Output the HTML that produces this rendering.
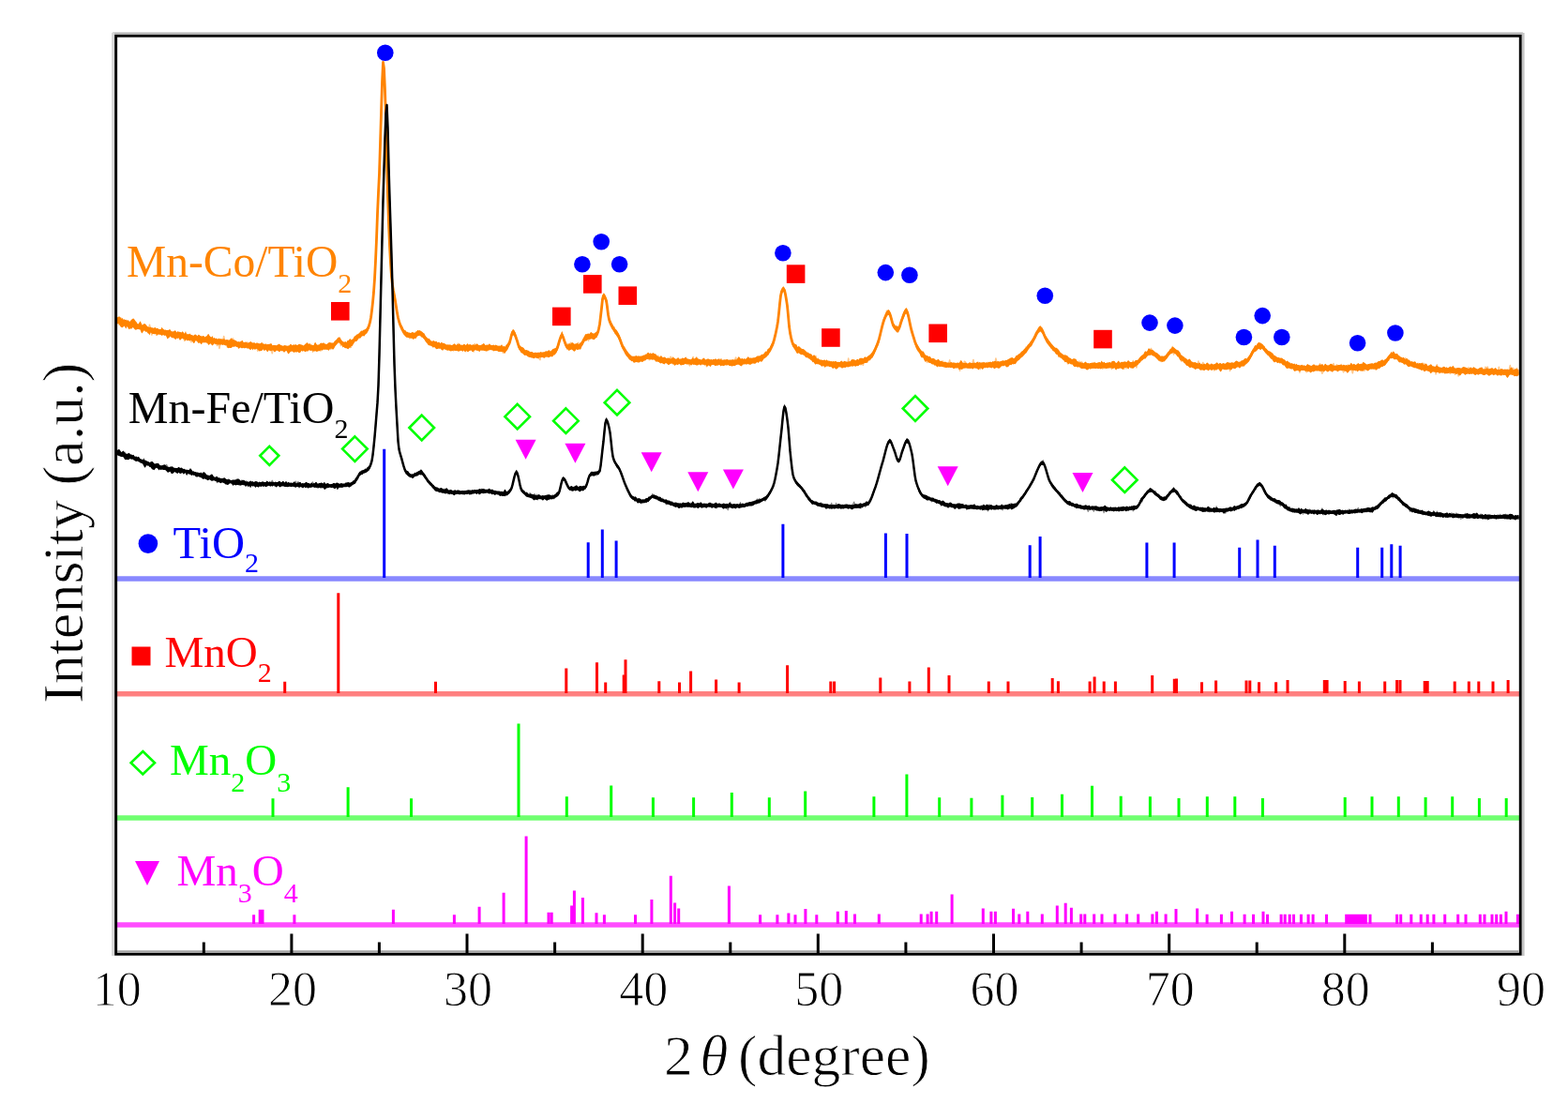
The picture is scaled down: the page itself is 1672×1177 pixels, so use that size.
<!DOCTYPE html><html><head><meta charset="utf-8"><style>html,body{margin:0;padding:0;background:#fff;}svg{display:block;}</style></head><body><svg width="1672" height="1177" viewBox="0 0 1672 1177"><rect x="0" y="0" width="1672" height="1177" fill="#fff"/><path d="M123.5 616.9H1621.5" stroke="#8888ff" stroke-width="5.5"/><path d="M409.7 616.0V478.8M627.2 616.0V578.2M642.3 616.0V564.4M657.1 616.0V576.6M834.9 616.0V558.7M944.4 616.0V568.5M967.0 616.0V568.9M1098.2 616.0V581.3M1109.1 616.0V572.1M1222.9 616.0V578.6M1252.1 616.0V578.6M1321.7 616.0V583.7M1341.0 616.0V575.6M1359.3 616.0V581.7M1447.7 616.0V583.7M1473.7 616.0V583.7M1483.8 616.0V580.3M1493.1 616.0V581.7" stroke="#0000ff" stroke-width="3" fill="none"/><path d="M123.5 739.7H1621.5" stroke="#ff8080" stroke-width="5.5"/><path d="M303.7 739.0V726.8M360.8 739.0V632.2M464.5 739.0V726.8M603.8 739.0V712.5M636.5 739.0V706.3M645.7 739.0V727.6M665.2 739.0V719.5M667.0 739.0V703.2M702.8 739.0V726.2M724.5 739.0V727.6M736.6 739.0V715.4M763.6 739.0V724.6M788.1 739.0V727.6M839.6 739.0V709.3M885.8 739.0V726.6M889.6 739.0V726.6M938.8 739.0V722.5M969.9 739.0V726.6M990.3 739.0V711.4M1012.0 739.0V720.1M1054.3 739.0V726.6M1075.0 739.0V726.6M1122.2 739.0V722.9M1128.4 739.0V726.2M1162.1 739.0V726.6M1167.1 739.0V721.5M1177.2 739.0V726.6M1189.4 739.0V726.6M1228.7 739.0V720.1M1252.3 739.0V723.8M1254.5 739.0V723.5M1281.5 739.0V727.3M1296.6 739.0V725.5M1329.0 739.0V725.5M1332.8 739.0V725.5M1342.5 739.0V727.3M1360.6 739.0V727.3M1373.0 739.0V725.0M1412.3 739.0V725.0M1415.1 739.0V725.0M1434.2 739.0V726.0M1449.4 739.0V726.5M1476.7 739.0V726.5M1489.6 739.0V725.0M1493.0 739.0V725.0M1519.2 739.0V726.0M1522.2 739.0V726.0M1551.2 739.0V726.5M1566.3 739.0V726.5M1576.8 739.0V726.5M1592.0 739.0V726.5M1608.1 739.0V725.0" stroke="#ff0000" stroke-width="3" fill="none"/><path d="M123.5 872H1621.5" stroke="#70ff70" stroke-width="5.5"/><path d="M291.0 871.0V851.2M371.1 871.0V839.2M438.5 871.0V851.2M553.0 871.0V771.4M604.3 871.0V849.3M651.7 871.0V837.4M696.4 871.0V850.2M739.6 871.0V850.2M780.3 871.0V844.9M820.3 871.0V850.2M858.7 871.0V843.4M931.9 871.0V849.3M966.9 871.0V825.4M1001.7 871.0V850.2M1035.9 871.0V850.8M1068.9 871.0V847.8M1100.7 871.0V850.0M1132.5 871.0V846.7M1164.5 871.0V837.8M1195.2 871.0V848.7M1226.4 871.0V849.3M1257.0 871.0V851.0M1287.3 871.0V849.3M1316.8 871.0V849.3M1346.4 871.0V851.0M1434.2 871.0V850.0M1463.0 871.0V849.3M1491.3 871.0V849.3M1520.1 871.0V850.0M1548.7 871.0V849.3M1577.4 871.0V851.0M1606.2 871.0V851.0" stroke="#00ff00" stroke-width="3" fill="none"/><path d="M123.5 986H1621.5" stroke="#ff4cff" stroke-width="5.5"/><path d="M270.6 985.0V975.2M277.2 985.0V969.7M280.0 985.0V969.7M313.9 985.0V975.2M419.4 985.0V969.7M484.4 985.0V975.2M511.1 985.0V966.8M537.1 985.0V951.8M561.1 985.0V891.5M585.0 985.0V972.8M588.2 985.0V972.8M609.6 985.0V965.6M612.4 985.0V949.4M621.4 985.0V957.0M636.0 985.0V973.3M644.4 985.0V975.2M677.5 985.0V975.2M694.9 985.0V959.0M715.3 985.0V933.8M719.6 985.0V962.5M723.7 985.0V968.5M777.4 985.0V944.6M810.6 985.0V975.2M828.9 985.0V975.2M840.9 985.0V973.5M848.0 985.0V975.2M858.9 985.0V969.0M870.8 985.0V975.2M893.3 985.0V971.8M902.3 985.0V971.1M911.5 985.0V974.5M937.3 985.0V974.5M982.2 985.0V974.5M989.1 985.0V974.5M993.1 985.0V971.8M998.7 985.0V971.8M1015.1 985.0V953.6M1048.3 985.0V968.4M1056.9 985.0V971.8M1061.4 985.0V971.8M1080.5 985.0V968.8M1086.8 985.0V974.5M1095.8 985.0V971.8M1111.3 985.0V974.5M1127.3 985.0V965.5M1136.2 985.0V962.7M1142.4 985.0V967.7M1152.7 985.0V974.5M1156.8 985.0V974.5M1166.7 985.0V974.5M1175.0 985.0V974.5M1189.0 985.0V974.5M1201.6 985.0V974.5M1213.7 985.0V974.5M1228.9 985.0V974.5M1233.4 985.0V971.8M1243.1 985.0V974.5M1254.0 985.0V969.0M1276.6 985.0V968.5M1287.1 985.0V974.8M1302.4 985.0V974.8M1313.5 985.0V971.8M1327.1 985.0V974.8M1336.5 985.0V974.8M1347.0 985.0V971.8M1351.5 985.0V974.8M1366.1 985.0V974.8M1370.2 985.0V974.8M1375.2 985.0V974.8M1379.5 985.0V974.8M1387.4 985.0V974.8M1395.1 985.0V974.8M1400.1 985.0V974.8M1414.5 985.0V974.8M1435.7 985.0V974.8M1438.5 985.0V974.8M1441.3 985.0V974.8M1444.1 985.0V974.8M1446.9 985.0V974.8M1449.7 985.0V974.8M1452.5 985.0V974.8M1454.4 985.0V974.8M1456.3 985.0V974.8M1461.0 985.0V974.8M1489.6 985.0V974.8M1493.7 985.0V974.8M1504.8 985.0V974.8M1515.2 985.0V974.8M1522.2 985.0V974.8M1528.9 985.0V974.8M1540.7 985.0V974.8M1554.7 985.0V974.8M1563.0 985.0V974.8M1578.3 985.0V974.8M1583.0 985.0V974.8M1591.0 985.0V974.8M1595.7 985.0V974.8M1600.4 985.0V974.8M1606.0 985.0V971.8M1618.4 985.0V974.8" stroke="#ff00ff" stroke-width="3" fill="none"/><path d="M123.5 338.3 L124.5 338.6 L125.5 338.3 L126.5 337.5 L127.5 337.6 L128.5 338.2 L129.5 339.9 L130.5 338.9 L131.5 340.7 L132.5 340.3 L133.5 341.0 L134.5 340.8 L135.5 341.8 L136.5 341.1 L137.5 342.5 L138.5 342.9 L139.5 341.5 L140.5 340.5 L141.5 339.8 L142.5 339.6 L143.5 340.7 L144.5 342.2 L145.5 343.3 L146.5 345.0 L147.5 345.4 L148.5 344.1 L149.5 342.2 L150.5 344.0 L151.5 346.5 L152.5 346.2 L153.5 345.1 L154.5 345.3 L155.5 345.8 L156.5 347.2 L157.5 348.2 L158.5 348.4 L159.5 349.1 L160.5 348.5 L161.5 349.3 L162.5 349.2 L163.5 349.8 L164.5 349.5 L165.5 348.7 L166.5 350.3 L167.5 349.8 L168.5 350.3 L169.5 350.9 L170.5 351.0 L171.5 350.9 L172.5 348.7 L173.5 350.2 L174.5 350.9 L175.5 351.8 L176.5 351.6 L177.5 351.9 L178.5 351.9 L179.5 352.0 L180.5 351.2 L181.5 351.3 L182.5 353.3 L183.5 353.2 L184.5 353.5 L185.5 353.1 L186.5 352.3 L187.5 352.7 L188.5 354.6 L189.5 353.0 L190.5 353.8 L191.5 353.7 L192.5 353.9 L193.5 354.6 L194.5 353.2 L195.5 353.9 L196.5 355.8 L197.5 354.2 L198.5 355.0 L199.5 356.5 L200.5 356.0 L201.5 356.6 L202.5 355.6 L203.5 357.1 L204.5 357.0 L205.5 357.5 L206.5 357.7 L207.5 356.8 L208.5 356.4 L209.5 357.2 L210.5 358.2 L211.5 356.8 L212.5 357.0 L213.5 357.9 L214.5 358.3 L215.5 358.4 L216.5 358.0 L217.5 358.3 L218.5 359.4 L219.5 358.5 L220.5 358.3 L221.5 356.6 L222.5 356.0 L223.5 357.9 L224.5 359.1 L225.5 359.4 L226.5 358.1 L227.5 360.8 L228.5 359.7 L229.5 360.9 L230.5 360.6 L231.5 361.3 L232.5 361.4 L233.5 360.6 L234.5 361.4 L235.5 360.9 L236.5 361.4 L237.5 361.6 L238.5 361.2 L239.5 361.6 L240.5 362.4 L241.5 362.0 L242.5 362.0 L243.5 363.0 L244.5 362.5 L245.5 361.6 L246.5 360.3 L247.5 361.3 L248.5 362.3 L249.5 362.1 L250.5 362.8 L251.5 363.1 L252.5 363.8 L253.5 364.5 L254.5 364.2 L255.5 364.5 L256.5 363.9 L257.5 363.6 L258.5 362.7 L259.5 364.7 L260.5 365.0 L261.5 364.6 L262.5 365.0 L263.5 365.3 L264.5 365.8 L265.5 365.0 L266.5 364.6 L267.5 364.0 L268.5 365.0 L269.5 365.6 L270.5 365.2 L271.5 365.3 L272.5 366.3 L273.5 365.5 L274.5 365.5 L275.5 365.9 L276.5 366.3 L277.5 366.3 L278.5 365.6 L279.5 364.9 L280.5 366.5 L281.5 366.4 L282.5 367.1 L283.5 366.3 L284.5 367.3 L285.5 367.0 L286.5 367.1 L287.5 366.7 L288.5 366.3 L289.5 366.3 L290.5 368.2 L291.5 368.0 L292.5 368.1 L293.5 367.9 L294.5 368.3 L295.5 368.1 L296.5 367.4 L297.5 366.5 L298.5 367.3 L299.5 368.1 L300.5 368.3 L301.5 368.7 L302.5 368.6 L303.5 367.9 L304.5 368.3 L305.5 368.5 L306.5 368.7 L307.5 368.5 L308.5 368.2 L309.5 367.0 L310.5 367.1 L311.5 368.3 L312.5 367.5 L313.5 367.4 L314.5 367.9 L315.5 367.1 L316.5 368.0 L317.5 367.7 L318.5 366.9 L319.5 366.7 L320.5 367.3 L321.5 367.6 L322.5 367.7 L323.5 368.4 L324.5 367.8 L325.5 366.8 L326.5 366.0 L327.5 364.9 L328.5 366.2 L329.5 366.8 L330.5 366.1 L331.5 367.6 L332.5 367.4 L333.5 368.0 L334.5 368.0 L335.5 365.5 L336.5 364.9 L337.5 367.1 L338.5 367.8 L339.5 367.6 L340.5 367.2 L341.5 366.0 L342.5 365.5 L343.5 366.1 L344.5 365.5 L345.5 365.5 L346.5 367.0 L347.5 366.9 L348.5 367.0 L349.5 365.9 L350.5 365.2 L351.5 365.0 L352.5 365.2 L353.5 365.6 L354.5 365.5 L355.5 365.5 L356.5 364.0 L357.5 363.0 L358.5 362.5 L359.5 361.0 L360.5 359.8 L361.5 359.4 L362.5 359.6 L363.5 361.5 L364.5 363.0 L365.5 364.0 L366.5 364.6 L367.5 364.7 L368.5 364.3 L369.5 364.9 L370.5 362.9 L371.5 362.9 L372.5 361.8 L373.5 361.0 L374.5 362.4 L375.5 361.7 L376.5 361.2 L377.5 359.0 L378.5 358.3 L379.5 357.4 L380.5 356.5 L381.5 356.2 L382.5 355.5 L383.5 354.4 L384.5 353.2 L385.5 352.5 L386.5 352.7 L387.5 351.7 L388.5 351.4 L389.5 351.0 L390.5 350.2 L391.5 348.8 L392.5 347.0 L393.5 344.4 L394.5 340.9 L395.5 335.8 L396.5 328.3 L397.5 319.8 L398.5 308.9 L399.5 294.6 L400.5 275.2 L401.5 252.4 L402.5 225.1 L403.5 202.8 L404.5 182.4 L405.5 150.1 L406.5 117.5 L407.5 85.6 L408.5 63.6 L409.5 70.5 L410.5 94.0 L411.5 124.2 L412.5 167.9 L413.5 204.1 L414.5 235.0 L415.5 259.3 L416.5 277.7 L417.5 292.2 L418.5 301.3 L419.5 307.6 L420.5 312.6 L421.5 318.2 L422.5 324.5 L423.5 330.6 L424.5 336.1 L425.5 340.2 L426.5 342.8 L427.5 345.6 L428.5 347.0 L429.5 348.9 L430.5 351.2 L431.5 352.1 L432.5 352.3 L433.5 353.7 L434.5 353.8 L435.5 354.6 L436.5 354.6 L437.5 355.0 L438.5 354.7 L439.5 354.0 L440.5 354.3 L441.5 354.8 L442.5 354.7 L443.5 354.1 L444.5 352.9 L445.5 351.8 L446.5 352.5 L447.5 351.9 L448.5 352.7 L449.5 353.3 L450.5 354.0 L451.5 354.9 L452.5 355.5 L453.5 357.8 L454.5 359.0 L455.5 360.0 L456.5 360.9 L457.5 361.0 L458.5 362.1 L459.5 363.3 L460.5 363.8 L461.5 363.4 L462.5 363.1 L463.5 364.0 L464.5 363.9 L465.5 363.8 L466.5 365.3 L467.5 364.8 L468.5 364.8 L469.5 366.2 L470.5 364.8 L471.5 365.6 L472.5 366.1 L473.5 365.7 L474.5 366.5 L475.5 367.2 L476.5 367.4 L477.5 367.3 L478.5 367.4 L479.5 367.6 L480.5 367.8 L481.5 367.9 L482.5 367.8 L483.5 367.0 L484.5 366.2 L485.5 367.0 L486.5 367.9 L487.5 367.1 L488.5 367.2 L489.5 366.3 L490.5 366.8 L491.5 368.1 L492.5 367.6 L493.5 367.9 L494.5 366.8 L495.5 367.1 L496.5 368.0 L497.5 367.2 L498.5 366.1 L499.5 367.6 L500.5 367.3 L501.5 367.0 L502.5 367.7 L503.5 367.7 L504.5 367.3 L505.5 367.4 L506.5 367.8 L507.5 367.3 L508.5 366.3 L509.5 367.0 L510.5 367.9 L511.5 367.9 L512.5 368.0 L513.5 367.5 L514.5 367.0 L515.5 366.1 L516.5 366.5 L517.5 368.0 L518.5 367.7 L519.5 367.5 L520.5 367.8 L521.5 366.6 L522.5 366.7 L523.5 368.1 L524.5 367.9 L525.5 368.0 L526.5 367.6 L527.5 368.4 L528.5 367.4 L529.5 367.9 L530.5 368.5 L531.5 369.0 L532.5 368.4 L533.5 368.8 L534.5 367.8 L535.5 368.3 L536.5 369.5 L537.5 368.8 L538.5 369.7 L539.5 367.9 L540.5 366.9 L541.5 365.7 L542.5 364.3 L543.5 361.9 L544.5 358.0 L545.5 354.2 L546.5 351.5 L547.5 351.0 L548.5 352.4 L549.5 355.1 L550.5 357.7 L551.5 360.4 L552.5 364.1 L553.5 367.3 L554.5 368.6 L555.5 369.2 L556.5 370.0 L557.5 370.3 L558.5 370.9 L559.5 372.6 L560.5 373.3 L561.5 373.0 L562.5 373.5 L563.5 373.8 L564.5 374.4 L565.5 375.3 L566.5 375.1 L567.5 375.1 L568.5 375.9 L569.5 376.0 L570.5 375.8 L571.5 375.7 L572.5 376.1 L573.5 375.8 L574.5 375.7 L575.5 375.8 L576.5 375.0 L577.5 375.4 L578.5 375.5 L579.5 375.3 L580.5 375.3 L581.5 374.4 L582.5 374.2 L583.5 374.6 L584.5 373.7 L585.5 373.0 L586.5 374.4 L587.5 374.2 L588.5 372.9 L589.5 372.0 L590.5 371.7 L591.5 371.3 L592.5 370.9 L593.5 369.7 L594.5 367.5 L595.5 364.4 L596.5 360.9 L597.5 357.8 L598.5 354.4 L599.5 353.1 L600.5 356.4 L601.5 359.8 L602.5 362.5 L603.5 365.5 L604.5 367.3 L605.5 367.4 L606.5 366.5 L607.5 366.2 L608.5 366.7 L609.5 365.2 L610.5 365.3 L611.5 366.1 L612.5 366.9 L613.5 366.7 L614.5 366.2 L615.5 365.4 L616.5 366.8 L617.5 366.9 L618.5 365.4 L619.5 364.7 L620.5 363.7 L621.5 361.8 L622.5 359.6 L623.5 357.5 L624.5 356.0 L625.5 356.3 L626.5 355.8 L627.5 355.5 L628.5 356.1 L629.5 354.6 L630.5 354.1 L631.5 354.9 L632.5 355.6 L633.5 355.5 L634.5 354.8 L635.5 354.0 L636.5 353.8 L637.5 351.6 L638.5 347.4 L639.5 342.4 L640.5 334.5 L641.5 325.9 L642.5 316.2 L643.5 312.2 L644.5 313.0 L645.5 315.0 L646.5 317.8 L647.5 324.8 L648.5 332.9 L649.5 338.1 L650.5 340.8 L651.5 342.6 L652.5 344.4 L653.5 346.3 L654.5 348.2 L655.5 350.0 L656.5 351.0 L657.5 351.8 L658.5 353.3 L659.5 354.9 L660.5 357.3 L661.5 359.9 L662.5 362.4 L663.5 365.4 L664.5 367.8 L665.5 369.6 L666.5 371.2 L667.5 372.6 L668.5 373.8 L669.5 375.2 L670.5 376.6 L671.5 377.7 L672.5 378.4 L673.5 379.5 L674.5 379.8 L675.5 379.7 L676.5 379.8 L677.5 379.5 L678.5 379.0 L679.5 379.7 L680.5 379.4 L681.5 379.4 L682.5 379.7 L683.5 379.4 L684.5 379.5 L685.5 378.9 L686.5 378.4 L687.5 378.4 L688.5 377.4 L689.5 377.5 L690.5 375.9 L691.5 375.8 L692.5 377.0 L693.5 376.2 L694.5 377.1 L695.5 376.7 L696.5 376.0 L697.5 377.0 L698.5 377.3 L699.5 377.6 L700.5 379.3 L701.5 379.7 L702.5 380.5 L703.5 380.4 L704.5 379.2 L705.5 379.6 L706.5 381.2 L707.5 381.0 L708.5 380.5 L709.5 381.1 L710.5 381.9 L711.5 381.7 L712.5 381.6 L713.5 381.8 L714.5 382.2 L715.5 382.5 L716.5 381.7 L717.5 381.3 L718.5 381.3 L719.5 382.0 L720.5 382.7 L721.5 382.6 L722.5 381.4 L723.5 381.3 L724.5 382.7 L725.5 382.6 L726.5 382.5 L727.5 381.5 L728.5 381.7 L729.5 382.0 L730.5 381.1 L731.5 380.6 L732.5 382.3 L733.5 382.4 L734.5 382.7 L735.5 382.9 L736.5 383.2 L737.5 382.7 L738.5 381.2 L739.5 382.2 L740.5 382.6 L741.5 381.8 L742.5 381.1 L743.5 381.5 L744.5 382.5 L745.5 382.7 L746.5 382.9 L747.5 383.4 L748.5 383.4 L749.5 381.9 L750.5 381.5 L751.5 382.9 L752.5 383.6 L753.5 382.9 L754.5 382.4 L755.5 382.5 L756.5 382.9 L757.5 383.5 L758.5 383.1 L759.5 383.7 L760.5 382.8 L761.5 383.3 L762.5 382.6 L763.5 382.6 L764.5 383.5 L765.5 382.8 L766.5 382.8 L767.5 383.5 L768.5 382.9 L769.5 383.5 L770.5 383.7 L771.5 383.4 L772.5 383.3 L773.5 383.5 L774.5 383.3 L775.5 382.9 L776.5 383.5 L777.5 383.7 L778.5 383.5 L779.5 383.8 L780.5 383.2 L781.5 383.3 L782.5 383.6 L783.5 383.4 L784.5 383.3 L785.5 383.5 L786.5 381.7 L787.5 380.2 L788.5 380.7 L789.5 382.3 L790.5 382.4 L791.5 381.8 L792.5 382.9 L793.5 382.1 L794.5 382.7 L795.5 382.7 L796.5 381.4 L797.5 380.2 L798.5 380.8 L799.5 381.9 L800.5 381.7 L801.5 381.7 L802.5 381.5 L803.5 381.2 L804.5 381.3 L805.5 381.1 L806.5 380.3 L807.5 379.6 L808.5 379.7 L809.5 379.4 L810.5 379.2 L811.5 378.2 L812.5 377.8 L813.5 377.8 L814.5 377.1 L815.5 375.4 L816.5 374.6 L817.5 374.8 L818.5 372.3 L819.5 371.5 L820.5 370.9 L821.5 368.7 L822.5 366.6 L823.5 365.4 L824.5 363.0 L825.5 359.2 L826.5 355.2 L827.5 351.0 L828.5 346.0 L829.5 339.9 L830.5 331.0 L831.5 321.1 L832.5 312.7 L833.5 307.7 L834.5 306.1 L835.5 305.2 L836.5 306.7 L837.5 311.0 L838.5 316.8 L839.5 323.3 L840.5 334.1 L841.5 345.4 L842.5 352.1 L843.5 357.0 L844.5 360.7 L845.5 363.6 L846.5 366.1 L847.5 366.5 L848.5 367.0 L849.5 367.6 L850.5 370.0 L851.5 369.1 L852.5 369.6 L853.5 370.4 L854.5 371.5 L855.5 371.9 L856.5 371.9 L857.5 372.7 L858.5 373.4 L859.5 374.5 L860.5 375.4 L861.5 375.9 L862.5 376.6 L863.5 377.0 L864.5 377.2 L865.5 377.7 L866.5 379.8 L867.5 378.5 L868.5 378.6 L869.5 379.8 L870.5 381.5 L871.5 382.4 L872.5 382.3 L873.5 382.9 L874.5 383.4 L875.5 383.6 L876.5 383.8 L877.5 383.9 L878.5 383.8 L879.5 383.6 L880.5 384.6 L881.5 383.3 L882.5 384.4 L883.5 385.3 L884.5 384.8 L885.5 385.3 L886.5 385.0 L887.5 385.6 L888.5 385.1 L889.5 385.4 L890.5 385.2 L891.5 385.1 L892.5 386.1 L893.5 385.8 L894.5 386.1 L895.5 386.1 L896.5 384.9 L897.5 384.6 L898.5 385.8 L899.5 385.6 L900.5 384.7 L901.5 385.3 L902.5 385.5 L903.5 385.7 L904.5 385.5 L905.5 385.2 L906.5 385.3 L907.5 383.9 L908.5 382.9 L909.5 383.2 L910.5 383.2 L911.5 383.7 L912.5 384.3 L913.5 383.2 L914.5 382.7 L915.5 383.7 L916.5 382.0 L917.5 381.8 L918.5 381.7 L919.5 381.7 L920.5 382.2 L921.5 381.1 L922.5 380.3 L923.5 381.0 L924.5 380.4 L925.5 379.8 L926.5 379.0 L927.5 378.2 L928.5 377.2 L929.5 376.0 L930.5 374.8 L931.5 373.3 L932.5 371.6 L933.5 368.8 L934.5 366.6 L935.5 364.4 L936.5 361.6 L937.5 358.3 L938.5 354.2 L939.5 350.2 L940.5 345.5 L941.5 341.4 L942.5 338.5 L943.5 336.3 L944.5 333.9 L945.5 331.8 L946.5 330.4 L947.5 329.9 L948.5 330.9 L949.5 333.9 L950.5 336.8 L951.5 340.4 L952.5 344.4 L953.5 345.3 L954.5 346.7 L955.5 347.8 L956.5 347.8 L957.5 348.0 L958.5 347.5 L959.5 344.8 L960.5 341.4 L961.5 338.0 L962.5 335.0 L963.5 332.4 L964.5 330.5 L965.5 329.0 L966.5 327.9 L967.5 329.4 L968.5 333.5 L969.5 338.2 L970.5 343.1 L971.5 347.9 L972.5 351.3 L973.5 354.9 L974.5 357.9 L975.5 360.6 L976.5 363.9 L977.5 365.9 L978.5 367.4 L979.5 369.2 L980.5 370.9 L981.5 372.4 L982.5 373.8 L983.5 374.6 L984.5 374.4 L985.5 376.0 L986.5 378.0 L987.5 378.7 L988.5 378.9 L989.5 379.4 L990.5 380.2 L991.5 379.7 L992.5 380.9 L993.5 382.2 L994.5 382.1 L995.5 382.0 L996.5 382.5 L997.5 383.6 L998.5 384.1 L999.5 383.6 L1000.5 382.7 L1001.5 383.7 L1002.5 384.9 L1003.5 384.8 L1004.5 384.8 L1005.5 386.0 L1006.5 386.0 L1007.5 385.7 L1008.5 385.8 L1009.5 386.5 L1010.5 386.6 L1011.5 386.6 L1012.5 386.7 L1013.5 386.3 L1014.5 385.9 L1015.5 386.8 L1016.5 386.7 L1017.5 386.5 L1018.5 386.8 L1019.5 387.2 L1020.5 386.7 L1021.5 386.5 L1022.5 387.0 L1023.5 385.8 L1024.5 384.0 L1025.5 384.7 L1026.5 386.4 L1027.5 386.9 L1028.5 387.0 L1029.5 386.7 L1030.5 386.7 L1031.5 387.5 L1032.5 387.2 L1033.5 386.5 L1034.5 386.2 L1035.5 387.0 L1036.5 387.1 L1037.5 387.1 L1038.5 386.6 L1039.5 386.8 L1040.5 387.1 L1041.5 386.1 L1042.5 385.5 L1043.5 387.0 L1044.5 386.1 L1045.5 386.6 L1046.5 386.4 L1047.5 386.2 L1048.5 386.6 L1049.5 385.9 L1050.5 386.7 L1051.5 386.3 L1052.5 386.5 L1053.5 386.4 L1054.5 386.0 L1055.5 385.7 L1056.5 385.8 L1057.5 386.2 L1058.5 384.9 L1059.5 385.6 L1060.5 384.9 L1061.5 384.7 L1062.5 385.5 L1063.5 385.3 L1064.5 385.1 L1065.5 385.4 L1066.5 385.3 L1067.5 385.1 L1068.5 384.4 L1069.5 384.3 L1070.5 384.6 L1071.5 384.4 L1072.5 383.8 L1073.5 384.1 L1074.5 383.2 L1075.5 382.8 L1076.5 382.3 L1077.5 381.8 L1078.5 381.2 L1079.5 381.1 L1080.5 382.0 L1081.5 381.9 L1082.5 380.7 L1083.5 379.0 L1084.5 378.9 L1085.5 378.1 L1086.5 377.2 L1087.5 376.9 L1088.5 375.4 L1089.5 374.6 L1090.5 374.0 L1091.5 372.8 L1092.5 371.8 L1093.5 370.7 L1094.5 369.9 L1095.5 367.9 L1096.5 366.9 L1097.5 366.0 L1098.5 364.6 L1099.5 363.3 L1100.5 361.6 L1101.5 360.3 L1102.5 358.3 L1103.5 355.8 L1104.5 353.8 L1105.5 352.5 L1106.5 350.4 L1107.5 348.8 L1108.5 347.8 L1109.5 347.3 L1110.5 348.4 L1111.5 350.1 L1112.5 351.8 L1113.5 354.2 L1114.5 356.9 L1115.5 358.5 L1116.5 360.1 L1117.5 361.4 L1118.5 362.9 L1119.5 364.2 L1120.5 365.5 L1121.5 366.8 L1122.5 367.8 L1123.5 369.1 L1124.5 370.0 L1125.5 370.7 L1126.5 370.8 L1127.5 371.6 L1128.5 372.4 L1129.5 373.8 L1130.5 375.4 L1131.5 376.2 L1132.5 377.1 L1133.5 377.8 L1134.5 378.7 L1135.5 378.6 L1136.5 378.6 L1137.5 379.0 L1138.5 379.6 L1139.5 380.8 L1140.5 381.4 L1141.5 381.7 L1142.5 382.7 L1143.5 383.1 L1144.5 382.3 L1145.5 382.2 L1146.5 382.6 L1147.5 382.9 L1148.5 384.7 L1149.5 385.5 L1150.5 386.3 L1151.5 386.2 L1152.5 386.2 L1153.5 386.7 L1154.5 387.1 L1155.5 387.3 L1156.5 386.3 L1157.5 385.6 L1158.5 386.5 L1159.5 387.3 L1160.5 386.9 L1161.5 387.5 L1162.5 387.1 L1163.5 386.9 L1164.5 386.4 L1165.5 386.8 L1166.5 386.3 L1167.5 386.7 L1168.5 386.9 L1169.5 387.1 L1170.5 386.4 L1171.5 386.2 L1172.5 386.1 L1173.5 386.8 L1174.5 384.6 L1175.5 385.7 L1176.5 386.4 L1177.5 385.8 L1178.5 386.9 L1179.5 386.9 L1180.5 386.6 L1181.5 386.6 L1182.5 386.3 L1183.5 386.1 L1184.5 386.7 L1185.5 385.3 L1186.5 384.9 L1187.5 384.8 L1188.5 385.1 L1189.5 386.4 L1190.5 386.9 L1191.5 386.0 L1192.5 384.5 L1193.5 385.5 L1194.5 386.7 L1195.5 386.0 L1196.5 385.7 L1197.5 386.1 L1198.5 385.4 L1199.5 385.4 L1200.5 385.7 L1201.5 386.0 L1202.5 384.5 L1203.5 384.2 L1204.5 385.4 L1205.5 385.9 L1206.5 385.9 L1207.5 385.7 L1208.5 385.4 L1209.5 385.7 L1210.5 384.3 L1211.5 384.0 L1212.5 383.9 L1213.5 383.4 L1214.5 382.3 L1215.5 380.7 L1216.5 379.8 L1217.5 378.9 L1218.5 378.2 L1219.5 377.3 L1220.5 375.0 L1221.5 374.3 L1222.5 375.1 L1223.5 373.9 L1224.5 371.6 L1225.5 371.6 L1226.5 372.6 L1227.5 372.7 L1228.5 372.7 L1229.5 373.2 L1230.5 374.2 L1231.5 375.0 L1232.5 375.8 L1233.5 376.1 L1234.5 376.8 L1235.5 377.8 L1236.5 378.6 L1237.5 379.8 L1238.5 379.4 L1239.5 379.5 L1240.5 379.7 L1241.5 379.4 L1242.5 378.9 L1243.5 377.8 L1244.5 376.7 L1245.5 375.4 L1246.5 374.1 L1247.5 372.4 L1248.5 371.7 L1249.5 370.5 L1250.5 369.8 L1251.5 370.2 L1252.5 370.9 L1253.5 371.9 L1254.5 372.7 L1255.5 373.2 L1256.5 373.4 L1257.5 374.7 L1258.5 376.2 L1259.5 378.4 L1260.5 378.7 L1261.5 380.1 L1262.5 380.3 L1263.5 381.6 L1264.5 381.7 L1265.5 382.7 L1266.5 383.7 L1267.5 383.1 L1268.5 382.6 L1269.5 383.7 L1270.5 385.2 L1271.5 385.7 L1272.5 386.2 L1273.5 386.2 L1274.5 386.1 L1275.5 386.7 L1276.5 386.9 L1277.5 387.5 L1278.5 387.1 L1279.5 386.6 L1280.5 388.2 L1281.5 388.0 L1282.5 388.6 L1283.5 387.9 L1284.5 387.8 L1285.5 388.4 L1286.5 387.0 L1287.5 386.5 L1288.5 387.4 L1289.5 388.6 L1290.5 388.5 L1291.5 387.6 L1292.5 387.8 L1293.5 388.5 L1294.5 388.3 L1295.5 388.1 L1296.5 387.2 L1297.5 386.2 L1298.5 387.3 L1299.5 388.3 L1300.5 386.9 L1301.5 387.1 L1302.5 388.0 L1303.5 387.5 L1304.5 387.1 L1305.5 387.5 L1306.5 387.8 L1307.5 386.9 L1308.5 386.0 L1309.5 386.3 L1310.5 386.5 L1311.5 386.7 L1312.5 387.1 L1313.5 386.3 L1314.5 386.4 L1315.5 386.7 L1316.5 385.9 L1317.5 385.0 L1318.5 384.6 L1319.5 384.9 L1320.5 385.8 L1321.5 385.8 L1322.5 385.6 L1323.5 384.6 L1324.5 384.3 L1325.5 384.1 L1326.5 383.0 L1327.5 381.9 L1328.5 381.9 L1329.5 382.6 L1330.5 380.9 L1331.5 379.7 L1332.5 378.7 L1333.5 376.7 L1334.5 374.7 L1335.5 373.1 L1336.5 371.4 L1337.5 369.3 L1338.5 367.9 L1339.5 368.4 L1340.5 366.5 L1341.5 365.5 L1342.5 364.8 L1343.5 365.4 L1344.5 365.6 L1345.5 366.6 L1346.5 366.9 L1347.5 368.4 L1348.5 369.3 L1349.5 371.3 L1350.5 371.7 L1351.5 373.0 L1352.5 374.0 L1353.5 374.3 L1354.5 374.7 L1355.5 375.4 L1356.5 376.2 L1357.5 377.0 L1358.5 378.8 L1359.5 378.9 L1360.5 379.7 L1361.5 380.6 L1362.5 380.9 L1363.5 381.0 L1364.5 381.5 L1365.5 381.8 L1366.5 381.6 L1367.5 382.0 L1368.5 383.0 L1369.5 383.3 L1370.5 384.0 L1371.5 385.6 L1372.5 384.6 L1373.5 385.3 L1374.5 386.2 L1375.5 386.6 L1376.5 387.5 L1377.5 387.1 L1378.5 387.8 L1379.5 388.1 L1380.5 387.5 L1381.5 388.7 L1382.5 387.8 L1383.5 388.9 L1384.5 389.1 L1385.5 389.3 L1386.5 389.4 L1387.5 389.2 L1388.5 388.8 L1389.5 389.8 L1390.5 389.5 L1391.5 389.9 L1392.5 390.1 L1393.5 388.8 L1394.5 388.1 L1395.5 389.0 L1396.5 389.3 L1397.5 389.7 L1398.5 390.0 L1399.5 389.2 L1400.5 388.5 L1401.5 388.5 L1402.5 389.6 L1403.5 389.6 L1404.5 389.6 L1405.5 389.7 L1406.5 388.8 L1407.5 388.5 L1408.5 388.7 L1409.5 388.3 L1410.5 388.2 L1411.5 389.9 L1412.5 388.3 L1413.5 387.7 L1414.5 388.9 L1415.5 389.6 L1416.5 389.5 L1417.5 389.0 L1418.5 388.1 L1419.5 387.7 L1420.5 388.3 L1421.5 389.6 L1422.5 389.6 L1423.5 389.7 L1424.5 389.7 L1425.5 389.4 L1426.5 389.3 L1427.5 389.1 L1428.5 389.0 L1429.5 388.7 L1430.5 389.0 L1431.5 389.5 L1432.5 388.8 L1433.5 388.9 L1434.5 389.5 L1435.5 388.9 L1436.5 389.4 L1437.5 389.2 L1438.5 389.0 L1439.5 388.7 L1440.5 386.8 L1441.5 387.6 L1442.5 388.7 L1443.5 387.7 L1444.5 388.2 L1445.5 388.9 L1446.5 388.7 L1447.5 387.7 L1448.5 386.9 L1449.5 388.3 L1450.5 388.1 L1451.5 387.8 L1452.5 387.7 L1453.5 385.8 L1454.5 386.5 L1455.5 387.1 L1456.5 388.1 L1457.5 388.6 L1458.5 388.3 L1459.5 387.9 L1460.5 387.8 L1461.5 387.8 L1462.5 387.2 L1463.5 387.2 L1464.5 387.8 L1465.5 386.9 L1466.5 386.4 L1467.5 386.8 L1468.5 386.3 L1469.5 385.3 L1470.5 385.1 L1471.5 384.9 L1472.5 384.0 L1473.5 383.4 L1474.5 383.6 L1475.5 384.5 L1476.5 383.2 L1477.5 382.7 L1478.5 382.0 L1479.5 380.5 L1480.5 379.3 L1481.5 378.1 L1482.5 376.7 L1483.5 375.1 L1484.5 376.0 L1485.5 374.6 L1486.5 375.1 L1487.5 376.8 L1488.5 377.3 L1489.5 376.8 L1490.5 377.7 L1491.5 379.1 L1492.5 379.6 L1493.5 380.6 L1494.5 380.7 L1495.5 381.6 L1496.5 380.8 L1497.5 381.7 L1498.5 382.9 L1499.5 382.3 L1500.5 381.9 L1501.5 383.5 L1502.5 383.6 L1503.5 384.4 L1504.5 385.4 L1505.5 385.1 L1506.5 385.7 L1507.5 385.8 L1508.5 385.2 L1509.5 385.8 L1510.5 387.4 L1511.5 387.1 L1512.5 387.7 L1513.5 386.9 L1514.5 387.3 L1515.5 387.2 L1516.5 386.6 L1517.5 387.9 L1518.5 388.9 L1519.5 388.3 L1520.5 387.4 L1521.5 388.3 L1522.5 390.2 L1523.5 389.5 L1524.5 389.2 L1525.5 388.3 L1526.5 388.8 L1527.5 390.2 L1528.5 390.5 L1529.5 390.9 L1530.5 390.9 L1531.5 389.5 L1532.5 389.8 L1533.5 390.8 L1534.5 391.2 L1535.5 391.6 L1536.5 391.8 L1537.5 391.9 L1538.5 391.3 L1539.5 390.8 L1540.5 391.0 L1541.5 392.0 L1542.5 391.2 L1543.5 392.2 L1544.5 391.9 L1545.5 391.3 L1546.5 390.5 L1547.5 391.6 L1548.5 390.8 L1549.5 389.7 L1550.5 391.5 L1551.5 392.5 L1552.5 392.5 L1553.5 392.3 L1554.5 392.1 L1555.5 392.1 L1556.5 392.2 L1557.5 392.4 L1558.5 392.4 L1559.5 391.5 L1560.5 391.1 L1561.5 391.2 L1562.5 391.5 L1563.5 391.9 L1564.5 392.2 L1565.5 392.9 L1566.5 392.9 L1567.5 391.7 L1568.5 391.4 L1569.5 392.4 L1570.5 392.3 L1571.5 391.1 L1572.5 392.0 L1573.5 392.6 L1574.5 392.9 L1575.5 393.4 L1576.5 393.1 L1577.5 392.3 L1578.5 392.0 L1579.5 391.8 L1580.5 391.5 L1581.5 393.5 L1582.5 393.2 L1583.5 393.6 L1584.5 393.1 L1585.5 392.2 L1586.5 392.7 L1587.5 393.6 L1588.5 392.9 L1589.5 392.7 L1590.5 392.3 L1591.5 392.2 L1592.5 393.4 L1593.5 393.1 L1594.5 391.9 L1595.5 392.7 L1596.5 393.9 L1597.5 394.1 L1598.5 394.1 L1599.5 393.9 L1600.5 393.1 L1601.5 393.2 L1602.5 393.4 L1603.5 393.9 L1604.5 393.6 L1605.5 393.7 L1606.5 393.7 L1607.5 393.5 L1608.5 394.2 L1609.5 393.9 L1610.5 392.4 L1611.5 391.4 L1612.5 392.6 L1613.5 394.3 L1614.5 394.0 L1615.5 393.4 L1616.5 393.0 L1617.5 393.2 L1618.5 393.7 L1619.5 394.1 L1619.5 400.0 L1618.5 400.7 L1617.5 401.3 L1616.5 401.0 L1615.5 401.1 L1614.5 401.3 L1613.5 399.8 L1612.5 399.9 L1611.5 399.6 L1610.5 399.5 L1609.5 399.9 L1608.5 401.7 L1607.5 402.9 L1606.5 402.1 L1605.5 400.3 L1604.5 399.8 L1603.5 400.2 L1602.5 399.6 L1601.5 400.4 L1600.5 400.0 L1599.5 400.5 L1598.5 399.4 L1597.5 400.4 L1596.5 400.4 L1595.5 399.6 L1594.5 399.2 L1593.5 399.8 L1592.5 400.2 L1591.5 399.2 L1590.5 399.2 L1589.5 399.7 L1588.5 400.4 L1587.5 400.8 L1586.5 399.8 L1585.5 399.2 L1584.5 398.9 L1583.5 399.9 L1582.5 400.1 L1581.5 400.1 L1580.5 399.3 L1579.5 398.8 L1578.5 398.8 L1577.5 399.1 L1576.5 399.8 L1575.5 399.3 L1574.5 399.0 L1573.5 399.9 L1572.5 399.7 L1571.5 398.9 L1570.5 398.3 L1569.5 399.0 L1568.5 398.6 L1567.5 398.9 L1566.5 399.1 L1565.5 398.4 L1564.5 398.7 L1563.5 399.1 L1562.5 399.7 L1561.5 398.7 L1560.5 398.2 L1559.5 398.0 L1558.5 398.6 L1557.5 400.0 L1556.5 400.6 L1555.5 399.8 L1554.5 398.2 L1553.5 398.7 L1552.5 398.9 L1551.5 398.0 L1550.5 398.1 L1549.5 398.3 L1548.5 398.1 L1547.5 397.7 L1546.5 397.7 L1545.5 397.6 L1544.5 397.9 L1543.5 398.2 L1542.5 398.3 L1541.5 398.3 L1540.5 398.4 L1539.5 397.3 L1538.5 397.7 L1537.5 397.6 L1536.5 397.6 L1535.5 397.7 L1534.5 397.6 L1533.5 397.1 L1532.5 397.0 L1531.5 397.4 L1530.5 396.7 L1529.5 396.7 L1528.5 396.5 L1527.5 396.6 L1526.5 397.4 L1525.5 398.2 L1524.5 396.5 L1523.5 396.0 L1522.5 395.8 L1521.5 395.2 L1520.5 395.3 L1519.5 396.1 L1518.5 396.3 L1517.5 394.4 L1516.5 394.6 L1515.5 395.1 L1514.5 393.9 L1513.5 393.7 L1512.5 393.5 L1511.5 392.9 L1510.5 392.7 L1509.5 392.2 L1508.5 392.2 L1507.5 391.9 L1506.5 391.4 L1505.5 391.2 L1504.5 390.6 L1503.5 390.7 L1502.5 390.9 L1501.5 390.9 L1500.5 390.0 L1499.5 388.7 L1498.5 388.3 L1497.5 388.6 L1496.5 387.7 L1495.5 387.1 L1494.5 386.8 L1493.5 386.2 L1492.5 386.4 L1491.5 386.0 L1490.5 384.5 L1489.5 383.1 L1488.5 382.9 L1487.5 383.2 L1486.5 383.0 L1485.5 381.9 L1484.5 382.0 L1483.5 382.2 L1482.5 382.0 L1481.5 383.2 L1480.5 384.8 L1479.5 386.2 L1478.5 387.6 L1477.5 389.1 L1476.5 389.9 L1475.5 390.1 L1474.5 390.9 L1473.5 390.9 L1472.5 391.6 L1471.5 392.5 L1470.5 393.3 L1469.5 392.7 L1468.5 393.9 L1467.5 394.7 L1466.5 393.5 L1465.5 393.6 L1464.5 393.8 L1463.5 393.5 L1462.5 393.8 L1461.5 393.6 L1460.5 394.0 L1459.5 395.1 L1458.5 395.5 L1457.5 395.0 L1456.5 394.0 L1455.5 394.0 L1454.5 394.3 L1453.5 395.5 L1452.5 395.8 L1451.5 395.5 L1450.5 395.4 L1449.5 394.8 L1448.5 395.6 L1447.5 396.5 L1446.5 394.7 L1445.5 394.9 L1444.5 395.0 L1443.5 394.8 L1442.5 394.9 L1441.5 394.5 L1440.5 394.8 L1439.5 394.7 L1438.5 396.0 L1437.5 397.3 L1436.5 397.8 L1435.5 395.9 L1434.5 395.7 L1433.5 395.6 L1432.5 395.1 L1431.5 395.0 L1430.5 395.2 L1429.5 394.7 L1428.5 395.0 L1427.5 395.6 L1426.5 396.4 L1425.5 395.6 L1424.5 395.2 L1423.5 395.0 L1422.5 395.3 L1421.5 395.7 L1420.5 396.7 L1419.5 395.7 L1418.5 395.4 L1417.5 395.2 L1416.5 396.2 L1415.5 396.6 L1414.5 395.7 L1413.5 395.0 L1412.5 395.8 L1411.5 396.5 L1410.5 395.6 L1409.5 396.0 L1408.5 395.6 L1407.5 395.9 L1406.5 395.6 L1405.5 395.4 L1404.5 395.6 L1403.5 395.2 L1402.5 395.4 L1401.5 396.1 L1400.5 396.6 L1399.5 396.0 L1398.5 396.8 L1397.5 397.6 L1396.5 396.5 L1395.5 395.9 L1394.5 396.5 L1393.5 395.5 L1392.5 396.0 L1391.5 395.4 L1390.5 395.0 L1389.5 395.1 L1388.5 395.0 L1387.5 395.1 L1386.5 396.0 L1385.5 396.0 L1384.5 395.3 L1383.5 395.1 L1382.5 395.2 L1381.5 395.4 L1380.5 395.9 L1379.5 395.0 L1378.5 393.3 L1377.5 393.4 L1376.5 393.4 L1375.5 392.9 L1374.5 392.5 L1373.5 392.8 L1372.5 393.0 L1371.5 392.5 L1370.5 391.1 L1369.5 389.4 L1368.5 389.5 L1367.5 389.0 L1366.5 387.6 L1365.5 387.3 L1364.5 387.6 L1363.5 386.6 L1362.5 387.3 L1361.5 386.2 L1360.5 385.5 L1359.5 386.2 L1358.5 386.3 L1357.5 385.0 L1356.5 383.3 L1355.5 382.7 L1354.5 381.8 L1353.5 380.6 L1352.5 379.3 L1351.5 378.8 L1350.5 377.4 L1349.5 376.4 L1348.5 375.2 L1347.5 373.9 L1346.5 372.6 L1345.5 371.8 L1344.5 372.9 L1343.5 372.7 L1342.5 372.1 L1341.5 372.3 L1340.5 373.6 L1339.5 374.4 L1338.5 375.0 L1337.5 375.3 L1336.5 376.8 L1335.5 378.7 L1334.5 380.5 L1333.5 382.2 L1332.5 384.0 L1331.5 385.6 L1330.5 386.8 L1329.5 387.8 L1328.5 388.5 L1327.5 389.6 L1326.5 390.7 L1325.5 390.4 L1324.5 390.7 L1323.5 390.4 L1322.5 392.3 L1321.5 392.6 L1320.5 391.2 L1319.5 391.6 L1318.5 392.0 L1317.5 392.9 L1316.5 393.3 L1315.5 392.8 L1314.5 392.4 L1313.5 393.9 L1312.5 394.6 L1311.5 394.0 L1310.5 393.4 L1309.5 393.8 L1308.5 394.2 L1307.5 394.2 L1306.5 394.3 L1305.5 394.3 L1304.5 393.7 L1303.5 393.6 L1302.5 395.5 L1301.5 396.6 L1300.5 395.2 L1299.5 393.6 L1298.5 393.4 L1297.5 394.4 L1296.5 394.6 L1295.5 394.3 L1294.5 394.4 L1293.5 393.8 L1292.5 395.1 L1291.5 394.7 L1290.5 393.7 L1289.5 394.1 L1288.5 395.6 L1287.5 394.6 L1286.5 394.2 L1285.5 394.1 L1284.5 394.9 L1283.5 395.0 L1282.5 394.6 L1281.5 394.4 L1280.5 394.8 L1279.5 394.5 L1278.5 393.2 L1277.5 392.9 L1276.5 393.1 L1275.5 393.5 L1274.5 394.1 L1273.5 393.1 L1272.5 392.5 L1271.5 392.2 L1270.5 391.6 L1269.5 392.1 L1268.5 391.9 L1267.5 391.1 L1266.5 390.0 L1265.5 389.9 L1264.5 389.1 L1263.5 387.4 L1262.5 387.0 L1261.5 385.4 L1260.5 384.7 L1259.5 384.5 L1258.5 384.2 L1257.5 382.4 L1256.5 380.4 L1255.5 380.2 L1254.5 378.8 L1253.5 377.4 L1252.5 377.0 L1251.5 376.3 L1250.5 376.3 L1249.5 377.1 L1248.5 377.3 L1247.5 378.1 L1246.5 379.2 L1245.5 380.6 L1244.5 382.3 L1243.5 383.3 L1242.5 384.4 L1241.5 385.4 L1240.5 385.6 L1239.5 386.1 L1238.5 385.4 L1237.5 385.1 L1236.5 384.7 L1235.5 384.8 L1234.5 383.4 L1233.5 382.5 L1232.5 381.5 L1231.5 380.5 L1230.5 379.7 L1229.5 379.4 L1228.5 379.1 L1227.5 378.3 L1226.5 378.9 L1225.5 378.5 L1224.5 379.1 L1223.5 379.7 L1222.5 380.9 L1221.5 382.5 L1220.5 382.5 L1219.5 382.8 L1218.5 383.9 L1217.5 384.6 L1216.5 385.5 L1215.5 386.9 L1214.5 387.6 L1213.5 389.1 L1212.5 389.5 L1211.5 390.4 L1210.5 391.0 L1209.5 391.8 L1208.5 392.7 L1207.5 392.8 L1206.5 392.5 L1205.5 392.6 L1204.5 391.3 L1203.5 393.5 L1202.5 393.1 L1201.5 391.5 L1200.5 391.9 L1199.5 391.9 L1198.5 392.4 L1197.5 394.0 L1196.5 393.4 L1195.5 392.8 L1194.5 392.5 L1193.5 392.7 L1192.5 393.2 L1191.5 393.0 L1190.5 393.8 L1189.5 393.9 L1188.5 392.3 L1187.5 392.8 L1186.5 392.9 L1185.5 392.4 L1184.5 392.5 L1183.5 392.2 L1182.5 392.8 L1181.5 392.5 L1180.5 393.0 L1179.5 393.0 L1178.5 392.6 L1177.5 392.4 L1176.5 392.5 L1175.5 392.6 L1174.5 393.1 L1173.5 393.4 L1172.5 392.7 L1171.5 393.2 L1170.5 393.1 L1169.5 392.7 L1168.5 393.1 L1167.5 393.0 L1166.5 392.7 L1165.5 392.9 L1164.5 392.8 L1163.5 393.3 L1162.5 392.8 L1161.5 393.1 L1160.5 393.8 L1159.5 394.6 L1158.5 394.3 L1157.5 393.2 L1156.5 393.0 L1155.5 392.7 L1154.5 393.1 L1153.5 392.9 L1152.5 392.7 L1151.5 391.7 L1150.5 391.3 L1149.5 391.6 L1148.5 391.6 L1147.5 390.7 L1146.5 391.0 L1145.5 391.1 L1144.5 389.9 L1143.5 388.6 L1142.5 388.4 L1141.5 388.3 L1140.5 387.3 L1139.5 388.2 L1138.5 387.4 L1137.5 386.0 L1136.5 385.9 L1135.5 386.3 L1134.5 384.6 L1133.5 383.8 L1132.5 382.8 L1131.5 381.8 L1130.5 381.4 L1129.5 380.3 L1128.5 380.2 L1127.5 378.1 L1126.5 377.9 L1125.5 377.0 L1124.5 375.3 L1123.5 374.4 L1122.5 373.9 L1121.5 372.2 L1120.5 371.5 L1119.5 370.1 L1118.5 368.7 L1117.5 367.4 L1116.5 366.2 L1115.5 364.7 L1114.5 362.5 L1113.5 359.9 L1112.5 357.5 L1111.5 355.8 L1110.5 354.4 L1109.5 353.5 L1108.5 353.8 L1107.5 354.7 L1106.5 356.0 L1105.5 358.0 L1104.5 360.1 L1103.5 361.9 L1102.5 364.1 L1101.5 366.1 L1100.5 368.2 L1099.5 369.6 L1098.5 370.2 L1097.5 371.4 L1096.5 372.5 L1095.5 374.6 L1094.5 376.2 L1093.5 376.9 L1092.5 378.0 L1091.5 379.2 L1090.5 380.2 L1089.5 380.7 L1088.5 381.8 L1087.5 383.0 L1086.5 384.0 L1085.5 384.6 L1084.5 385.2 L1083.5 387.2 L1082.5 388.3 L1081.5 388.0 L1080.5 388.5 L1079.5 388.1 L1078.5 389.2 L1077.5 389.0 L1076.5 389.3 L1075.5 390.7 L1074.5 391.2 L1073.5 391.5 L1072.5 390.8 L1071.5 389.6 L1070.5 390.2 L1069.5 390.3 L1068.5 390.3 L1067.5 390.7 L1066.5 391.9 L1065.5 392.8 L1064.5 392.7 L1063.5 392.3 L1062.5 391.9 L1061.5 392.5 L1060.5 393.3 L1059.5 392.5 L1058.5 391.6 L1057.5 392.5 L1056.5 392.2 L1055.5 391.8 L1054.5 391.7 L1053.5 392.0 L1052.5 392.5 L1051.5 391.7 L1050.5 392.5 L1049.5 391.9 L1048.5 393.2 L1047.5 393.9 L1046.5 392.6 L1045.5 392.4 L1044.5 393.1 L1043.5 394.4 L1042.5 393.4 L1041.5 392.8 L1040.5 392.7 L1039.5 392.6 L1038.5 392.6 L1037.5 393.5 L1036.5 393.3 L1035.5 392.6 L1034.5 393.0 L1033.5 392.6 L1032.5 393.0 L1031.5 392.8 L1030.5 392.6 L1029.5 392.5 L1028.5 392.8 L1027.5 392.5 L1026.5 393.5 L1025.5 393.9 L1024.5 393.6 L1023.5 394.1 L1022.5 394.0 L1021.5 392.3 L1020.5 392.5 L1019.5 392.4 L1018.5 392.5 L1017.5 393.1 L1016.5 392.9 L1015.5 392.0 L1014.5 392.1 L1013.5 392.2 L1012.5 391.8 L1011.5 392.1 L1010.5 391.8 L1009.5 392.0 L1008.5 392.1 L1007.5 391.6 L1006.5 391.5 L1005.5 391.2 L1004.5 391.1 L1003.5 390.8 L1002.5 390.9 L1001.5 390.8 L1000.5 390.6 L999.5 391.6 L998.5 390.5 L997.5 389.5 L996.5 389.8 L995.5 388.5 L994.5 388.6 L993.5 388.3 L992.5 387.3 L991.5 387.0 L990.5 386.7 L989.5 386.0 L988.5 384.6 L987.5 385.5 L986.5 385.8 L985.5 384.0 L984.5 381.5 L983.5 381.3 L982.5 381.2 L981.5 379.4 L980.5 376.7 L979.5 375.4 L978.5 374.1 L977.5 372.5 L976.5 370.1 L975.5 366.6 L974.5 363.4 L973.5 359.9 L972.5 357.2 L971.5 353.7 L970.5 348.6 L969.5 343.7 L968.5 339.5 L967.5 336.4 L966.5 334.4 L965.5 334.7 L964.5 336.9 L963.5 339.3 L962.5 341.4 L961.5 344.0 L960.5 347.5 L959.5 350.5 L958.5 353.4 L957.5 354.0 L956.5 354.4 L955.5 353.5 L954.5 352.2 L953.5 351.2 L952.5 349.6 L951.5 346.7 L950.5 342.9 L949.5 339.2 L948.5 336.4 L947.5 336.1 L946.5 336.2 L945.5 337.4 L944.5 339.4 L943.5 341.7 L942.5 344.3 L941.5 347.8 L940.5 351.2 L939.5 355.9 L938.5 360.4 L937.5 364.8 L936.5 367.7 L935.5 369.5 L934.5 372.1 L933.5 374.5 L932.5 377.1 L931.5 379.3 L930.5 381.1 L929.5 381.9 L928.5 383.3 L927.5 383.8 L926.5 384.5 L925.5 385.3 L924.5 386.7 L923.5 387.1 L922.5 387.0 L921.5 387.2 L920.5 388.0 L919.5 388.2 L918.5 388.7 L917.5 388.6 L916.5 389.1 L915.5 390.0 L914.5 390.1 L913.5 389.9 L912.5 390.8 L911.5 390.4 L910.5 390.1 L909.5 390.8 L908.5 390.5 L907.5 390.4 L906.5 390.7 L905.5 390.9 L904.5 391.5 L903.5 391.2 L902.5 391.2 L901.5 391.9 L900.5 391.8 L899.5 391.7 L898.5 392.5 L897.5 392.5 L896.5 391.6 L895.5 391.5 L894.5 391.3 L893.5 392.4 L892.5 393.2 L891.5 393.8 L890.5 392.8 L889.5 391.9 L888.5 393.1 L887.5 392.4 L886.5 391.3 L885.5 390.9 L884.5 391.2 L883.5 390.5 L882.5 390.6 L881.5 390.3 L880.5 391.0 L879.5 391.2 L878.5 390.3 L877.5 390.2 L876.5 390.8 L875.5 390.2 L874.5 388.9 L873.5 388.7 L872.5 388.3 L871.5 388.3 L870.5 388.0 L869.5 388.8 L868.5 387.4 L867.5 386.0 L866.5 386.2 L865.5 384.6 L864.5 384.0 L863.5 382.7 L862.5 382.6 L861.5 381.4 L860.5 381.3 L859.5 381.3 L858.5 380.3 L857.5 379.0 L856.5 378.4 L855.5 378.1 L854.5 378.2 L853.5 377.7 L852.5 377.0 L851.5 376.3 L850.5 376.9 L849.5 376.6 L848.5 374.4 L847.5 373.0 L846.5 371.3 L845.5 369.8 L844.5 366.7 L843.5 362.6 L842.5 357.4 L841.5 350.6 L840.5 339.3 L839.5 328.7 L838.5 322.2 L837.5 316.4 L836.5 312.0 L835.5 311.1 L834.5 311.9 L833.5 313.6 L832.5 317.7 L831.5 326.5 L830.5 336.7 L829.5 346.0 L828.5 351.5 L827.5 356.7 L826.5 361.6 L825.5 365.5 L824.5 368.5 L823.5 370.7 L822.5 373.0 L821.5 375.2 L820.5 376.3 L819.5 378.4 L818.5 379.3 L817.5 380.4 L816.5 381.3 L815.5 381.9 L814.5 382.6 L813.5 384.3 L812.5 385.6 L811.5 385.7 L810.5 385.0 L809.5 385.9 L808.5 386.9 L807.5 386.1 L806.5 386.7 L805.5 387.4 L804.5 387.8 L803.5 387.4 L802.5 387.2 L801.5 387.9 L800.5 388.7 L799.5 388.7 L798.5 388.4 L797.5 387.9 L796.5 388.4 L795.5 388.4 L794.5 388.3 L793.5 388.4 L792.5 388.6 L791.5 389.5 L790.5 390.4 L789.5 390.0 L788.5 389.2 L787.5 388.7 L786.5 388.7 L785.5 388.9 L784.5 389.6 L783.5 390.3 L782.5 390.0 L781.5 390.3 L780.5 390.6 L779.5 390.2 L778.5 389.9 L777.5 389.9 L776.5 389.1 L775.5 389.4 L774.5 389.4 L773.5 389.3 L772.5 389.7 L771.5 390.2 L770.5 389.8 L769.5 389.7 L768.5 390.4 L767.5 389.3 L766.5 388.9 L765.5 389.5 L764.5 389.3 L763.5 389.9 L762.5 390.1 L761.5 389.3 L760.5 388.9 L759.5 389.1 L758.5 389.4 L757.5 391.2 L756.5 390.1 L755.5 389.5 L754.5 390.5 L753.5 390.8 L752.5 388.7 L751.5 389.7 L750.5 388.8 L749.5 388.8 L748.5 388.6 L747.5 389.4 L746.5 389.2 L745.5 388.5 L744.5 389.2 L743.5 389.4 L742.5 389.4 L741.5 389.0 L740.5 388.7 L739.5 389.1 L738.5 388.3 L737.5 389.6 L736.5 389.1 L735.5 388.4 L734.5 388.3 L733.5 388.4 L732.5 388.5 L731.5 388.2 L730.5 388.1 L729.5 388.8 L728.5 389.1 L727.5 389.1 L726.5 389.6 L725.5 389.2 L724.5 388.0 L723.5 388.4 L722.5 389.3 L721.5 388.5 L720.5 388.9 L719.5 390.0 L718.5 388.4 L717.5 388.6 L716.5 387.6 L715.5 387.8 L714.5 388.1 L713.5 389.0 L712.5 388.9 L711.5 388.1 L710.5 387.3 L709.5 387.2 L708.5 388.4 L707.5 387.9 L706.5 387.4 L705.5 387.1 L704.5 387.4 L703.5 387.1 L702.5 386.0 L701.5 385.7 L700.5 385.5 L699.5 385.8 L698.5 384.6 L697.5 383.4 L696.5 383.4 L695.5 383.7 L694.5 383.3 L693.5 383.3 L692.5 383.3 L691.5 382.8 L690.5 382.9 L689.5 382.9 L688.5 384.3 L687.5 384.5 L686.5 384.7 L685.5 385.7 L684.5 385.9 L683.5 385.0 L682.5 386.1 L681.5 386.4 L680.5 386.4 L679.5 386.3 L678.5 386.0 L677.5 386.3 L676.5 386.8 L675.5 386.6 L674.5 385.1 L673.5 385.2 L672.5 384.3 L671.5 383.8 L670.5 382.8 L669.5 381.2 L668.5 379.9 L667.5 378.6 L666.5 377.6 L665.5 375.1 L664.5 373.0 L663.5 370.9 L662.5 369.3 L661.5 366.3 L660.5 363.2 L659.5 361.6 L658.5 359.6 L657.5 358.3 L656.5 356.8 L655.5 355.5 L654.5 353.7 L653.5 351.9 L652.5 350.4 L651.5 348.3 L650.5 346.5 L649.5 343.8 L648.5 338.6 L647.5 330.1 L646.5 323.5 L645.5 321.4 L644.5 318.7 L643.5 318.8 L642.5 321.7 L641.5 331.1 L640.5 339.7 L639.5 348.0 L638.5 353.2 L637.5 357.0 L636.5 359.9 L635.5 360.3 L634.5 361.2 L633.5 362.2 L632.5 362.1 L631.5 361.4 L630.5 361.2 L629.5 361.8 L628.5 361.8 L627.5 361.7 L626.5 362.3 L625.5 363.4 L624.5 363.6 L623.5 363.9 L622.5 365.8 L621.5 368.0 L620.5 369.0 L619.5 372.1 L618.5 372.8 L617.5 372.3 L616.5 373.1 L615.5 373.0 L614.5 372.3 L613.5 374.0 L612.5 374.7 L611.5 373.9 L610.5 373.2 L609.5 372.6 L608.5 373.1 L607.5 373.3 L606.5 373.9 L605.5 372.6 L604.5 372.7 L603.5 370.6 L602.5 368.2 L601.5 365.6 L600.5 362.1 L599.5 359.9 L598.5 360.2 L597.5 363.6 L596.5 366.7 L595.5 370.0 L594.5 373.6 L593.5 376.1 L592.5 377.2 L591.5 378.4 L590.5 378.4 L589.5 379.9 L588.5 380.5 L587.5 379.9 L586.5 380.4 L585.5 380.9 L584.5 381.3 L583.5 380.6 L582.5 380.8 L581.5 380.6 L580.5 381.8 L579.5 381.5 L578.5 381.0 L577.5 381.0 L576.5 381.3 L575.5 381.3 L574.5 381.8 L573.5 382.2 L572.5 381.9 L571.5 381.4 L570.5 381.4 L569.5 382.2 L568.5 382.0 L567.5 381.5 L566.5 381.4 L565.5 380.9 L564.5 380.9 L563.5 380.5 L562.5 379.9 L561.5 379.0 L560.5 378.8 L559.5 378.9 L558.5 378.3 L557.5 377.0 L556.5 376.6 L555.5 376.0 L554.5 374.3 L553.5 372.8 L552.5 369.8 L551.5 366.0 L550.5 363.3 L549.5 360.5 L548.5 358.5 L547.5 357.4 L546.5 357.4 L545.5 359.9 L544.5 363.7 L543.5 367.4 L542.5 370.1 L541.5 372.5 L540.5 373.7 L539.5 374.9 L538.5 376.7 L537.5 376.7 L536.5 374.9 L535.5 375.2 L534.5 375.0 L533.5 374.9 L532.5 375.1 L531.5 374.9 L530.5 374.2 L529.5 374.0 L528.5 373.9 L527.5 374.0 L526.5 374.4 L525.5 373.7 L524.5 373.3 L523.5 373.3 L522.5 373.1 L521.5 373.4 L520.5 373.5 L519.5 374.5 L518.5 374.6 L517.5 374.3 L516.5 373.9 L515.5 373.8 L514.5 373.8 L513.5 373.6 L512.5 373.4 L511.5 375.0 L510.5 374.4 L509.5 373.8 L508.5 374.0 L507.5 373.3 L506.5 373.6 L505.5 373.7 L504.5 374.9 L503.5 374.9 L502.5 373.5 L501.5 373.7 L500.5 373.9 L499.5 374.9 L498.5 375.3 L497.5 373.8 L496.5 374.8 L495.5 375.0 L494.5 373.6 L493.5 375.0 L492.5 374.1 L491.5 373.7 L490.5 374.3 L489.5 374.6 L488.5 374.7 L487.5 374.1 L486.5 374.1 L485.5 374.0 L484.5 373.7 L483.5 373.8 L482.5 374.0 L481.5 374.2 L480.5 374.4 L479.5 374.1 L478.5 373.6 L477.5 373.6 L476.5 373.6 L475.5 372.8 L474.5 372.7 L473.5 372.0 L472.5 373.4 L471.5 373.6 L470.5 372.8 L469.5 371.4 L468.5 371.7 L467.5 371.5 L466.5 372.1 L465.5 372.3 L464.5 371.4 L463.5 370.2 L462.5 369.9 L461.5 370.0 L460.5 369.3 L459.5 368.7 L458.5 368.4 L457.5 368.3 L456.5 367.8 L455.5 366.3 L454.5 364.9 L453.5 363.4 L452.5 361.8 L451.5 361.0 L450.5 359.7 L449.5 359.6 L448.5 358.6 L447.5 357.7 L446.5 357.9 L445.5 358.2 L444.5 359.3 L443.5 360.9 L442.5 360.7 L441.5 361.2 L440.5 362.0 L439.5 360.7 L438.5 360.7 L437.5 360.5 L436.5 360.2 L435.5 360.0 L434.5 359.8 L433.5 359.7 L432.5 359.0 L431.5 357.7 L430.5 356.4 L429.5 354.9 L428.5 353.1 L427.5 350.9 L426.5 348.2 L425.5 345.7 L424.5 341.9 L423.5 336.3 L422.5 330.2 L421.5 323.6 L420.5 317.9 L419.5 313.1 L418.5 307.0 L417.5 297.7 L416.5 283.1 L415.5 264.5 L414.5 240.1 L413.5 209.3 L412.5 173.1 L411.5 129.2 L410.5 99.1 L409.5 75.7 L408.5 69.0 L407.5 90.8 L406.5 122.6 L405.5 155.2 L404.5 187.5 L403.5 207.9 L402.5 230.2 L401.5 257.6 L400.5 280.4 L399.5 299.7 L398.5 314.2 L397.5 325.1 L396.5 333.8 L395.5 341.5 L394.5 346.3 L393.5 349.7 L392.5 353.1 L391.5 354.5 L390.5 355.9 L389.5 356.7 L388.5 358.6 L387.5 358.3 L386.5 357.9 L385.5 359.0 L384.5 360.5 L383.5 360.5 L382.5 360.6 L381.5 362.5 L380.5 363.7 L379.5 363.9 L378.5 364.2 L377.5 365.8 L376.5 367.6 L375.5 368.9 L374.5 369.1 L373.5 370.5 L372.5 370.7 L371.5 372.3 L370.5 372.0 L369.5 370.9 L368.5 371.3 L367.5 371.1 L366.5 369.7 L365.5 370.5 L364.5 368.3 L363.5 367.6 L362.5 366.0 L361.5 365.6 L360.5 365.4 L359.5 366.8 L358.5 367.8 L357.5 369.1 L356.5 370.9 L355.5 372.5 L354.5 372.4 L353.5 371.6 L352.5 371.7 L351.5 372.6 L350.5 374.0 L349.5 372.7 L348.5 373.0 L347.5 372.4 L346.5 373.0 L345.5 372.5 L344.5 372.9 L343.5 373.7 L342.5 373.0 L341.5 373.7 L340.5 374.3 L339.5 374.2 L338.5 374.8 L337.5 375.0 L336.5 374.3 L335.5 374.4 L334.5 374.6 L333.5 374.6 L332.5 373.6 L331.5 374.1 L330.5 373.5 L329.5 373.2 L328.5 374.6 L327.5 374.4 L326.5 374.5 L325.5 375.3 L324.5 374.6 L323.5 373.8 L322.5 374.4 L321.5 373.7 L320.5 375.4 L319.5 376.3 L318.5 375.9 L317.5 375.1 L316.5 375.5 L315.5 375.4 L314.5 375.2 L313.5 375.9 L312.5 375.2 L311.5 374.5 L310.5 374.7 L309.5 375.2 L308.5 376.6 L307.5 377.5 L306.5 376.1 L305.5 374.0 L304.5 374.2 L303.5 375.4 L302.5 375.4 L301.5 374.1 L300.5 374.4 L299.5 373.8 L298.5 375.0 L297.5 375.0 L296.5 374.3 L295.5 373.7 L294.5 373.7 L293.5 375.2 L292.5 375.3 L291.5 373.8 L290.5 373.5 L289.5 374.0 L288.5 374.2 L287.5 373.4 L286.5 373.6 L285.5 375.2 L284.5 374.5 L283.5 373.0 L282.5 373.6 L281.5 373.9 L280.5 372.3 L279.5 373.7 L278.5 374.1 L277.5 374.3 L276.5 374.6 L275.5 373.6 L274.5 372.5 L273.5 371.7 L272.5 372.6 L271.5 372.7 L270.5 371.8 L269.5 373.4 L268.5 371.4 L267.5 373.1 L266.5 372.7 L265.5 371.7 L264.5 371.0 L263.5 371.7 L262.5 370.7 L261.5 371.2 L260.5 371.2 L259.5 370.7 L258.5 371.3 L257.5 371.2 L256.5 370.6 L255.5 370.9 L254.5 372.1 L253.5 370.3 L252.5 370.0 L251.5 369.4 L250.5 369.3 L249.5 369.9 L248.5 369.6 L247.5 370.2 L246.5 370.9 L245.5 371.0 L244.5 370.8 L243.5 371.3 L242.5 370.7 L241.5 367.9 L240.5 368.5 L239.5 368.0 L238.5 367.4 L237.5 368.1 L236.5 367.5 L235.5 367.3 L234.5 367.9 L233.5 366.9 L232.5 367.9 L231.5 367.1 L230.5 367.3 L229.5 366.7 L228.5 366.2 L227.5 367.4 L226.5 368.4 L225.5 367.4 L224.5 366.2 L223.5 367.0 L222.5 368.0 L221.5 366.4 L220.5 365.4 L219.5 365.5 L218.5 365.0 L217.5 365.4 L216.5 364.7 L215.5 366.2 L214.5 367.3 L213.5 365.7 L212.5 365.4 L211.5 365.9 L210.5 364.4 L209.5 363.4 L208.5 363.2 L207.5 365.4 L206.5 366.0 L205.5 364.3 L204.5 363.5 L203.5 362.6 L202.5 363.5 L201.5 363.2 L200.5 362.8 L199.5 363.6 L198.5 362.1 L197.5 363.7 L196.5 361.7 L195.5 361.5 L194.5 360.8 L193.5 361.3 L192.5 362.6 L191.5 362.6 L190.5 360.2 L189.5 360.9 L188.5 360.6 L187.5 362.0 L186.5 361.6 L185.5 360.5 L184.5 360.2 L183.5 359.9 L182.5 359.6 L181.5 358.6 L180.5 360.0 L179.5 360.6 L178.5 361.6 L177.5 359.1 L176.5 357.4 L175.5 357.9 L174.5 357.3 L173.5 357.3 L172.5 357.9 L171.5 357.0 L170.5 356.8 L169.5 356.8 L168.5 356.4 L167.5 357.9 L166.5 356.0 L165.5 356.0 L164.5 356.2 L163.5 356.1 L162.5 355.9 L161.5 354.9 L160.5 354.5 L159.5 357.6 L158.5 355.8 L157.5 355.2 L156.5 353.6 L155.5 354.1 L154.5 352.8 L153.5 352.6 L152.5 353.8 L151.5 355.6 L150.5 354.3 L149.5 351.6 L148.5 351.3 L147.5 351.1 L146.5 350.9 L145.5 351.6 L144.5 351.8 L143.5 350.9 L142.5 349.7 L141.5 349.1 L140.5 350.5 L139.5 350.6 L138.5 350.4 L137.5 351.3 L136.5 349.4 L135.5 348.1 L134.5 350.4 L133.5 349.3 L132.5 347.4 L131.5 348.5 L130.5 349.2 L129.5 348.9 L128.5 348.3 L127.5 346.6 L126.5 345.1 L125.5 345.6 L124.5 344.0 L123.5 344.3Z" fill="#ff8400"/><path d="M123.5 341.0 L124.5 341.3 L125.5 341.6 L126.5 341.9 L127.5 342.2 L128.5 342.5 L129.5 342.8 L130.5 343.1 L131.5 343.4 L132.5 343.7 L133.5 344.0 L134.5 344.3 L135.5 344.6 L136.5 344.9 L137.5 345.2 L138.5 345.5 L139.5 345.8 L140.5 346.0 L141.5 346.3 L142.5 346.6 L143.5 347.0 L144.5 347.3 L145.5 347.6 L146.5 347.9 L147.5 348.2 L148.5 348.5 L149.5 348.8 L150.5 349.1 L151.5 349.4 L152.5 349.7 L153.5 350.0 L154.5 350.3 L155.5 350.6 L156.5 350.8 L157.5 351.1 L158.5 351.3 L159.5 351.6 L160.5 351.8 L161.5 352.0 L162.5 352.3 L163.5 352.5 L164.5 352.7 L165.5 352.9 L166.5 353.1 L167.5 353.2 L168.5 353.4 L169.5 353.6 L170.5 353.8 L171.5 354.0 L172.5 354.1 L173.5 354.3 L174.5 354.5 L175.5 354.7 L176.5 354.9 L177.5 355.0 L178.5 355.2 L179.5 355.4 L180.5 355.6 L181.5 355.8 L182.5 356.0 L183.5 356.2 L184.5 356.4 L185.5 356.6 L186.5 356.8 L187.5 357.0 L188.5 357.2 L189.5 357.4 L190.5 357.6 L191.5 357.8 L192.5 357.9 L193.5 358.1 L194.5 358.3 L195.5 358.5 L196.5 358.7 L197.5 358.9 L198.5 359.0 L199.5 359.2 L200.5 359.4 L201.5 359.5 L202.5 359.7 L203.5 359.9 L204.5 360.0 L205.5 360.2 L206.5 360.3 L207.5 360.4 L208.5 360.6 L209.5 360.7 L210.5 360.9 L211.5 361.0 L212.5 361.1 L213.5 361.3 L214.5 361.4 L215.5 361.6 L216.5 361.7 L217.5 361.8 L218.5 362.0 L219.5 362.1 L220.5 362.3 L221.5 362.4 L222.5 362.6 L223.5 362.7 L224.5 362.9 L225.5 363.0 L226.5 363.1 L227.5 363.3 L228.5 363.4 L229.5 363.6 L230.5 363.7 L231.5 363.9 L232.5 364.0 L233.5 364.2 L234.5 364.3 L235.5 364.5 L236.5 364.6 L237.5 364.7 L238.5 364.9 L239.5 365.0 L240.5 365.2 L241.5 365.3 L242.5 365.5 L243.5 365.6 L244.5 365.8 L245.5 365.9 L246.5 366.1 L247.5 366.2 L248.5 366.4 L249.5 366.5 L250.5 366.7 L251.5 366.8 L252.5 366.9 L253.5 367.1 L254.5 367.2 L255.5 367.4 L256.5 367.5 L257.5 367.6 L258.5 367.7 L259.5 367.8 L260.5 368.0 L261.5 368.1 L262.5 368.2 L263.5 368.2 L264.5 368.3 L265.5 368.4 L266.5 368.5 L267.5 368.6 L268.5 368.7 L269.5 368.8 L270.5 368.8 L271.5 368.9 L272.5 369.0 L273.5 369.1 L274.5 369.2 L275.5 369.3 L276.5 369.4 L277.5 369.4 L278.5 369.6 L279.5 369.7 L280.5 369.8 L281.5 369.9 L282.5 370.1 L283.5 370.2 L284.5 370.4 L285.5 370.5 L286.5 370.6 L287.5 370.7 L288.5 370.8 L289.5 370.8 L290.5 370.9 L291.5 370.9 L292.5 371.0 L293.5 371.0 L294.5 371.0 L295.5 371.1 L296.5 371.1 L297.5 371.1 L298.5 371.2 L299.5 371.2 L300.5 371.2 L301.5 371.2 L302.5 371.3 L303.5 371.3 L304.5 371.3 L305.5 371.3 L306.5 371.3 L307.5 371.3 L308.5 371.3 L309.5 371.3 L310.5 371.3 L311.5 371.3 L312.5 371.3 L313.5 371.2 L314.5 371.2 L315.5 371.2 L316.5 371.2 L317.5 371.1 L318.5 371.1 L319.5 371.1 L320.5 371.0 L321.5 371.0 L322.5 371.0 L323.5 370.9 L324.5 370.9 L325.5 370.9 L326.5 370.8 L327.5 370.8 L328.5 370.7 L329.5 370.7 L330.5 370.7 L331.5 370.6 L332.5 370.6 L333.5 370.6 L334.5 370.5 L335.5 370.5 L336.5 370.5 L337.5 370.4 L338.5 370.4 L339.5 370.3 L340.5 370.3 L341.5 370.2 L342.5 370.2 L343.5 370.1 L344.5 370.0 L345.5 369.9 L346.5 369.9 L347.5 369.8 L348.5 369.7 L349.5 369.5 L350.5 369.4 L351.5 369.2 L352.5 369.0 L353.5 368.8 L354.5 368.5 L355.5 368.2 L356.5 367.7 L357.5 366.6 L358.5 365.0 L359.5 363.6 L360.5 362.6 L361.5 362.6 L362.5 363.4 L363.5 364.5 L364.5 365.8 L365.5 366.7 L366.5 367.2 L367.5 367.5 L368.5 367.7 L369.5 367.9 L370.5 368.0 L371.5 368.0 L372.5 367.6 L373.5 366.9 L374.5 366.0 L375.5 364.9 L376.5 363.8 L377.5 362.6 L378.5 361.4 L379.5 360.4 L380.5 359.6 L381.5 358.8 L382.5 358.0 L383.5 357.2 L384.5 356.5 L385.5 355.8 L386.5 355.2 L387.5 354.7 L388.5 354.2 L389.5 353.6 L390.5 352.8 L391.5 351.8 L392.5 349.9 L393.5 347.2 L394.5 343.6 L395.5 338.8 L396.5 331.3 L397.5 322.4 L398.5 311.5 L399.5 297.1 L400.5 277.9 L401.5 255.0 L402.5 227.6 L403.5 205.3 L404.5 184.9 L405.5 152.7 L406.5 120.0 L407.5 88.2 L408.5 66.3 L409.5 73.1 L410.5 96.6 L411.5 126.7 L412.5 170.5 L413.5 206.7 L414.5 237.6 L415.5 262.0 L416.5 280.5 L417.5 294.9 L418.5 304.0 L419.5 310.1 L420.5 315.2 L421.5 320.8 L422.5 327.2 L423.5 333.6 L424.5 339.0 L425.5 342.7 L426.5 345.7 L427.5 348.2 L428.5 350.2 L429.5 352.1 L430.5 353.8 L431.5 355.1 L432.5 355.8 L433.5 356.3 L434.5 356.8 L435.5 357.1 L436.5 357.5 L437.5 357.7 L438.5 357.9 L439.5 358.0 L440.5 358.0 L441.5 357.7 L442.5 357.2 L443.5 356.6 L444.5 356.1 L445.5 355.5 L446.5 355.1 L447.5 355.0 L448.5 355.3 L449.5 356.1 L450.5 357.0 L451.5 358.0 L452.5 359.2 L453.5 360.6 L454.5 362.0 L455.5 363.2 L456.5 364.0 L457.5 364.7 L458.5 365.3 L459.5 365.9 L460.5 366.5 L461.5 366.9 L462.5 367.3 L463.5 367.5 L464.5 367.8 L465.5 368.0 L466.5 368.2 L467.5 368.4 L468.5 368.6 L469.5 368.8 L470.5 369.0 L471.5 369.1 L472.5 369.3 L473.5 369.5 L474.5 369.6 L475.5 369.8 L476.5 369.9 L477.5 370.0 L478.5 370.2 L479.5 370.3 L480.5 370.4 L481.5 370.5 L482.5 370.6 L483.5 370.7 L484.5 370.7 L485.5 370.8 L486.5 370.8 L487.5 370.9 L488.5 370.9 L489.5 371.0 L490.5 371.0 L491.5 371.0 L492.5 371.0 L493.5 371.0 L494.5 371.0 L495.5 371.0 L496.5 371.0 L497.5 371.0 L498.5 370.9 L499.5 370.9 L500.5 370.9 L501.5 370.9 L502.5 370.9 L503.5 370.8 L504.5 370.8 L505.5 370.8 L506.5 370.8 L507.5 370.7 L508.5 370.7 L509.5 370.7 L510.5 370.7 L511.5 370.6 L512.5 370.6 L513.5 370.6 L514.5 370.6 L515.5 370.5 L516.5 370.5 L517.5 370.5 L518.5 370.5 L519.5 370.5 L520.5 370.5 L521.5 370.5 L522.5 370.5 L523.5 370.6 L524.5 370.7 L525.5 370.8 L526.5 370.9 L527.5 371.0 L528.5 371.2 L529.5 371.3 L530.5 371.5 L531.5 371.6 L532.5 371.7 L533.5 371.9 L534.5 372.0 L535.5 372.1 L536.5 372.1 L537.5 372.2 L538.5 372.2 L539.5 371.7 L540.5 370.5 L541.5 368.8 L542.5 367.0 L543.5 364.8 L544.5 361.1 L545.5 357.0 L546.5 354.1 L547.5 353.7 L548.5 355.2 L549.5 357.8 L550.5 360.7 L551.5 363.4 L552.5 366.9 L553.5 370.1 L554.5 371.7 L555.5 372.5 L556.5 373.3 L557.5 374.0 L558.5 374.7 L559.5 375.3 L560.5 375.8 L561.5 376.4 L562.5 376.8 L563.5 377.2 L564.5 377.6 L565.5 377.9 L566.5 378.1 L567.5 378.3 L568.5 378.5 L569.5 378.6 L570.5 378.7 L571.5 378.7 L572.5 378.7 L573.5 378.7 L574.5 378.6 L575.5 378.6 L576.5 378.5 L577.5 378.5 L578.5 378.4 L579.5 378.3 L580.5 378.1 L581.5 378.0 L582.5 377.9 L583.5 377.7 L584.5 377.6 L585.5 377.4 L586.5 377.2 L587.5 376.9 L588.5 376.6 L589.5 376.1 L590.5 375.4 L591.5 374.7 L592.5 373.8 L593.5 372.7 L594.5 370.4 L595.5 367.0 L596.5 363.5 L597.5 360.5 L598.5 357.7 L599.5 357.3 L600.5 359.5 L601.5 362.7 L602.5 365.3 L603.5 368.1 L604.5 369.9 L605.5 370.0 L606.5 370.0 L607.5 370.0 L608.5 370.0 L609.5 369.9 L610.5 369.9 L611.5 369.9 L612.5 369.8 L613.5 369.8 L614.5 369.7 L615.5 369.7 L616.5 369.6 L617.5 369.5 L618.5 369.2 L619.5 368.0 L620.5 366.3 L621.5 364.4 L622.5 362.4 L623.5 360.9 L624.5 360.0 L625.5 359.6 L626.5 359.3 L627.5 359.1 L628.5 358.9 L629.5 358.8 L630.5 358.7 L631.5 358.5 L632.5 358.4 L633.5 358.1 L634.5 357.8 L635.5 357.4 L636.5 356.7 L637.5 354.3 L638.5 350.6 L639.5 345.5 L640.5 337.1 L641.5 328.5 L642.5 318.9 L643.5 315.2 L644.5 316.1 L645.5 317.9 L646.5 320.5 L647.5 327.3 L648.5 335.5 L649.5 340.7 L650.5 343.5 L651.5 345.8 L652.5 347.6 L653.5 349.3 L654.5 351.0 L655.5 352.5 L656.5 353.8 L657.5 355.1 L658.5 356.5 L659.5 358.2 L660.5 360.4 L661.5 363.1 L662.5 365.8 L663.5 368.3 L664.5 370.3 L665.5 372.3 L666.5 374.1 L667.5 375.7 L668.5 377.1 L669.5 378.3 L670.5 379.5 L671.5 380.7 L672.5 381.6 L673.5 382.3 L674.5 382.5 L675.5 382.5 L676.5 382.5 L677.5 382.5 L678.5 382.5 L679.5 382.5 L680.5 382.4 L681.5 382.4 L682.5 382.4 L683.5 382.4 L684.5 382.2 L685.5 381.9 L686.5 381.6 L687.5 381.2 L688.5 380.7 L689.5 380.3 L690.5 380.0 L691.5 379.7 L692.5 379.5 L693.5 379.5 L694.5 379.7 L695.5 379.9 L696.5 380.3 L697.5 380.7 L698.5 381.2 L699.5 381.8 L700.5 382.3 L701.5 382.8 L702.5 383.3 L703.5 383.6 L704.5 383.9 L705.5 384.1 L706.5 384.2 L707.5 384.3 L708.5 384.4 L709.5 384.5 L710.5 384.6 L711.5 384.7 L712.5 384.8 L713.5 384.9 L714.5 385.0 L715.5 385.0 L716.5 385.1 L717.5 385.1 L718.5 385.2 L719.5 385.2 L720.5 385.3 L721.5 385.3 L722.5 385.3 L723.5 385.4 L724.5 385.4 L725.5 385.5 L726.5 385.5 L727.5 385.5 L728.5 385.5 L729.5 385.6 L730.5 385.6 L731.5 385.6 L732.5 385.7 L733.5 385.7 L734.5 385.7 L735.5 385.7 L736.5 385.8 L737.5 385.8 L738.5 385.8 L739.5 385.8 L740.5 385.8 L741.5 385.9 L742.5 385.9 L743.5 385.9 L744.5 385.9 L745.5 386.0 L746.5 386.0 L747.5 386.0 L748.5 386.0 L749.5 386.0 L750.5 386.1 L751.5 386.1 L752.5 386.1 L753.5 386.1 L754.5 386.2 L755.5 386.2 L756.5 386.2 L757.5 386.2 L758.5 386.3 L759.5 386.3 L760.5 386.3 L761.5 386.3 L762.5 386.4 L763.5 386.4 L764.5 386.4 L765.5 386.4 L766.5 386.4 L767.5 386.5 L768.5 386.5 L769.5 386.5 L770.5 386.5 L771.5 386.5 L772.5 386.5 L773.5 386.5 L774.5 386.5 L775.5 386.5 L776.5 386.5 L777.5 386.5 L778.5 386.4 L779.5 386.4 L780.5 386.4 L781.5 386.3 L782.5 386.3 L783.5 386.2 L784.5 386.2 L785.5 386.1 L786.5 386.0 L787.5 386.0 L788.5 385.9 L789.5 385.8 L790.5 385.7 L791.5 385.6 L792.5 385.5 L793.5 385.4 L794.5 385.3 L795.5 385.2 L796.5 385.1 L797.5 385.0 L798.5 384.9 L799.5 384.8 L800.5 384.7 L801.5 384.5 L802.5 384.4 L803.5 384.2 L804.5 384.0 L805.5 383.7 L806.5 383.4 L807.5 383.1 L808.5 382.7 L809.5 382.3 L810.5 381.9 L811.5 381.4 L812.5 380.9 L813.5 380.3 L814.5 379.7 L815.5 379.1 L816.5 378.4 L817.5 377.6 L818.5 376.5 L819.5 375.2 L820.5 373.8 L821.5 372.1 L822.5 370.2 L823.5 368.2 L824.5 365.5 L825.5 362.2 L826.5 358.2 L827.5 353.7 L828.5 348.7 L829.5 342.9 L830.5 334.1 L831.5 323.9 L832.5 315.2 L833.5 310.7 L834.5 308.9 L835.5 308.0 L836.5 309.4 L837.5 313.7 L838.5 319.5 L839.5 326.1 L840.5 336.7 L841.5 348.0 L842.5 354.9 L843.5 359.8 L844.5 363.9 L845.5 366.9 L846.5 368.7 L847.5 369.9 L848.5 370.9 L849.5 371.8 L850.5 372.6 L851.5 373.2 L852.5 373.8 L853.5 374.3 L854.5 374.8 L855.5 375.3 L856.5 375.7 L857.5 376.2 L858.5 376.8 L859.5 377.4 L860.5 378.0 L861.5 378.7 L862.5 379.4 L863.5 380.1 L864.5 380.9 L865.5 381.6 L866.5 382.3 L867.5 383.0 L868.5 383.6 L869.5 384.2 L870.5 384.7 L871.5 385.2 L872.5 385.6 L873.5 385.9 L874.5 386.1 L875.5 386.3 L876.5 386.6 L877.5 386.8 L878.5 387.0 L879.5 387.2 L880.5 387.3 L881.5 387.5 L882.5 387.7 L883.5 387.8 L884.5 388.0 L885.5 388.1 L886.5 388.2 L887.5 388.3 L888.5 388.4 L889.5 388.5 L890.5 388.6 L891.5 388.7 L892.5 388.7 L893.5 388.8 L894.5 388.8 L895.5 388.8 L896.5 388.8 L897.5 388.8 L898.5 388.7 L899.5 388.7 L900.5 388.6 L901.5 388.5 L902.5 388.4 L903.5 388.3 L904.5 388.2 L905.5 388.1 L906.5 388.0 L907.5 387.8 L908.5 387.7 L909.5 387.5 L910.5 387.3 L911.5 387.2 L912.5 387.0 L913.5 386.8 L914.5 386.6 L915.5 386.4 L916.5 386.2 L917.5 385.9 L918.5 385.7 L919.5 385.4 L920.5 385.0 L921.5 384.7 L922.5 384.2 L923.5 383.7 L924.5 383.2 L925.5 382.6 L926.5 381.9 L927.5 381.2 L928.5 380.4 L929.5 379.4 L930.5 378.0 L931.5 376.2 L932.5 374.2 L933.5 371.9 L934.5 369.5 L935.5 367.0 L936.5 364.3 L937.5 360.9 L938.5 357.0 L939.5 352.8 L940.5 348.6 L941.5 344.8 L942.5 341.5 L943.5 339.0 L944.5 336.7 L945.5 334.6 L946.5 333.1 L947.5 332.5 L948.5 333.6 L949.5 336.4 L950.5 340.1 L951.5 343.9 L952.5 347.0 L953.5 348.6 L954.5 349.6 L955.5 350.5 L956.5 351.0 L957.5 351.3 L958.5 350.4 L959.5 347.9 L960.5 344.5 L961.5 341.3 L962.5 338.8 L963.5 336.0 L964.5 333.5 L965.5 331.6 L966.5 331.2 L967.5 332.8 L968.5 336.4 L969.5 341.0 L970.5 345.9 L971.5 350.5 L972.5 354.0 L973.5 357.4 L974.5 360.7 L975.5 363.9 L976.5 366.7 L977.5 369.0 L978.5 370.7 L979.5 372.3 L980.5 373.7 L981.5 375.1 L982.5 376.4 L983.5 377.6 L984.5 378.7 L985.5 379.7 L986.5 380.6 L987.5 381.4 L988.5 382.1 L989.5 382.7 L990.5 383.2 L991.5 383.7 L992.5 384.2 L993.5 384.7 L994.5 385.2 L995.5 385.6 L996.5 386.0 L997.5 386.4 L998.5 386.8 L999.5 387.1 L1000.5 387.4 L1001.5 387.7 L1002.5 388.0 L1003.5 388.2 L1004.5 388.4 L1005.5 388.6 L1006.5 388.8 L1007.5 388.9 L1008.5 389.0 L1009.5 389.0 L1010.5 389.1 L1011.5 389.2 L1012.5 389.3 L1013.5 389.3 L1014.5 389.4 L1015.5 389.5 L1016.5 389.5 L1017.5 389.6 L1018.5 389.6 L1019.5 389.7 L1020.5 389.7 L1021.5 389.8 L1022.5 389.8 L1023.5 389.9 L1024.5 389.9 L1025.5 389.9 L1026.5 389.9 L1027.5 390.0 L1028.5 390.0 L1029.5 390.0 L1030.5 390.0 L1031.5 390.0 L1032.5 390.0 L1033.5 390.0 L1034.5 390.0 L1035.5 390.0 L1036.5 389.9 L1037.5 389.9 L1038.5 389.9 L1039.5 389.8 L1040.5 389.8 L1041.5 389.8 L1042.5 389.7 L1043.5 389.7 L1044.5 389.6 L1045.5 389.6 L1046.5 389.5 L1047.5 389.4 L1048.5 389.4 L1049.5 389.3 L1050.5 389.3 L1051.5 389.2 L1052.5 389.1 L1053.5 389.1 L1054.5 389.0 L1055.5 388.9 L1056.5 388.8 L1057.5 388.8 L1058.5 388.7 L1059.5 388.6 L1060.5 388.5 L1061.5 388.4 L1062.5 388.3 L1063.5 388.2 L1064.5 388.1 L1065.5 388.0 L1066.5 387.9 L1067.5 387.7 L1068.5 387.6 L1069.5 387.4 L1070.5 387.3 L1071.5 387.1 L1072.5 386.9 L1073.5 386.7 L1074.5 386.5 L1075.5 386.3 L1076.5 386.1 L1077.5 385.8 L1078.5 385.6 L1079.5 385.3 L1080.5 385.0 L1081.5 384.5 L1082.5 384.0 L1083.5 383.3 L1084.5 382.5 L1085.5 381.7 L1086.5 380.8 L1087.5 379.8 L1088.5 378.8 L1089.5 377.8 L1090.5 376.8 L1091.5 375.8 L1092.5 374.8 L1093.5 373.7 L1094.5 372.5 L1095.5 371.3 L1096.5 370.0 L1097.5 368.7 L1098.5 367.3 L1099.5 365.9 L1100.5 364.5 L1101.5 363.1 L1102.5 361.4 L1103.5 359.4 L1104.5 357.3 L1105.5 355.3 L1106.5 353.5 L1107.5 352.0 L1108.5 351.0 L1109.5 350.6 L1110.5 351.2 L1111.5 352.7 L1112.5 354.8 L1113.5 357.2 L1114.5 359.5 L1115.5 361.3 L1116.5 362.8 L1117.5 364.2 L1118.5 365.6 L1119.5 366.9 L1120.5 368.2 L1121.5 369.4 L1122.5 370.6 L1123.5 371.7 L1124.5 372.7 L1125.5 373.7 L1126.5 374.6 L1127.5 375.5 L1128.5 376.4 L1129.5 377.3 L1130.5 378.2 L1131.5 379.0 L1132.5 379.8 L1133.5 380.5 L1134.5 381.2 L1135.5 381.9 L1136.5 382.5 L1137.5 383.1 L1138.5 383.7 L1139.5 384.1 L1140.5 384.6 L1141.5 385.1 L1142.5 385.6 L1143.5 386.0 L1144.5 386.5 L1145.5 386.9 L1146.5 387.3 L1147.5 387.7 L1148.5 388.1 L1149.5 388.5 L1150.5 388.8 L1151.5 389.1 L1152.5 389.4 L1153.5 389.6 L1154.5 389.8 L1155.5 389.9 L1156.5 390.0 L1157.5 390.0 L1158.5 390.0 L1159.5 390.0 L1160.5 390.0 L1161.5 390.0 L1162.5 390.0 L1163.5 390.0 L1164.5 390.0 L1165.5 389.9 L1166.5 389.9 L1167.5 389.9 L1168.5 389.9 L1169.5 389.9 L1170.5 389.9 L1171.5 389.9 L1172.5 389.8 L1173.5 389.8 L1174.5 389.8 L1175.5 389.8 L1176.5 389.8 L1177.5 389.7 L1178.5 389.7 L1179.5 389.7 L1180.5 389.7 L1181.5 389.7 L1182.5 389.6 L1183.5 389.6 L1184.5 389.6 L1185.5 389.6 L1186.5 389.6 L1187.5 389.5 L1188.5 389.5 L1189.5 389.5 L1190.5 389.5 L1191.5 389.4 L1192.5 389.4 L1193.5 389.3 L1194.5 389.3 L1195.5 389.3 L1196.5 389.2 L1197.5 389.2 L1198.5 389.1 L1199.5 389.1 L1200.5 389.0 L1201.5 388.9 L1202.5 388.9 L1203.5 388.8 L1204.5 388.7 L1205.5 388.6 L1206.5 388.5 L1207.5 388.4 L1208.5 388.3 L1209.5 388.2 L1210.5 388.0 L1211.5 387.6 L1212.5 386.8 L1213.5 385.9 L1214.5 384.9 L1215.5 383.9 L1216.5 382.8 L1217.5 381.8 L1218.5 380.9 L1219.5 380.2 L1220.5 379.4 L1221.5 378.5 L1222.5 377.7 L1223.5 376.9 L1224.5 376.3 L1225.5 375.8 L1226.5 375.5 L1227.5 375.5 L1228.5 375.8 L1229.5 376.3 L1230.5 376.9 L1231.5 377.7 L1232.5 378.5 L1233.5 379.4 L1234.5 380.3 L1235.5 381.1 L1236.5 381.8 L1237.5 382.4 L1238.5 382.8 L1239.5 383.0 L1240.5 382.9 L1241.5 382.3 L1242.5 381.5 L1243.5 380.4 L1244.5 379.2 L1245.5 377.9 L1246.5 376.6 L1247.5 375.4 L1248.5 374.4 L1249.5 373.7 L1250.5 373.3 L1251.5 373.4 L1252.5 373.8 L1253.5 374.5 L1254.5 375.4 L1255.5 376.5 L1256.5 377.7 L1257.5 378.9 L1258.5 380.1 L1259.5 381.2 L1260.5 382.1 L1261.5 382.9 L1262.5 383.7 L1263.5 384.5 L1264.5 385.3 L1265.5 386.0 L1266.5 386.7 L1267.5 387.3 L1268.5 387.8 L1269.5 388.2 L1270.5 388.5 L1271.5 388.8 L1272.5 389.1 L1273.5 389.4 L1274.5 389.7 L1275.5 389.9 L1276.5 390.2 L1277.5 390.4 L1278.5 390.6 L1279.5 390.8 L1280.5 390.9 L1281.5 391.0 L1282.5 391.1 L1283.5 391.2 L1284.5 391.2 L1285.5 391.2 L1286.5 391.2 L1287.5 391.2 L1288.5 391.2 L1289.5 391.2 L1290.5 391.1 L1291.5 391.1 L1292.5 391.1 L1293.5 391.1 L1294.5 391.0 L1295.5 391.0 L1296.5 390.9 L1297.5 390.9 L1298.5 390.9 L1299.5 390.8 L1300.5 390.7 L1301.5 390.7 L1302.5 390.6 L1303.5 390.6 L1304.5 390.5 L1305.5 390.4 L1306.5 390.4 L1307.5 390.3 L1308.5 390.2 L1309.5 390.1 L1310.5 390.1 L1311.5 390.0 L1312.5 389.9 L1313.5 389.8 L1314.5 389.7 L1315.5 389.6 L1316.5 389.5 L1317.5 389.3 L1318.5 389.1 L1319.5 388.9 L1320.5 388.7 L1321.5 388.4 L1322.5 388.1 L1323.5 387.8 L1324.5 387.4 L1325.5 387.0 L1326.5 386.6 L1327.5 386.1 L1328.5 385.7 L1329.5 385.1 L1330.5 384.3 L1331.5 383.0 L1332.5 381.3 L1333.5 379.5 L1334.5 377.6 L1335.5 375.7 L1336.5 374.0 L1337.5 372.7 L1338.5 371.7 L1339.5 371.0 L1340.5 370.3 L1341.5 369.7 L1342.5 369.2 L1343.5 368.9 L1344.5 368.8 L1345.5 369.2 L1346.5 370.1 L1347.5 371.2 L1348.5 372.6 L1349.5 373.8 L1350.5 374.9 L1351.5 375.8 L1352.5 376.8 L1353.5 377.7 L1354.5 378.6 L1355.5 379.5 L1356.5 380.3 L1357.5 381.1 L1358.5 381.7 L1359.5 382.3 L1360.5 382.8 L1361.5 383.2 L1362.5 383.6 L1363.5 383.9 L1364.5 384.3 L1365.5 384.6 L1366.5 385.1 L1367.5 385.6 L1368.5 386.2 L1369.5 386.9 L1370.5 387.6 L1371.5 388.3 L1372.5 388.9 L1373.5 389.4 L1374.5 389.7 L1375.5 390.0 L1376.5 390.2 L1377.5 390.4 L1378.5 390.7 L1379.5 390.9 L1380.5 391.1 L1381.5 391.2 L1382.5 391.4 L1383.5 391.6 L1384.5 391.7 L1385.5 391.9 L1386.5 392.0 L1387.5 392.1 L1388.5 392.3 L1389.5 392.4 L1390.5 392.4 L1391.5 392.5 L1392.5 392.6 L1393.5 392.6 L1394.5 392.7 L1395.5 392.7 L1396.5 392.7 L1397.5 392.7 L1398.5 392.7 L1399.5 392.7 L1400.5 392.7 L1401.5 392.7 L1402.5 392.7 L1403.5 392.7 L1404.5 392.7 L1405.5 392.6 L1406.5 392.6 L1407.5 392.6 L1408.5 392.6 L1409.5 392.6 L1410.5 392.6 L1411.5 392.6 L1412.5 392.5 L1413.5 392.5 L1414.5 392.5 L1415.5 392.5 L1416.5 392.5 L1417.5 392.4 L1418.5 392.4 L1419.5 392.4 L1420.5 392.4 L1421.5 392.4 L1422.5 392.3 L1423.5 392.3 L1424.5 392.3 L1425.5 392.3 L1426.5 392.2 L1427.5 392.2 L1428.5 392.2 L1429.5 392.1 L1430.5 392.1 L1431.5 392.1 L1432.5 392.1 L1433.5 392.0 L1434.5 392.0 L1435.5 392.0 L1436.5 392.0 L1437.5 391.9 L1438.5 391.9 L1439.5 391.9 L1440.5 391.8 L1441.5 391.8 L1442.5 391.8 L1443.5 391.8 L1444.5 391.7 L1445.5 391.7 L1446.5 391.6 L1447.5 391.6 L1448.5 391.6 L1449.5 391.5 L1450.5 391.5 L1451.5 391.4 L1452.5 391.4 L1453.5 391.3 L1454.5 391.3 L1455.5 391.2 L1456.5 391.2 L1457.5 391.1 L1458.5 391.0 L1459.5 391.0 L1460.5 390.9 L1461.5 390.8 L1462.5 390.7 L1463.5 390.6 L1464.5 390.5 L1465.5 390.4 L1466.5 390.3 L1467.5 390.1 L1468.5 389.9 L1469.5 389.6 L1470.5 389.3 L1471.5 389.0 L1472.5 388.6 L1473.5 388.2 L1474.5 387.8 L1475.5 387.3 L1476.5 386.8 L1477.5 386.1 L1478.5 385.0 L1479.5 383.6 L1480.5 382.0 L1481.5 380.6 L1482.5 379.4 L1483.5 378.7 L1484.5 378.5 L1485.5 378.7 L1486.5 379.0 L1487.5 379.4 L1488.5 379.9 L1489.5 380.5 L1490.5 381.2 L1491.5 381.9 L1492.5 382.5 L1493.5 383.1 L1494.5 383.6 L1495.5 384.1 L1496.5 384.5 L1497.5 385.0 L1498.5 385.4 L1499.5 385.9 L1500.5 386.3 L1501.5 386.7 L1502.5 387.2 L1503.5 387.6 L1504.5 388.0 L1505.5 388.4 L1506.5 388.7 L1507.5 389.1 L1508.5 389.4 L1509.5 389.7 L1510.5 389.9 L1511.5 390.2 L1512.5 390.5 L1513.5 390.8 L1514.5 391.0 L1515.5 391.3 L1516.5 391.5 L1517.5 391.8 L1518.5 392.0 L1519.5 392.2 L1520.5 392.5 L1521.5 392.7 L1522.5 392.9 L1523.5 393.1 L1524.5 393.2 L1525.5 393.4 L1526.5 393.6 L1527.5 393.7 L1528.5 393.9 L1529.5 394.0 L1530.5 394.1 L1531.5 394.2 L1532.5 394.2 L1533.5 394.3 L1534.5 394.4 L1535.5 394.4 L1536.5 394.5 L1537.5 394.5 L1538.5 394.6 L1539.5 394.7 L1540.5 394.7 L1541.5 394.8 L1542.5 394.8 L1543.5 394.8 L1544.5 394.9 L1545.5 394.9 L1546.5 395.0 L1547.5 395.0 L1548.5 395.0 L1549.5 395.1 L1550.5 395.1 L1551.5 395.1 L1552.5 395.2 L1553.5 395.2 L1554.5 395.2 L1555.5 395.3 L1556.5 395.3 L1557.5 395.3 L1558.5 395.4 L1559.5 395.4 L1560.5 395.4 L1561.5 395.5 L1562.5 395.5 L1563.5 395.5 L1564.5 395.5 L1565.5 395.6 L1566.5 395.6 L1567.5 395.6 L1568.5 395.7 L1569.5 395.7 L1570.5 395.7 L1571.5 395.8 L1572.5 395.8 L1573.5 395.8 L1574.5 395.9 L1575.5 395.9 L1576.5 395.9 L1577.5 396.0 L1578.5 396.0 L1579.5 396.0 L1580.5 396.1 L1581.5 396.1 L1582.5 396.1 L1583.5 396.2 L1584.5 396.2 L1585.5 396.2 L1586.5 396.3 L1587.5 396.3 L1588.5 396.3 L1589.5 396.4 L1590.5 396.4 L1591.5 396.4 L1592.5 396.4 L1593.5 396.5 L1594.5 396.5 L1595.5 396.5 L1596.5 396.6 L1597.5 396.6 L1598.5 396.6 L1599.5 396.7 L1600.5 396.7 L1601.5 396.7 L1602.5 396.7 L1603.5 396.8 L1604.5 396.8 L1605.5 396.8 L1606.5 396.9 L1607.5 396.9 L1608.5 396.9 L1609.5 396.9 L1610.5 397.0 L1611.5 397.0 L1612.5 397.0 L1613.5 397.0 L1614.5 397.1 L1615.5 397.1 L1616.5 397.1 L1617.5 397.1 L1618.5 397.2 L1619.5 397.2" stroke="#ff8400" stroke-width="2.8" fill="none" stroke-linejoin="round"/><path d="M123.5 340.4 L124.7 338.3 L125.9 340.7 L127.1 346.3 L128.3 340.2 L129.5 339.3 L130.7 343.7 L131.9 344.8 L133.1 344.8 L134.3 341.9 L135.5 346.7 L136.7 343.3 L137.9 342.9 L139.1 344.4 L140.3 345.8 L141.5 347.8 L142.7 348.0 L143.9 347.0 L145.1 349.4 L146.3 348.0 L147.5 350.1 L148.7 345.6 L149.9 345.7 L151.1 350.9 L152.3 346.7 L153.5 349.4 L154.7 350.1 L155.9 349.6 L157.1 350.0 L158.3 354.3 L159.5 346.2 L160.7 353.8 L161.9 357.1 L163.1 352.4 L164.3 352.6 L165.5 354.4 L166.7 357.1 L167.9 350.7 L169.1 353.7 L170.3 353.3 L171.5 355.2 L172.7 354.5 L173.9 355.8 L175.1 353.7 L176.3 354.9 L177.5 353.6 L178.7 353.8 L179.9 355.2 L181.1 355.4 L182.3 353.4 L183.5 359.6 L184.7 356.1 L185.9 353.6 L187.1 359.3 L188.3 355.5 L189.5 358.5 L190.7 357.6 L191.9 358.4 L193.1 358.4 L194.3 357.0 L195.5 358.6 L196.7 363.2 L197.9 354.0 L199.1 359.3 L200.3 360.3 L201.5 357.2 L202.7 356.7 L203.9 364.7 L205.1 359.3 L206.3 364.9 L207.5 361.6 L208.7 360.8 L209.9 361.9 L211.1 362.4 L212.3 363.8 L213.5 362.3 L214.7 361.8 L215.9 362.0 L217.1 364.8 L218.3 363.8 L219.5 359.9 L220.7 360.9 L221.9 363.2 L223.1 361.3 L224.3 362.0 L225.5 360.9 L226.7 362.6 L227.9 364.3 L229.1 365.8 L230.3 363.7 L231.5 368.5 L232.7 363.9 L233.9 371.4 L235.1 366.6 L236.3 365.7 L237.5 363.6 L238.7 358.6 L239.9 364.7 L241.1 365.7 L242.3 369.7 L243.5 362.5 L244.7 370.0 L245.9 365.4 L247.1 367.8 L248.3 360.7 L249.5 366.8 L250.7 365.9 L251.9 368.4 L253.1 367.2 L254.3 364.6 L255.5 369.5 L256.7 369.1 L257.9 369.0 L259.1 370.1 L260.3 370.4 L261.5 368.0 L262.7 365.1 L263.9 365.1 L265.1 371.5 L266.3 370.1 L267.5 368.8 L268.7 367.7 L269.9 368.9 L271.1 368.9 L272.3 368.2 L273.5 367.5 L274.7 374.2 L275.9 369.8 L277.1 368.0 L278.3 366.6 L279.5 368.0 L280.7 371.4 L281.9 371.7 L283.1 369.7 L284.3 370.5 L285.5 369.8 L286.7 368.1 L287.9 373.7 L289.1 371.7 L290.3 376.7 L291.5 369.1 L292.7 370.6 L293.9 373.1 L295.1 370.5 L296.3 367.8 L297.5 368.9 L298.7 371.4 L299.9 372.0 L301.1 371.0 L302.3 373.6 L303.5 373.6 L304.7 372.1 L305.9 371.4 L307.1 370.7 L308.3 372.6 L309.5 373.5 L310.7 371.4 L311.9 372.3 L313.1 370.5 L314.3 367.9 L315.5 368.8 L316.7 373.0 L317.9 372.2 L319.1 374.8 L320.3 371.2 L321.5 373.0 L322.7 374.1 L323.9 373.3 L325.1 369.4 L326.3 370.4 L327.5 371.1 L328.7 368.4 L329.9 371.8 L331.1 373.1 L332.3 369.5 L333.5 375.2 L334.7 369.8 L335.9 370.0 L337.1 369.9 L338.3 368.7 L339.5 371.3 L340.7 370.3 L341.9 374.1 L343.1 371.5 L344.3 371.3 L345.5 369.4 L346.7 366.6 L347.9 369.5 L349.1 367.7 L350.3 371.5 L351.5 369.1 L352.7 372.5 L353.9 370.2 L355.1 370.0 L356.3 368.3 L357.5 366.9 L358.7 365.6 L359.9 364.6 L361.1 360.8 L362.3 364.0 L363.5 368.5 L364.7 365.9 L365.9 366.5 L367.1 365.9 L368.3 364.5 L369.5 370.6 L370.7 368.1 L371.9 368.5 L373.1 370.5 L374.3 370.3 L375.5 363.6 L376.7 365.1 L377.9 363.1 L379.1 361.5 L380.3 360.6 L381.5 358.8 L382.7 360.6 L383.9 358.0 L385.1 356.7 L386.3 357.6 L387.5 356.4 L388.7 354.9 L389.9 353.9 L391.1 354.8 L392.3 351.0 L393.5 347.1 L394.7 342.2 L395.9 335.9 L397.1 325.7 L398.3 313.9 L399.5 297.2 L400.7 273.2 L401.9 244.5 L403.1 213.0 L404.3 190.0 L405.5 152.6 L406.7 114.3 L407.9 76.6 L409.1 66.8 L410.3 91.0 L411.5 126.7 L412.7 179.0 L413.9 219.7 L415.1 253.3 L416.3 276.7 L417.5 294.6 L418.7 304.9 L419.9 312.1 L421.1 317.3 L422.3 326.0 L423.5 334.0 L424.7 339.7 L425.9 344.4 L427.1 346.2 L428.3 348.1 L429.5 351.3 L430.7 355.8 L431.9 357.2 L433.1 355.2 L434.3 359.0 L435.5 356.5 L436.7 360.7 L437.9 358.9 L439.1 356.9 L440.3 359.8 L441.5 356.1 L442.7 355.3 L443.9 353.7 L445.1 356.2 L446.3 355.1 L447.5 354.8 L448.7 354.7 L449.9 358.8 L451.1 356.9 L452.3 357.9 L453.5 362.4 L454.7 364.4 L455.9 364.1 L457.1 361.3 L458.3 364.1 L459.5 367.1 L460.7 366.6 L461.9 370.2 L463.1 364.6 L464.3 369.2 L465.5 366.6 L466.7 371.1 L467.9 368.3 L469.1 371.0 L470.3 367.5 L471.5 366.0 L472.7 366.9 L473.9 368.2 L475.1 367.4 L476.3 372.6 L477.5 373.1 L478.7 370.8 L479.9 368.0 L481.1 370.2 L482.3 369.0 L483.5 374.0 L484.7 371.5 L485.9 372.0 L487.1 369.9 L488.3 366.2 L489.5 369.1 L490.7 368.3 L491.9 371.9 L493.1 371.2 L494.3 369.1 L495.5 370.1 L496.7 374.7 L497.9 368.7 L499.1 368.7 L500.3 370.4 L501.5 369.2 L502.7 369.8 L503.9 372.1 L505.1 374.9 L506.3 366.5 L507.5 370.7 L508.7 370.8 L509.9 370.5 L511.1 370.2 L512.3 369.8 L513.5 373.0 L514.7 369.5 L515.9 370.2 L517.1 370.5 L518.3 370.8 L519.5 370.1 L520.7 372.9 L521.9 370.5 L523.1 371.0 L524.3 370.5 L525.5 368.5 L526.7 369.0 L527.9 368.7 L529.1 371.7 L530.3 369.8 L531.5 369.2 L532.7 372.3 L533.9 373.1 L535.1 368.0 L536.3 376.1 L537.5 372.3 L538.7 371.9 L539.9 372.9 L541.1 369.6 L542.3 366.6 L543.5 366.9 L544.7 359.4 L545.9 355.5 L547.1 355.2 L548.3 353.4 L549.5 357.7 L550.7 361.6 L551.9 367.0 L553.1 368.0 L554.3 371.4 L555.5 373.6 L556.7 373.6 L557.9 372.1 L559.1 375.8 L560.3 375.9 L561.5 377.2 L562.7 379.1 L563.9 379.4 L565.1 378.6 L566.3 378.7 L567.5 375.9 L568.7 378.2 L569.9 379.1 L571.1 377.7 L572.3 378.9 L573.5 376.7 L574.7 382.2 L575.9 383.6 L577.1 377.6 L578.3 379.3 L579.5 377.7 L580.7 381.0 L581.9 378.9 L583.1 378.0 L584.3 377.1 L585.5 377.7 L586.7 375.0 L587.9 378.2 L589.1 374.9 L590.3 376.5 L591.5 374.9 L592.7 375.3 L593.9 372.0 L595.1 369.3 L596.3 363.3 L597.5 361.1 L598.7 357.0 L599.9 358.2 L601.1 361.5 L602.3 365.7 L603.5 365.7 L604.7 370.5 L605.9 366.4 L607.1 372.9 L608.3 365.3 L609.5 367.6 L610.7 366.0 L611.9 373.7 L613.1 366.8 L614.3 370.0 L615.5 368.4 L616.7 365.4 L617.9 368.8 L619.1 369.6 L620.3 366.5 L621.5 365.5 L622.7 361.6 L623.9 360.4 L625.1 359.0 L626.3 360.1 L627.5 363.2 L628.7 359.7 L629.9 359.2 L631.1 357.2 L632.3 356.7 L633.5 361.2 L634.7 355.5 L635.9 355.7 L637.1 355.4 L638.3 351.1 L639.5 346.6 L640.7 334.2 L641.9 324.7 L643.1 316.1 L644.3 314.1 L645.5 317.2 L646.7 321.8 L647.9 331.5 L649.1 338.6 L650.3 341.4 L651.5 346.9 L652.7 349.9 L653.9 349.5 L655.1 348.9 L656.3 355.7 L657.5 354.8 L658.7 358.3 L659.9 359.0 L661.1 361.6 L662.3 364.8 L663.5 369.9 L664.7 372.4 L665.9 370.3 L667.1 373.8 L668.3 379.4 L669.5 377.7 L670.7 377.7 L671.9 381.1 L673.1 381.8 L674.3 382.3 L675.5 381.3 L676.7 381.8 L677.9 381.4 L679.1 383.3 L680.3 380.5 L681.5 381.7 L682.7 382.1 L683.9 385.2 L685.1 382.8 L686.3 381.4 L687.5 382.2 L688.7 381.5 L689.9 382.4 L691.1 380.9 L692.3 383.6 L693.5 382.6 L694.7 379.6 L695.9 379.2 L697.1 382.3 L698.3 382.1 L699.5 381.6 L700.7 379.6 L701.9 379.4 L703.1 384.2 L704.3 385.5 L705.5 385.9 L706.7 381.3 L707.9 386.7 L709.1 383.3 L710.3 385.5 L711.5 385.7 L712.7 383.0 L713.9 383.5 L715.1 380.2 L716.3 382.9 L717.5 380.9 L718.7 386.2 L719.9 385.4 L721.1 387.4 L722.3 386.2 L723.5 383.9 L724.7 386.2 L725.9 384.5 L727.1 386.9 L728.3 386.3 L729.5 383.2 L730.7 385.6 L731.9 385.8 L733.1 384.9 L734.3 387.8 L735.5 389.8 L736.7 384.9 L737.9 385.0 L739.1 380.5 L740.3 385.5 L741.5 384.8 L742.7 380.8 L743.9 386.6 L745.1 387.3 L746.3 384.2 L747.5 385.1 L748.7 383.7 L749.9 387.9 L751.1 382.5 L752.3 385.4 L753.5 390.8 L754.7 386.3 L755.9 387.3 L757.1 385.9 L758.3 383.5 L759.5 386.2 L760.7 387.3 L761.9 383.9 L763.1 387.2 L764.3 389.4 L765.5 389.0 L766.7 382.7 L767.9 384.1 L769.1 382.6 L770.3 389.0 L771.5 388.0 L772.7 388.2 L773.9 384.4 L775.1 383.7 L776.3 386.7 L777.5 386.7 L778.7 384.4 L779.9 386.7 L781.1 387.8 L782.3 386.8 L783.5 383.8 L784.7 381.2 L785.9 385.5 L787.1 386.4 L788.3 385.3 L789.5 384.8 L790.7 384.1 L791.9 387.2 L793.1 385.4 L794.3 385.6 L795.5 383.0 L796.7 383.7 L797.9 385.3 L799.1 382.6 L800.3 381.8 L801.5 383.8 L802.7 387.0 L803.9 384.5 L805.1 386.9 L806.3 383.2 L807.5 382.5 L808.7 379.9 L809.9 381.0 L811.1 384.4 L812.3 381.6 L813.5 381.7 L814.7 380.9 L815.9 378.8 L817.1 377.6 L818.3 376.9 L819.5 376.2 L820.7 374.0 L821.9 372.0 L823.1 369.2 L824.3 365.3 L825.5 361.9 L826.7 356.6 L827.9 352.4 L829.1 344.3 L830.3 336.0 L831.5 324.9 L832.7 313.7 L833.9 308.6 L835.1 308.2 L836.3 310.3 L837.5 313.6 L838.7 321.1 L839.9 330.0 L841.1 343.7 L842.3 355.5 L843.5 359.9 L844.7 364.1 L845.9 367.2 L847.1 370.0 L848.3 371.4 L849.5 373.1 L850.7 372.9 L851.9 370.8 L853.1 375.1 L854.3 374.1 L855.5 374.7 L856.7 373.0 L857.9 375.3 L859.1 375.8 L860.3 377.8 L861.5 376.1 L862.7 379.7 L863.9 380.7 L865.1 379.3 L866.3 381.0 L867.5 381.4 L868.7 385.4 L869.9 379.6 L871.1 384.4 L872.3 382.2 L873.5 385.0 L874.7 388.0 L875.9 385.1 L877.1 387.0 L878.3 385.1 L879.5 391.4 L880.7 389.4 L881.9 390.1 L883.1 384.8 L884.3 385.5 L885.5 390.5 L886.7 387.8 L887.9 387.8 L889.1 389.3 L890.3 385.7 L891.5 390.5 L892.7 388.8 L893.9 389.9 L895.1 387.2 L896.3 390.0 L897.5 387.1 L898.7 391.0 L899.9 391.3 L901.1 390.7 L902.3 389.7 L903.5 389.8 L904.7 382.1 L905.9 389.9 L907.1 387.3 L908.3 387.9 L909.5 386.9 L910.7 384.2 L911.9 385.9 L913.1 388.3 L914.3 389.7 L915.5 385.0 L916.7 384.2 L917.9 388.9 L919.1 383.7 L920.3 389.3 L921.5 384.8 L922.7 382.4 L923.9 385.4 L925.1 385.9 L926.3 379.5 L927.5 383.9 L928.7 379.7 L929.9 381.0 L931.1 376.5 L932.3 372.8 L933.5 372.5 L934.7 370.0 L935.9 368.1 L937.1 363.9 L938.3 358.4 L939.5 352.6 L940.7 347.4 L941.9 343.1 L943.1 339.1 L944.3 336.9 L945.5 331.4 L946.7 333.2 L947.9 332.6 L949.1 337.7 L950.3 340.0 L951.5 343.4 L952.7 348.1 L953.9 347.1 L955.1 349.1 L956.3 347.3 L957.5 354.2 L958.7 350.7 L959.9 345.5 L961.1 342.5 L962.3 340.3 L963.5 336.6 L964.7 333.5 L965.9 329.6 L967.1 331.1 L968.3 335.6 L969.5 341.6 L970.7 346.3 L971.9 351.1 L973.1 357.1 L974.3 359.2 L975.5 364.9 L976.7 367.5 L977.9 370.8 L979.1 374.0 L980.3 374.4 L981.5 376.2 L982.7 375.3 L983.9 377.0 L985.1 380.3 L986.3 383.0 L987.5 383.8 L988.7 386.4 L989.9 383.5 L991.1 383.9 L992.3 386.1 L993.5 384.7 L994.7 385.1 L995.9 383.7 L997.1 388.2 L998.3 384.5 L999.5 388.2 L1000.7 384.5 L1001.9 390.2 L1003.1 385.9 L1004.3 390.2 L1005.5 385.1 L1006.7 387.8 L1007.9 391.6 L1009.1 387.1 L1010.3 389.3 L1011.5 388.1 L1012.7 383.9 L1013.9 390.1 L1015.1 390.4 L1016.3 386.9 L1017.5 390.9 L1018.7 387.8 L1019.9 387.4 L1021.1 389.8 L1022.3 388.2 L1023.5 395.3 L1024.7 386.2 L1025.9 391.7 L1027.1 392.3 L1028.3 385.3 L1029.5 385.9 L1030.7 391.3 L1031.9 388.8 L1033.1 390.9 L1034.3 392.7 L1035.5 389.1 L1036.7 387.4 L1037.9 383.5 L1039.1 390.3 L1040.3 387.6 L1041.5 390.5 L1042.7 390.3 L1043.9 386.4 L1045.1 393.6 L1046.3 392.0 L1047.5 391.4 L1048.7 386.6 L1049.9 388.4 L1051.1 387.9 L1052.3 388.2 L1053.5 386.4 L1054.7 390.0 L1055.9 389.4 L1057.1 389.6 L1058.3 387.5 L1059.5 391.6 L1060.7 388.9 L1061.9 382.1 L1063.1 386.8 L1064.3 388.0 L1065.5 390.2 L1066.7 387.2 L1067.9 387.1 L1069.1 386.0 L1070.3 388.8 L1071.5 386.1 L1072.7 385.6 L1073.9 385.0 L1075.1 387.6 L1076.3 385.0 L1077.5 382.3 L1078.7 386.9 L1079.9 383.8 L1081.1 385.4 L1082.3 384.8 L1083.5 385.4 L1084.7 384.1 L1085.9 380.4 L1087.1 379.9 L1088.3 376.9 L1089.5 380.5 L1090.7 377.3 L1091.9 377.6 L1093.1 373.6 L1094.3 369.7 L1095.5 373.5 L1096.7 369.9 L1097.9 368.3 L1099.1 366.6 L1100.3 365.7 L1101.5 363.8 L1102.7 359.0 L1103.9 359.9 L1105.1 355.4 L1106.3 353.2 L1107.5 354.5 L1108.7 352.6 L1109.9 350.0 L1111.1 349.5 L1112.3 354.6 L1113.5 357.8 L1114.7 359.8 L1115.9 360.2 L1117.1 362.5 L1118.3 363.5 L1119.5 367.2 L1120.7 369.7 L1121.9 371.4 L1123.1 370.1 L1124.3 372.9 L1125.5 374.6 L1126.7 374.0 L1127.9 375.7 L1129.1 380.5 L1130.3 378.3 L1131.5 380.5 L1132.7 379.2 L1133.9 380.9 L1135.1 378.6 L1136.3 382.4 L1137.5 385.4 L1138.7 387.8 L1139.9 386.7 L1141.1 386.2 L1142.3 385.6 L1143.5 384.8 L1144.7 386.2 L1145.9 388.3 L1147.1 386.0 L1148.3 389.9 L1149.5 386.5 L1150.7 385.2 L1151.9 387.1 L1153.1 385.9 L1154.3 386.7 L1155.5 392.5 L1156.7 389.5 L1157.9 390.5 L1159.1 392.8 L1160.3 393.0 L1161.5 388.8 L1162.7 393.2 L1163.9 390.9 L1165.1 390.0 L1166.3 391.0 L1167.5 386.5 L1168.7 388.0 L1169.9 389.6 L1171.1 391.3 L1172.3 389.0 L1173.5 389.5 L1174.7 392.1 L1175.9 393.1 L1177.1 391.6 L1178.3 392.7 L1179.5 388.7 L1180.7 389.0 L1181.9 390.4 L1183.1 388.9 L1184.3 388.4 L1185.5 393.5 L1186.7 389.1 L1187.9 387.2 L1189.1 390.6 L1190.3 393.8 L1191.5 389.6 L1192.7 392.3 L1193.9 388.3 L1195.1 388.1 L1196.3 387.6 L1197.5 388.8 L1198.7 393.4 L1199.9 386.3 L1201.1 392.8 L1202.3 386.5 L1203.5 388.3 L1204.7 390.6 L1205.9 390.0 L1207.1 389.1 L1208.3 384.6 L1209.5 389.0 L1210.7 385.9 L1211.9 391.9 L1213.1 386.0 L1214.3 385.4 L1215.5 382.1 L1216.7 381.8 L1217.9 379.3 L1219.1 382.2 L1220.3 379.1 L1221.5 379.5 L1222.7 376.3 L1223.9 375.7 L1225.1 378.5 L1226.3 373.4 L1227.5 371.5 L1228.7 376.7 L1229.9 374.4 L1231.1 376.6 L1232.3 379.9 L1233.5 378.0 L1234.7 381.9 L1235.9 380.2 L1237.1 385.0 L1238.3 385.5 L1239.5 381.9 L1240.7 382.4 L1241.9 380.6 L1243.1 381.2 L1244.3 381.1 L1245.5 375.8 L1246.7 377.7 L1247.9 372.9 L1249.1 372.4 L1250.3 369.6 L1251.5 377.9 L1252.7 374.0 L1253.9 375.2 L1255.1 375.0 L1256.3 379.1 L1257.5 375.8 L1258.7 380.4 L1259.9 385.2 L1261.1 381.9 L1262.3 383.6 L1263.5 385.7 L1264.7 384.0 L1265.9 386.3 L1267.1 388.8 L1268.3 388.1 L1269.5 388.9 L1270.7 387.8 L1271.9 389.6 L1273.1 389.4 L1274.3 392.7 L1275.5 391.5 L1276.7 389.7 L1277.9 385.1 L1279.1 392.3 L1280.3 392.6 L1281.5 388.9 L1282.7 386.5 L1283.9 388.5 L1285.1 393.4 L1286.3 388.6 L1287.5 390.1 L1288.7 391.7 L1289.9 394.1 L1291.1 391.1 L1292.3 390.9 L1293.5 389.8 L1294.7 394.9 L1295.9 393.5 L1297.1 390.7 L1298.3 387.6 L1299.5 389.0 L1300.7 392.1 L1301.9 389.0 L1303.1 392.7 L1304.3 391.4 L1305.5 391.1 L1306.7 391.9 L1307.9 391.4 L1309.1 388.2 L1310.3 389.3 L1311.5 395.4 L1312.7 387.1 L1313.9 388.7 L1315.1 392.1 L1316.3 389.1 L1317.5 387.5 L1318.7 386.2 L1319.9 390.0 L1321.1 390.7 L1322.3 391.1 L1323.5 387.9 L1324.7 389.4 L1325.9 384.8 L1327.1 386.7 L1328.3 384.5 L1329.5 385.5 L1330.7 385.2 L1331.9 383.8 L1333.1 379.0 L1334.3 379.5 L1335.5 375.1 L1336.7 372.3 L1337.9 372.0 L1339.1 368.7 L1340.3 370.5 L1341.5 370.2 L1342.7 368.7 L1343.9 370.1 L1345.1 368.3 L1346.3 369.9 L1347.5 369.1 L1348.7 372.9 L1349.9 373.0 L1351.1 374.7 L1352.3 376.4 L1353.5 378.0 L1354.7 376.1 L1355.9 377.2 L1357.1 380.2 L1358.3 382.5 L1359.5 383.0 L1360.7 384.6 L1361.9 386.0 L1363.1 384.8 L1364.3 384.1 L1365.5 382.6 L1366.7 383.3 L1367.9 385.0 L1369.1 387.1 L1370.3 387.9 L1371.5 388.3 L1372.7 388.8 L1373.9 390.9 L1375.1 390.3 L1376.3 390.8 L1377.5 391.1 L1378.7 389.5 L1379.9 388.7 L1381.1 392.2 L1382.3 392.3 L1383.5 391.1 L1384.7 390.8 L1385.9 397.1 L1387.1 390.4 L1388.3 391.7 L1389.5 393.0 L1390.7 389.8 L1391.9 392.8 L1393.1 396.8 L1394.3 394.9 L1395.5 394.2 L1396.7 394.1 L1397.9 393.0 L1399.1 395.0 L1400.3 392.3 L1401.5 391.7 L1402.7 392.9 L1403.9 394.8 L1405.1 393.4 L1406.3 394.2 L1407.5 387.8 L1408.7 395.4 L1409.9 398.2 L1411.1 395.7 L1412.3 391.8 L1413.5 390.5 L1414.7 393.2 L1415.9 390.1 L1417.1 394.2 L1418.3 391.2 L1419.5 394.7 L1420.7 395.6 L1421.9 387.5 L1423.1 393.0 L1424.3 390.6 L1425.5 388.9 L1426.7 390.8 L1427.9 391.7 L1429.1 394.6 L1430.3 388.5 L1431.5 394.6 L1432.7 396.8 L1433.9 393.4 L1435.1 393.3 L1436.3 391.9 L1437.5 389.1 L1438.7 393.2 L1439.9 392.8 L1441.1 393.6 L1442.3 397.9 L1443.5 393.5 L1444.7 392.7 L1445.9 395.3 L1447.1 388.5 L1448.3 388.9 L1449.5 390.6 L1450.7 389.9 L1451.9 393.0 L1453.1 390.6 L1454.3 395.3 L1455.5 394.8 L1456.7 392.9 L1457.9 390.2 L1459.1 392.4 L1460.3 392.8 L1461.5 388.3 L1462.7 391.5 L1463.9 392.2 L1465.1 391.0 L1466.3 393.8 L1467.5 392.7 L1468.7 388.1 L1469.9 389.7 L1471.1 387.4 L1472.3 389.8 L1473.5 386.5 L1474.7 389.5 L1475.9 387.8 L1477.1 388.1 L1478.3 385.0 L1479.5 381.5 L1480.7 384.2 L1481.9 379.8 L1483.1 381.4 L1484.3 379.5 L1485.5 380.1 L1486.7 382.7 L1487.9 380.3 L1489.1 382.9 L1490.3 378.4 L1491.5 383.4 L1492.7 382.2 L1493.9 383.1 L1495.1 383.9 L1496.3 385.1 L1497.5 388.2 L1498.7 381.9 L1499.9 386.1 L1501.1 385.2 L1502.3 389.4 L1503.5 386.7 L1504.7 389.0 L1505.9 387.7 L1507.1 390.3 L1508.3 391.4 L1509.5 388.8 L1510.7 390.1 L1511.9 387.3 L1513.1 391.3 L1514.3 392.8 L1515.5 390.1 L1516.7 394.0 L1517.9 387.4 L1519.1 388.2 L1520.3 389.4 L1521.5 391.6 L1522.7 393.0 L1523.9 393.0 L1525.1 393.2 L1526.3 395.2 L1527.5 392.7 L1528.7 391.0 L1529.9 391.2 L1531.1 399.0 L1532.3 388.8 L1533.5 393.9 L1534.7 397.8 L1535.9 395.6 L1537.1 392.6 L1538.3 394.6 L1539.5 396.7 L1540.7 397.5 L1541.9 392.7 L1543.1 396.6 L1544.3 395.5 L1545.5 397.5 L1546.7 398.3 L1547.9 394.2 L1549.1 391.6 L1550.3 396.0 L1551.5 399.3 L1552.7 396.8 L1553.9 395.8 L1555.1 400.9 L1556.3 392.8 L1557.5 397.5 L1558.7 394.0 L1559.9 395.5 L1561.1 395.7 L1562.3 399.1 L1563.5 393.3 L1564.7 394.3 L1565.9 391.8 L1567.1 396.8 L1568.3 394.6 L1569.5 396.7 L1570.7 393.2 L1571.9 394.9 L1573.1 398.3 L1574.3 395.5 L1575.5 397.4 L1576.7 397.2 L1577.9 395.2 L1579.1 392.3 L1580.3 398.4 L1581.5 396.5 L1582.7 398.5 L1583.9 391.4 L1585.1 392.3 L1586.3 391.2 L1587.5 394.2 L1588.7 398.8 L1589.9 397.7 L1591.1 396.3 L1592.3 396.8 L1593.5 398.3 L1594.7 395.8 L1595.9 397.5 L1597.1 396.9 L1598.3 391.4 L1599.5 395.7 L1600.7 399.9 L1601.9 395.8 L1603.1 396.4 L1604.3 395.4 L1605.5 395.7 L1606.7 399.5 L1607.9 396.3 L1609.1 394.5 L1610.3 389.6 L1611.5 395.6 L1612.7 392.4 L1613.9 392.7 L1615.1 399.0 L1616.3 398.8 L1617.5 392.6 L1618.7 399.2 L1619.9 398.3" stroke="#ff8400" stroke-width="1.6" fill="none" stroke-linejoin="round" opacity="0.45"/><path d="M123.5 480.8 L124.5 481.0 L125.5 479.6 L126.5 478.9 L127.5 479.2 L128.5 480.8 L129.5 482.2 L130.5 481.2 L131.5 480.6 L132.5 481.8 L133.5 483.1 L134.5 483.7 L135.5 483.8 L136.5 483.4 L137.5 482.7 L138.5 483.8 L139.5 484.6 L140.5 484.8 L141.5 485.3 L142.5 484.7 L143.5 486.4 L144.5 486.8 L145.5 486.6 L146.5 487.6 L147.5 486.7 L148.5 487.6 L149.5 489.3 L150.5 489.2 L151.5 490.1 L152.5 490.1 L153.5 489.4 L154.5 490.7 L155.5 490.8 L156.5 491.5 L157.5 492.1 L158.5 492.2 L159.5 492.9 L160.5 492.4 L161.5 492.0 L162.5 491.9 L163.5 493.0 L164.5 494.2 L165.5 494.5 L166.5 494.0 L167.5 493.9 L168.5 493.8 L169.5 494.6 L170.5 496.0 L171.5 496.3 L172.5 496.2 L173.5 495.9 L174.5 495.6 L175.5 495.2 L176.5 495.7 L177.5 497.1 L178.5 497.4 L179.5 497.7 L180.5 497.9 L181.5 497.5 L182.5 497.6 L183.5 497.6 L184.5 497.8 L185.5 498.8 L186.5 498.7 L187.5 499.0 L188.5 499.1 L189.5 498.7 L190.5 497.8 L191.5 498.5 L192.5 499.1 L193.5 498.4 L194.5 499.3 L195.5 500.0 L196.5 499.7 L197.5 500.6 L198.5 500.8 L199.5 500.8 L200.5 501.1 L201.5 501.2 L202.5 499.6 L203.5 499.6 L204.5 501.0 L205.5 502.6 L206.5 502.2 L207.5 503.1 L208.5 503.1 L209.5 503.6 L210.5 503.5 L211.5 503.8 L212.5 504.3 L213.5 503.9 L214.5 503.4 L215.5 505.1 L216.5 503.6 L217.5 503.3 L218.5 503.7 L219.5 505.0 L220.5 506.3 L221.5 506.6 L222.5 506.8 L223.5 506.9 L224.5 506.3 L225.5 505.6 L226.5 505.8 L227.5 507.6 L228.5 508.5 L229.5 508.9 L230.5 508.1 L231.5 507.8 L232.5 509.3 L233.5 509.3 L234.5 509.4 L235.5 510.1 L236.5 509.9 L237.5 509.9 L238.5 509.4 L239.5 509.3 L240.5 510.2 L241.5 510.9 L242.5 511.3 L243.5 511.3 L244.5 511.0 L245.5 511.7 L246.5 511.9 L247.5 512.0 L248.5 511.2 L249.5 512.0 L250.5 511.3 L251.5 511.5 L252.5 510.6 L253.5 510.4 L254.5 510.6 L255.5 511.3 L256.5 512.6 L257.5 512.6 L258.5 511.9 L259.5 511.7 L260.5 511.9 L261.5 512.8 L262.5 513.4 L263.5 513.3 L264.5 513.5 L265.5 513.8 L266.5 512.7 L267.5 512.7 L268.5 513.4 L269.5 513.1 L270.5 513.9 L271.5 513.4 L272.5 513.0 L273.5 513.3 L274.5 513.6 L275.5 514.4 L276.5 513.4 L277.5 513.9 L278.5 513.9 L279.5 513.5 L280.5 513.3 L281.5 514.1 L282.5 513.9 L283.5 513.9 L284.5 512.5 L285.5 513.3 L286.5 513.9 L287.5 513.3 L288.5 513.7 L289.5 513.7 L290.5 513.7 L291.5 513.8 L292.5 514.2 L293.5 513.6 L294.5 513.9 L295.5 514.1 L296.5 513.7 L297.5 512.8 L298.5 512.9 L299.5 514.3 L300.5 514.0 L301.5 512.8 L302.5 513.3 L303.5 514.6 L304.5 513.2 L305.5 513.2 L306.5 514.7 L307.5 513.8 L308.5 514.4 L309.5 514.7 L310.5 514.6 L311.5 514.9 L312.5 514.6 L313.5 513.4 L314.5 513.5 L315.5 515.3 L316.5 515.3 L317.5 514.4 L318.5 514.6 L319.5 514.0 L320.5 513.9 L321.5 515.4 L322.5 515.1 L323.5 515.5 L324.5 515.2 L325.5 514.4 L326.5 513.7 L327.5 514.4 L328.5 515.0 L329.5 515.0 L330.5 515.7 L331.5 515.3 L332.5 514.5 L333.5 515.7 L334.5 515.0 L335.5 515.2 L336.5 514.1 L337.5 514.1 L338.5 515.5 L339.5 515.4 L340.5 515.0 L341.5 515.0 L342.5 514.6 L343.5 514.8 L344.5 515.6 L345.5 514.0 L346.5 514.4 L347.5 516.0 L348.5 515.2 L349.5 515.0 L350.5 515.5 L351.5 516.2 L352.5 516.2 L353.5 516.0 L354.5 515.8 L355.5 515.0 L356.5 514.9 L357.5 515.4 L358.5 514.7 L359.5 514.5 L360.5 515.0 L361.5 515.4 L362.5 515.7 L363.5 515.0 L364.5 515.3 L365.5 515.6 L366.5 515.4 L367.5 515.5 L368.5 514.6 L369.5 514.6 L370.5 514.3 L371.5 514.0 L372.5 514.5 L373.5 514.7 L374.5 513.9 L375.5 513.8 L376.5 512.2 L377.5 512.3 L378.5 510.6 L379.5 509.3 L380.5 508.0 L381.5 506.8 L382.5 504.2 L383.5 502.8 L384.5 502.4 L385.5 501.6 L386.5 501.3 L387.5 500.9 L388.5 500.4 L389.5 499.4 L390.5 499.8 L391.5 498.3 L392.5 497.4 L393.5 496.8 L394.5 495.1 L395.5 493.0 L396.5 489.2 L397.5 483.0 L398.5 474.3 L399.5 464.1 L400.5 452.2 L401.5 439.8 L402.5 427.7 L403.5 409.2 L404.5 376.2 L405.5 335.0 L406.5 294.4 L407.5 252.6 L408.5 211.4 L409.5 178.0 L410.5 145.3 L411.5 119.4 L412.5 110.2 L413.5 134.5 L414.5 176.1 L415.5 209.5 L416.5 240.2 L417.5 271.5 L418.5 305.5 L419.5 346.7 L420.5 386.1 L421.5 413.0 L422.5 433.3 L423.5 450.9 L424.5 468.5 L425.5 477.0 L426.5 481.2 L427.5 484.5 L428.5 488.1 L429.5 491.9 L430.5 495.1 L431.5 497.9 L432.5 500.5 L433.5 501.8 L434.5 501.9 L435.5 502.6 L436.5 504.3 L437.5 504.9 L438.5 505.4 L439.5 505.2 L440.5 505.5 L441.5 504.5 L442.5 503.7 L443.5 503.9 L444.5 502.9 L445.5 502.8 L446.5 501.9 L447.5 501.8 L448.5 501.1 L449.5 500.7 L450.5 502.0 L451.5 503.8 L452.5 504.8 L453.5 506.1 L454.5 507.9 L455.5 509.7 L456.5 511.1 L457.5 512.3 L458.5 513.2 L459.5 514.4 L460.5 515.3 L461.5 516.4 L462.5 517.3 L463.5 518.6 L464.5 519.1 L465.5 519.6 L466.5 519.6 L467.5 520.2 L468.5 520.8 L469.5 520.2 L470.5 519.9 L471.5 520.5 L472.5 521.2 L473.5 521.7 L474.5 521.6 L475.5 520.6 L476.5 520.3 L477.5 521.4 L478.5 522.6 L479.5 522.6 L480.5 522.0 L481.5 522.3 L482.5 523.0 L483.5 523.1 L484.5 522.5 L485.5 522.3 L486.5 523.1 L487.5 522.6 L488.5 522.6 L489.5 522.5 L490.5 523.2 L491.5 523.4 L492.5 522.9 L493.5 523.0 L494.5 523.3 L495.5 523.1 L496.5 523.1 L497.5 522.7 L498.5 522.4 L499.5 522.3 L500.5 522.4 L501.5 522.5 L502.5 522.8 L503.5 522.0 L504.5 522.5 L505.5 521.9 L506.5 522.1 L507.5 522.2 L508.5 522.1 L509.5 522.1 L510.5 521.4 L511.5 521.0 L512.5 521.5 L513.5 521.4 L514.5 521.1 L515.5 521.1 L516.5 521.2 L517.5 521.7 L518.5 521.8 L519.5 521.7 L520.5 521.5 L521.5 520.7 L522.5 520.9 L523.5 522.2 L524.5 521.5 L525.5 522.0 L526.5 522.8 L527.5 523.0 L528.5 523.1 L529.5 523.4 L530.5 523.4 L531.5 523.4 L532.5 523.6 L533.5 524.1 L534.5 524.1 L535.5 523.8 L536.5 524.5 L537.5 522.8 L538.5 521.6 L539.5 523.0 L540.5 524.3 L541.5 523.5 L542.5 522.8 L543.5 521.2 L544.5 520.2 L545.5 518.6 L546.5 515.1 L547.5 510.6 L548.5 506.3 L549.5 503.2 L550.5 500.8 L551.5 501.7 L552.5 505.4 L553.5 510.6 L554.5 515.2 L555.5 519.0 L556.5 521.0 L557.5 522.0 L558.5 522.8 L559.5 523.4 L560.5 524.9 L561.5 524.6 L562.5 525.3 L563.5 526.6 L564.5 527.0 L565.5 526.2 L566.5 526.5 L567.5 527.1 L568.5 527.0 L569.5 527.5 L570.5 527.5 L571.5 528.1 L572.5 528.2 L573.5 527.6 L574.5 526.9 L575.5 527.5 L576.5 528.4 L577.5 528.5 L578.5 527.9 L579.5 528.3 L580.5 528.2 L581.5 528.0 L582.5 527.7 L583.5 527.4 L584.5 527.2 L585.5 527.3 L586.5 527.6 L587.5 528.1 L588.5 528.4 L589.5 527.9 L590.5 527.7 L591.5 527.0 L592.5 526.5 L593.5 524.9 L594.5 524.2 L595.5 524.6 L596.5 521.8 L597.5 518.0 L598.5 513.7 L599.5 509.6 L600.5 507.9 L601.5 508.8 L602.5 510.0 L603.5 511.7 L604.5 513.8 L605.5 516.3 L606.5 518.3 L607.5 519.2 L608.5 518.3 L609.5 518.0 L610.5 518.7 L611.5 519.0 L612.5 518.5 L613.5 518.0 L614.5 517.3 L615.5 517.7 L616.5 518.9 L617.5 518.6 L618.5 518.0 L619.5 518.0 L620.5 518.4 L621.5 518.1 L622.5 517.8 L623.5 517.9 L624.5 517.1 L625.5 514.9 L626.5 511.8 L627.5 508.4 L628.5 505.4 L629.5 503.8 L630.5 502.7 L631.5 502.8 L632.5 503.0 L633.5 502.7 L634.5 502.8 L635.5 502.5 L636.5 502.5 L637.5 502.0 L638.5 501.3 L639.5 500.2 L640.5 494.9 L641.5 486.2 L642.5 477.1 L643.5 468.5 L644.5 458.2 L645.5 449.2 L646.5 445.3 L647.5 446.9 L648.5 450.2 L649.5 453.9 L650.5 459.2 L651.5 468.1 L652.5 477.6 L653.5 484.9 L654.5 488.2 L655.5 490.4 L656.5 492.2 L657.5 493.8 L658.5 495.2 L659.5 496.5 L660.5 498.4 L661.5 500.4 L662.5 502.8 L663.5 505.5 L664.5 508.4 L665.5 511.2 L666.5 513.9 L667.5 516.6 L668.5 518.6 L669.5 520.8 L670.5 522.4 L671.5 524.6 L672.5 526.3 L673.5 527.8 L674.5 528.8 L675.5 529.1 L676.5 530.1 L677.5 529.3 L678.5 530.1 L679.5 531.4 L680.5 531.2 L681.5 531.1 L682.5 531.7 L683.5 532.3 L684.5 532.8 L685.5 532.2 L686.5 532.4 L687.5 532.3 L688.5 531.5 L689.5 531.0 L690.5 531.1 L691.5 529.6 L692.5 529.5 L693.5 529.0 L694.5 527.9 L695.5 527.5 L696.5 527.5 L697.5 527.3 L698.5 527.8 L699.5 528.3 L700.5 528.6 L701.5 529.1 L702.5 529.8 L703.5 529.4 L704.5 530.0 L705.5 531.3 L706.5 531.7 L707.5 531.9 L708.5 532.5 L709.5 532.6 L710.5 532.3 L711.5 533.2 L712.5 533.5 L713.5 533.4 L714.5 534.1 L715.5 534.7 L716.5 534.8 L717.5 535.6 L718.5 535.7 L719.5 535.8 L720.5 535.5 L721.5 535.8 L722.5 536.2 L723.5 536.3 L724.5 536.5 L725.5 536.3 L726.5 536.8 L727.5 535.9 L728.5 535.6 L729.5 536.0 L730.5 536.3 L731.5 536.1 L732.5 535.8 L733.5 535.2 L734.5 535.2 L735.5 536.3 L736.5 536.9 L737.5 535.9 L738.5 534.3 L739.5 535.0 L740.5 536.8 L741.5 536.8 L742.5 536.8 L743.5 536.1 L744.5 536.0 L745.5 536.4 L746.5 535.7 L747.5 535.3 L748.5 536.5 L749.5 537.0 L750.5 536.4 L751.5 536.8 L752.5 536.7 L753.5 536.8 L754.5 537.0 L755.5 536.3 L756.5 535.8 L757.5 535.8 L758.5 536.5 L759.5 536.7 L760.5 537.0 L761.5 536.7 L762.5 536.2 L763.5 535.5 L764.5 536.6 L765.5 537.2 L766.5 536.5 L767.5 536.5 L768.5 537.2 L769.5 537.4 L770.5 537.0 L771.5 536.5 L772.5 536.8 L773.5 537.3 L774.5 537.1 L775.5 536.7 L776.5 537.4 L777.5 535.7 L778.5 535.9 L779.5 536.9 L780.5 537.4 L781.5 537.4 L782.5 536.9 L783.5 537.1 L784.5 537.7 L785.5 537.3 L786.5 536.9 L787.5 537.5 L788.5 537.3 L789.5 536.5 L790.5 537.5 L791.5 536.4 L792.5 536.7 L793.5 536.9 L794.5 536.7 L795.5 535.9 L796.5 535.8 L797.5 535.8 L798.5 535.2 L799.5 535.0 L800.5 535.0 L801.5 534.7 L802.5 534.6 L803.5 534.2 L804.5 533.8 L805.5 533.5 L806.5 532.7 L807.5 532.7 L808.5 532.6 L809.5 532.4 L810.5 532.1 L811.5 531.7 L812.5 531.3 L813.5 530.7 L814.5 530.1 L815.5 529.5 L816.5 528.9 L817.5 528.1 L818.5 527.1 L819.5 525.1 L820.5 523.8 L821.5 522.6 L822.5 520.8 L823.5 518.4 L824.5 516.1 L825.5 512.9 L826.5 508.6 L827.5 503.4 L828.5 498.0 L829.5 491.9 L830.5 483.7 L831.5 474.3 L832.5 464.8 L833.5 455.8 L834.5 445.3 L835.5 435.6 L836.5 430.6 L837.5 433.4 L838.5 438.7 L839.5 445.7 L840.5 453.9 L841.5 466.2 L842.5 479.1 L843.5 488.7 L844.5 497.2 L845.5 504.2 L846.5 507.2 L847.5 509.8 L848.5 511.7 L849.5 513.1 L850.5 513.8 L851.5 514.9 L852.5 515.9 L853.5 517.3 L854.5 518.2 L855.5 519.5 L856.5 520.9 L857.5 521.9 L858.5 523.4 L859.5 525.3 L860.5 526.8 L861.5 528.3 L862.5 529.8 L863.5 531.0 L864.5 532.0 L865.5 533.1 L866.5 533.3 L867.5 534.0 L868.5 534.4 L869.5 534.4 L870.5 534.6 L871.5 535.3 L872.5 535.8 L873.5 536.1 L874.5 536.0 L875.5 535.6 L876.5 536.8 L877.5 536.5 L878.5 537.4 L879.5 537.1 L880.5 537.3 L881.5 537.2 L882.5 537.2 L883.5 537.8 L884.5 538.1 L885.5 537.8 L886.5 538.0 L887.5 538.2 L888.5 537.8 L889.5 537.9 L890.5 538.3 L891.5 538.2 L892.5 538.1 L893.5 537.2 L894.5 537.0 L895.5 537.5 L896.5 537.8 L897.5 538.0 L898.5 537.8 L899.5 537.9 L900.5 538.0 L901.5 538.2 L902.5 537.4 L903.5 537.4 L904.5 538.1 L905.5 537.7 L906.5 538.2 L907.5 537.9 L908.5 538.2 L909.5 538.2 L910.5 537.9 L911.5 537.2 L912.5 537.3 L913.5 537.2 L914.5 537.4 L915.5 537.6 L916.5 536.8 L917.5 536.3 L918.5 536.8 L919.5 537.1 L920.5 536.5 L921.5 536.2 L922.5 535.7 L923.5 534.6 L924.5 534.6 L925.5 535.0 L926.5 534.1 L927.5 532.3 L928.5 530.2 L929.5 527.9 L930.5 525.1 L931.5 522.6 L932.5 520.0 L933.5 517.0 L934.5 514.2 L935.5 511.1 L936.5 507.2 L937.5 503.8 L938.5 500.1 L939.5 496.6 L940.5 493.1 L941.5 489.9 L942.5 486.2 L943.5 482.1 L944.5 478.0 L945.5 474.7 L946.5 471.3 L947.5 469.3 L948.5 467.8 L949.5 468.0 L950.5 470.1 L951.5 472.9 L952.5 475.6 L953.5 478.0 L954.5 480.3 L955.5 483.8 L956.5 487.3 L957.5 489.5 L958.5 489.2 L959.5 487.7 L960.5 484.4 L961.5 480.8 L962.5 478.3 L963.5 475.5 L964.5 472.6 L965.5 469.7 L966.5 467.6 L967.5 467.2 L968.5 468.2 L969.5 470.8 L970.5 474.1 L971.5 478.0 L972.5 482.4 L973.5 489.1 L974.5 496.8 L975.5 504.6 L976.5 510.6 L977.5 513.8 L978.5 516.7 L979.5 519.1 L980.5 521.7 L981.5 523.4 L982.5 524.9 L983.5 526.5 L984.5 527.1 L985.5 527.4 L986.5 527.5 L987.5 527.8 L988.5 528.2 L989.5 529.1 L990.5 529.4 L991.5 530.1 L992.5 530.4 L993.5 530.4 L994.5 530.6 L995.5 530.8 L996.5 531.7 L997.5 531.7 L998.5 532.3 L999.5 532.7 L1000.5 533.2 L1001.5 533.1 L1002.5 533.3 L1003.5 534.4 L1004.5 534.0 L1005.5 533.5 L1006.5 534.2 L1007.5 535.3 L1008.5 536.0 L1009.5 536.1 L1010.5 536.2 L1011.5 536.6 L1012.5 535.7 L1013.5 535.4 L1014.5 536.1 L1015.5 537.1 L1016.5 537.2 L1017.5 537.3 L1018.5 537.3 L1019.5 537.6 L1020.5 536.7 L1021.5 536.4 L1022.5 536.5 L1023.5 536.6 L1024.5 536.9 L1025.5 537.0 L1026.5 537.1 L1027.5 538.2 L1028.5 538.4 L1029.5 537.7 L1030.5 537.8 L1031.5 538.4 L1032.5 538.4 L1033.5 538.5 L1034.5 538.3 L1035.5 537.9 L1036.5 538.3 L1037.5 538.3 L1038.5 537.4 L1039.5 537.6 L1040.5 539.0 L1041.5 539.1 L1042.5 538.9 L1043.5 539.4 L1044.5 539.4 L1045.5 539.4 L1046.5 539.0 L1047.5 538.7 L1048.5 538.3 L1049.5 538.1 L1050.5 538.9 L1051.5 538.3 L1052.5 537.5 L1053.5 538.2 L1054.5 538.7 L1055.5 538.4 L1056.5 538.1 L1057.5 538.2 L1058.5 538.9 L1059.5 539.3 L1060.5 539.3 L1061.5 538.8 L1062.5 538.1 L1063.5 538.4 L1064.5 539.0 L1065.5 538.8 L1066.5 539.1 L1067.5 537.9 L1068.5 537.6 L1069.5 538.8 L1070.5 538.4 L1071.5 538.6 L1072.5 538.1 L1073.5 538.2 L1074.5 537.7 L1075.5 537.5 L1076.5 537.0 L1077.5 537.8 L1078.5 537.0 L1079.5 537.0 L1080.5 536.9 L1081.5 536.7 L1082.5 536.6 L1083.5 536.7 L1084.5 535.5 L1085.5 534.5 L1086.5 533.4 L1087.5 531.3 L1088.5 529.7 L1089.5 529.0 L1090.5 527.7 L1091.5 526.2 L1092.5 525.2 L1093.5 523.2 L1094.5 521.8 L1095.5 520.5 L1096.5 518.9 L1097.5 517.1 L1098.5 515.4 L1099.5 513.9 L1100.5 511.9 L1101.5 509.9 L1102.5 507.9 L1103.5 505.4 L1104.5 503.0 L1105.5 500.8 L1106.5 498.4 L1107.5 496.5 L1108.5 494.1 L1109.5 492.5 L1110.5 491.5 L1111.5 491.4 L1112.5 491.6 L1113.5 493.2 L1114.5 496.1 L1115.5 498.7 L1116.5 502.3 L1117.5 505.9 L1118.5 509.0 L1119.5 511.3 L1120.5 513.2 L1121.5 514.7 L1122.5 516.0 L1123.5 517.4 L1124.5 518.6 L1125.5 519.5 L1126.5 521.2 L1127.5 522.5 L1128.5 523.3 L1129.5 524.5 L1130.5 524.9 L1131.5 527.1 L1132.5 527.4 L1133.5 528.7 L1134.5 530.3 L1135.5 531.5 L1136.5 532.4 L1137.5 533.2 L1138.5 534.2 L1139.5 534.3 L1140.5 534.1 L1141.5 534.6 L1142.5 535.7 L1143.5 535.8 L1144.5 536.2 L1145.5 536.9 L1146.5 537.2 L1147.5 536.8 L1148.5 536.7 L1149.5 537.6 L1150.5 537.9 L1151.5 538.1 L1152.5 538.3 L1153.5 538.7 L1154.5 538.9 L1155.5 539.0 L1156.5 538.7 L1157.5 538.2 L1158.5 538.5 L1159.5 539.3 L1160.5 538.9 L1161.5 538.6 L1162.5 539.7 L1163.5 539.8 L1164.5 539.3 L1165.5 539.5 L1166.5 539.6 L1167.5 539.6 L1168.5 539.3 L1169.5 539.4 L1170.5 540.1 L1171.5 540.4 L1172.5 540.4 L1173.5 540.3 L1174.5 540.1 L1175.5 540.2 L1176.5 540.1 L1177.5 538.9 L1178.5 538.8 L1179.5 539.8 L1180.5 540.6 L1181.5 540.5 L1182.5 541.0 L1183.5 540.7 L1184.5 540.2 L1185.5 540.9 L1186.5 540.8 L1187.5 540.7 L1188.5 540.8 L1189.5 540.6 L1190.5 540.9 L1191.5 540.9 L1192.5 540.2 L1193.5 540.4 L1194.5 540.4 L1195.5 540.2 L1196.5 540.3 L1197.5 539.8 L1198.5 539.9 L1199.5 540.5 L1200.5 540.2 L1201.5 539.5 L1202.5 540.0 L1203.5 540.4 L1204.5 539.6 L1205.5 539.9 L1206.5 539.2 L1207.5 539.4 L1208.5 539.0 L1209.5 538.7 L1210.5 539.2 L1211.5 538.9 L1212.5 538.4 L1213.5 537.7 L1214.5 535.9 L1215.5 533.2 L1216.5 531.1 L1217.5 530.2 L1218.5 529.2 L1219.5 527.9 L1220.5 526.2 L1221.5 525.5 L1222.5 523.8 L1223.5 522.9 L1224.5 521.9 L1225.5 520.8 L1226.5 520.0 L1227.5 520.4 L1228.5 521.2 L1229.5 522.2 L1230.5 522.7 L1231.5 523.6 L1232.5 524.8 L1233.5 525.5 L1234.5 526.4 L1235.5 526.8 L1236.5 527.5 L1237.5 528.8 L1238.5 529.1 L1239.5 529.8 L1240.5 529.8 L1241.5 529.3 L1242.5 529.4 L1243.5 528.3 L1244.5 527.3 L1245.5 526.2 L1246.5 524.6 L1247.5 523.7 L1248.5 522.7 L1249.5 521.6 L1250.5 520.4 L1251.5 519.2 L1252.5 520.4 L1253.5 521.7 L1254.5 522.5 L1255.5 523.3 L1256.5 524.6 L1257.5 526.9 L1258.5 528.0 L1259.5 529.3 L1260.5 531.2 L1261.5 531.9 L1262.5 532.8 L1263.5 533.6 L1264.5 534.4 L1265.5 535.2 L1266.5 536.6 L1267.5 537.0 L1268.5 537.4 L1269.5 537.5 L1270.5 538.1 L1271.5 539.6 L1272.5 538.7 L1273.5 538.6 L1274.5 539.7 L1275.5 539.9 L1276.5 540.1 L1277.5 540.3 L1278.5 540.4 L1279.5 540.9 L1280.5 540.6 L1281.5 541.1 L1282.5 540.5 L1283.5 541.3 L1284.5 541.3 L1285.5 541.2 L1286.5 541.5 L1287.5 540.3 L1288.5 539.7 L1289.5 540.6 L1290.5 541.6 L1291.5 541.5 L1292.5 542.0 L1293.5 541.4 L1294.5 540.7 L1295.5 541.4 L1296.5 541.3 L1297.5 540.8 L1298.5 541.6 L1299.5 542.1 L1300.5 542.0 L1301.5 542.1 L1302.5 542.3 L1303.5 542.2 L1304.5 541.9 L1305.5 542.0 L1306.5 541.8 L1307.5 541.6 L1308.5 541.5 L1309.5 541.6 L1310.5 540.9 L1311.5 540.2 L1312.5 540.6 L1313.5 540.8 L1314.5 540.7 L1315.5 539.5 L1316.5 538.9 L1317.5 539.8 L1318.5 539.4 L1319.5 539.3 L1320.5 538.7 L1321.5 538.5 L1322.5 537.7 L1323.5 537.1 L1324.5 536.9 L1325.5 536.9 L1326.5 536.4 L1327.5 536.1 L1328.5 535.3 L1329.5 534.4 L1330.5 532.1 L1331.5 530.1 L1332.5 528.4 L1333.5 526.7 L1334.5 524.9 L1335.5 523.2 L1336.5 522.0 L1337.5 520.0 L1338.5 518.6 L1339.5 516.7 L1340.5 515.6 L1341.5 514.9 L1342.5 514.3 L1343.5 514.0 L1344.5 514.7 L1345.5 515.9 L1346.5 517.8 L1347.5 519.1 L1348.5 521.2 L1349.5 523.6 L1350.5 525.2 L1351.5 526.6 L1352.5 527.4 L1353.5 528.1 L1354.5 528.7 L1355.5 529.5 L1356.5 530.5 L1357.5 531.0 L1358.5 531.3 L1359.5 531.0 L1360.5 532.3 L1361.5 532.8 L1362.5 533.1 L1363.5 533.0 L1364.5 533.2 L1365.5 534.0 L1366.5 535.3 L1367.5 535.6 L1368.5 536.0 L1369.5 537.2 L1370.5 537.7 L1371.5 537.5 L1372.5 539.3 L1373.5 540.2 L1374.5 540.5 L1375.5 541.0 L1376.5 541.9 L1377.5 541.4 L1378.5 541.7 L1379.5 541.9 L1380.5 542.3 L1381.5 542.6 L1382.5 542.2 L1383.5 542.7 L1384.5 541.4 L1385.5 541.5 L1386.5 543.1 L1387.5 541.7 L1388.5 542.5 L1389.5 543.3 L1390.5 543.3 L1391.5 542.7 L1392.5 541.7 L1393.5 543.1 L1394.5 543.1 L1395.5 543.5 L1396.5 543.6 L1397.5 543.5 L1398.5 543.8 L1399.5 543.4 L1400.5 544.0 L1401.5 543.3 L1402.5 543.8 L1403.5 544.0 L1404.5 543.9 L1405.5 543.4 L1406.5 543.7 L1407.5 544.0 L1408.5 543.7 L1409.5 542.4 L1410.5 542.7 L1411.5 543.6 L1412.5 544.0 L1413.5 543.7 L1414.5 543.4 L1415.5 544.3 L1416.5 543.9 L1417.5 544.0 L1418.5 544.1 L1419.5 544.4 L1420.5 544.3 L1421.5 544.0 L1422.5 543.7 L1423.5 543.9 L1424.5 544.3 L1425.5 543.2 L1426.5 543.7 L1427.5 543.1 L1428.5 542.7 L1429.5 543.6 L1430.5 543.9 L1431.5 543.5 L1432.5 544.1 L1433.5 544.0 L1434.5 543.6 L1435.5 544.0 L1436.5 543.4 L1437.5 543.9 L1438.5 543.5 L1439.5 543.4 L1440.5 543.5 L1441.5 543.2 L1442.5 543.5 L1443.5 543.3 L1444.5 542.7 L1445.5 542.5 L1446.5 542.7 L1447.5 542.4 L1448.5 543.0 L1449.5 542.8 L1450.5 542.8 L1451.5 542.1 L1452.5 542.6 L1453.5 542.3 L1454.5 542.1 L1455.5 541.8 L1456.5 541.8 L1457.5 541.2 L1458.5 540.9 L1459.5 540.9 L1460.5 541.3 L1461.5 541.4 L1462.5 540.8 L1463.5 540.3 L1464.5 540.6 L1465.5 540.5 L1466.5 539.5 L1467.5 539.0 L1468.5 538.7 L1469.5 537.6 L1470.5 536.8 L1471.5 535.5 L1472.5 534.7 L1473.5 533.6 L1474.5 532.6 L1475.5 531.6 L1476.5 530.6 L1477.5 530.5 L1478.5 530.0 L1479.5 528.9 L1480.5 527.8 L1481.5 527.2 L1482.5 526.7 L1483.5 525.7 L1484.5 525.0 L1485.5 525.6 L1486.5 526.2 L1487.5 526.7 L1488.5 526.8 L1489.5 527.2 L1490.5 528.6 L1491.5 529.8 L1492.5 530.3 L1493.5 531.4 L1494.5 532.9 L1495.5 534.1 L1496.5 534.9 L1497.5 535.7 L1498.5 536.5 L1499.5 537.1 L1500.5 537.4 L1501.5 538.6 L1502.5 539.8 L1503.5 540.4 L1504.5 541.0 L1505.5 541.6 L1506.5 541.5 L1507.5 541.4 L1508.5 541.8 L1509.5 542.2 L1510.5 542.6 L1511.5 542.9 L1512.5 543.1 L1513.5 543.7 L1514.5 544.2 L1515.5 543.9 L1516.5 543.4 L1517.5 544.4 L1518.5 545.0 L1519.5 545.2 L1520.5 545.6 L1521.5 545.6 L1522.5 544.7 L1523.5 544.6 L1524.5 545.3 L1525.5 545.5 L1526.5 546.1 L1527.5 546.0 L1528.5 545.3 L1529.5 545.2 L1530.5 546.2 L1531.5 546.3 L1532.5 545.8 L1533.5 546.2 L1534.5 546.2 L1535.5 545.9 L1536.5 546.6 L1537.5 547.1 L1538.5 547.0 L1539.5 547.4 L1540.5 547.2 L1541.5 546.9 L1542.5 546.5 L1543.5 546.4 L1544.5 547.7 L1545.5 546.7 L1546.5 547.1 L1547.5 547.8 L1548.5 547.8 L1549.5 547.6 L1550.5 547.7 L1551.5 547.7 L1552.5 548.0 L1553.5 547.8 L1554.5 547.8 L1555.5 547.8 L1556.5 547.9 L1557.5 547.9 L1558.5 548.3 L1559.5 548.2 L1560.5 548.3 L1561.5 548.3 L1562.5 548.1 L1563.5 547.6 L1564.5 547.1 L1565.5 547.5 L1566.5 548.0 L1567.5 548.3 L1568.5 548.4 L1569.5 548.0 L1570.5 547.5 L1571.5 547.0 L1572.5 547.2 L1573.5 547.4 L1574.5 546.6 L1575.5 547.0 L1576.5 548.4 L1577.5 548.8 L1578.5 548.6 L1579.5 548.8 L1580.5 547.9 L1581.5 548.7 L1582.5 549.0 L1583.5 548.1 L1584.5 548.3 L1585.5 548.8 L1586.5 548.5 L1587.5 548.5 L1588.5 548.7 L1589.5 549.2 L1590.5 549.0 L1591.5 548.9 L1592.5 549.2 L1593.5 548.5 L1594.5 548.9 L1595.5 549.1 L1596.5 549.3 L1597.5 549.3 L1598.5 549.0 L1599.5 549.3 L1600.5 548.8 L1601.5 549.3 L1602.5 548.5 L1603.5 548.2 L1604.5 548.2 L1605.5 548.6 L1606.5 548.5 L1607.5 548.5 L1608.5 548.8 L1609.5 548.1 L1610.5 547.8 L1611.5 548.1 L1612.5 548.0 L1613.5 548.9 L1614.5 549.7 L1615.5 549.2 L1616.5 549.1 L1617.5 549.4 L1618.5 549.1 L1619.5 548.9 L1619.5 554.2 L1618.5 553.5 L1617.5 553.4 L1616.5 554.3 L1615.5 554.4 L1614.5 553.8 L1613.5 553.5 L1612.5 553.4 L1611.5 553.6 L1610.5 554.2 L1609.5 553.4 L1608.5 553.4 L1607.5 553.5 L1606.5 553.6 L1605.5 553.3 L1604.5 553.4 L1603.5 553.1 L1602.5 553.0 L1601.5 552.9 L1600.5 553.2 L1599.5 553.1 L1598.5 553.2 L1597.5 553.2 L1596.5 553.3 L1595.5 553.7 L1594.5 553.3 L1593.5 553.2 L1592.5 552.7 L1591.5 552.8 L1590.5 553.2 L1589.5 553.3 L1588.5 553.3 L1587.5 553.9 L1586.5 553.8 L1585.5 553.2 L1584.5 553.4 L1583.5 553.6 L1582.5 553.2 L1581.5 553.4 L1580.5 553.5 L1579.5 552.8 L1578.5 552.8 L1577.5 552.6 L1576.5 553.0 L1575.5 553.3 L1574.5 552.4 L1573.5 552.8 L1572.5 553.2 L1571.5 553.0 L1570.5 552.6 L1569.5 552.2 L1568.5 552.6 L1567.5 552.4 L1566.5 552.9 L1565.5 552.5 L1564.5 552.9 L1563.5 552.6 L1562.5 552.2 L1561.5 551.8 L1560.5 552.4 L1559.5 552.5 L1558.5 551.9 L1557.5 552.0 L1556.5 552.1 L1555.5 552.6 L1554.5 552.3 L1553.5 552.0 L1552.5 551.7 L1551.5 551.7 L1550.5 551.9 L1549.5 552.6 L1548.5 551.9 L1547.5 551.2 L1546.5 551.6 L1545.5 551.6 L1544.5 551.7 L1543.5 551.9 L1542.5 551.7 L1541.5 551.9 L1540.5 551.2 L1539.5 551.8 L1538.5 552.0 L1537.5 551.2 L1536.5 551.2 L1535.5 551.4 L1534.5 551.1 L1533.5 550.9 L1532.5 551.0 L1531.5 551.3 L1530.5 550.6 L1529.5 550.1 L1528.5 550.2 L1527.5 550.0 L1526.5 550.8 L1525.5 550.7 L1524.5 550.2 L1523.5 550.1 L1522.5 549.9 L1521.5 549.3 L1520.5 549.4 L1519.5 548.9 L1518.5 549.1 L1517.5 548.8 L1516.5 548.4 L1515.5 548.3 L1514.5 548.0 L1513.5 547.7 L1512.5 547.8 L1511.5 547.6 L1510.5 546.9 L1509.5 547.1 L1508.5 546.9 L1507.5 546.1 L1506.5 546.3 L1505.5 546.3 L1504.5 544.7 L1503.5 544.8 L1502.5 543.7 L1501.5 542.6 L1500.5 541.9 L1499.5 541.3 L1498.5 540.7 L1497.5 539.4 L1496.5 539.3 L1495.5 538.7 L1494.5 537.3 L1493.5 536.1 L1492.5 535.3 L1491.5 534.0 L1490.5 533.4 L1489.5 532.0 L1488.5 531.2 L1487.5 530.8 L1486.5 529.9 L1485.5 530.1 L1484.5 529.9 L1483.5 530.3 L1482.5 530.6 L1481.5 531.7 L1480.5 531.9 L1479.5 532.7 L1478.5 534.2 L1477.5 534.8 L1476.5 535.3 L1475.5 536.4 L1474.5 537.0 L1473.5 537.6 L1472.5 538.8 L1471.5 540.3 L1470.5 541.5 L1469.5 542.5 L1468.5 543.0 L1467.5 543.2 L1466.5 543.8 L1465.5 544.1 L1464.5 545.6 L1463.5 546.7 L1462.5 546.2 L1461.5 545.7 L1460.5 546.2 L1459.5 545.8 L1458.5 545.8 L1457.5 546.2 L1456.5 546.0 L1455.5 546.1 L1454.5 546.2 L1453.5 546.6 L1452.5 547.2 L1451.5 547.1 L1450.5 546.5 L1449.5 546.8 L1448.5 546.5 L1447.5 546.7 L1446.5 546.7 L1445.5 547.3 L1444.5 547.5 L1443.5 547.0 L1442.5 547.4 L1441.5 547.4 L1440.5 547.5 L1439.5 547.9 L1438.5 548.0 L1437.5 547.9 L1436.5 547.5 L1435.5 547.6 L1434.5 547.8 L1433.5 547.8 L1432.5 548.7 L1431.5 548.4 L1430.5 548.0 L1429.5 548.7 L1428.5 549.1 L1427.5 548.9 L1426.5 548.0 L1425.5 549.4 L1424.5 549.9 L1423.5 548.9 L1422.5 548.4 L1421.5 547.9 L1420.5 548.0 L1419.5 547.9 L1418.5 547.9 L1417.5 548.4 L1416.5 548.4 L1415.5 547.9 L1414.5 548.8 L1413.5 549.2 L1412.5 549.0 L1411.5 547.9 L1410.5 548.7 L1409.5 547.9 L1408.5 547.7 L1407.5 548.4 L1406.5 547.7 L1405.5 548.7 L1404.5 549.0 L1403.5 548.2 L1402.5 547.6 L1401.5 548.5 L1400.5 548.3 L1399.5 547.5 L1398.5 547.9 L1397.5 547.4 L1396.5 547.4 L1395.5 548.5 L1394.5 548.7 L1393.5 547.8 L1392.5 547.6 L1391.5 547.6 L1390.5 547.1 L1389.5 546.8 L1388.5 547.1 L1387.5 548.0 L1386.5 548.5 L1385.5 547.8 L1384.5 546.9 L1383.5 546.7 L1382.5 546.7 L1381.5 546.5 L1380.5 546.7 L1379.5 546.2 L1378.5 546.4 L1377.5 545.9 L1376.5 545.5 L1375.5 545.5 L1374.5 544.7 L1373.5 544.5 L1372.5 544.3 L1371.5 542.9 L1370.5 542.5 L1369.5 542.3 L1368.5 541.0 L1367.5 539.6 L1366.5 539.0 L1365.5 538.6 L1364.5 537.9 L1363.5 537.5 L1362.5 537.5 L1361.5 537.3 L1360.5 536.3 L1359.5 535.6 L1358.5 535.2 L1357.5 534.6 L1356.5 534.2 L1355.5 533.8 L1354.5 533.4 L1353.5 532.6 L1352.5 531.8 L1351.5 531.0 L1350.5 529.3 L1349.5 527.6 L1348.5 526.0 L1347.5 524.3 L1346.5 522.2 L1345.5 519.9 L1344.5 518.7 L1343.5 518.2 L1342.5 518.2 L1341.5 518.9 L1340.5 519.5 L1339.5 521.4 L1338.5 522.7 L1337.5 524.0 L1336.5 525.9 L1335.5 527.3 L1334.5 529.0 L1333.5 531.2 L1332.5 532.7 L1331.5 534.7 L1330.5 536.7 L1329.5 537.9 L1328.5 539.6 L1327.5 539.6 L1326.5 541.0 L1325.5 540.6 L1324.5 542.0 L1323.5 542.1 L1322.5 542.0 L1321.5 542.7 L1320.5 543.0 L1319.5 542.9 L1318.5 543.7 L1317.5 543.7 L1316.5 544.9 L1315.5 544.3 L1314.5 544.4 L1313.5 545.1 L1312.5 545.4 L1311.5 545.0 L1310.5 545.1 L1309.5 545.5 L1308.5 545.6 L1307.5 545.8 L1306.5 546.5 L1305.5 547.5 L1304.5 547.6 L1303.5 546.1 L1302.5 546.0 L1301.5 546.0 L1300.5 546.6 L1299.5 546.0 L1298.5 546.1 L1297.5 546.2 L1296.5 546.1 L1295.5 546.4 L1294.5 546.5 L1293.5 546.0 L1292.5 545.6 L1291.5 545.9 L1290.5 545.5 L1289.5 545.8 L1288.5 545.8 L1287.5 545.5 L1286.5 545.3 L1285.5 545.8 L1284.5 545.8 L1283.5 545.8 L1282.5 546.0 L1281.5 545.5 L1280.5 544.9 L1279.5 544.4 L1278.5 544.3 L1277.5 544.1 L1276.5 544.6 L1275.5 544.9 L1274.5 544.8 L1273.5 544.2 L1272.5 543.4 L1271.5 543.6 L1270.5 542.8 L1269.5 542.5 L1268.5 541.8 L1267.5 541.3 L1266.5 540.3 L1265.5 539.9 L1264.5 538.5 L1263.5 538.1 L1262.5 536.6 L1261.5 536.3 L1260.5 535.2 L1259.5 533.6 L1258.5 532.2 L1257.5 530.6 L1256.5 529.1 L1255.5 527.9 L1254.5 526.9 L1253.5 525.8 L1252.5 524.5 L1251.5 525.0 L1250.5 525.2 L1249.5 525.3 L1248.5 526.5 L1247.5 527.9 L1246.5 529.2 L1245.5 530.1 L1244.5 532.2 L1243.5 533.2 L1242.5 533.4 L1241.5 534.1 L1240.5 534.2 L1239.5 533.7 L1238.5 533.6 L1237.5 533.1 L1236.5 531.9 L1235.5 530.9 L1234.5 530.0 L1233.5 529.3 L1232.5 528.6 L1231.5 527.9 L1230.5 527.0 L1229.5 525.6 L1228.5 524.9 L1227.5 524.4 L1226.5 524.9 L1225.5 525.3 L1224.5 525.6 L1223.5 526.7 L1222.5 527.7 L1221.5 529.5 L1220.5 530.9 L1219.5 531.6 L1218.5 533.1 L1217.5 534.4 L1216.5 536.2 L1215.5 538.1 L1214.5 539.9 L1213.5 541.5 L1212.5 542.4 L1211.5 543.1 L1210.5 543.2 L1209.5 544.1 L1208.5 544.0 L1207.5 543.6 L1206.5 544.0 L1205.5 544.1 L1204.5 544.1 L1203.5 544.7 L1202.5 544.5 L1201.5 544.9 L1200.5 545.3 L1199.5 544.3 L1198.5 544.5 L1197.5 544.9 L1196.5 544.9 L1195.5 544.9 L1194.5 544.6 L1193.5 545.5 L1192.5 545.3 L1191.5 544.8 L1190.5 545.2 L1189.5 544.8 L1188.5 545.1 L1187.5 545.5 L1186.5 544.7 L1185.5 544.9 L1184.5 544.6 L1183.5 544.9 L1182.5 544.8 L1181.5 544.4 L1180.5 545.3 L1179.5 546.1 L1178.5 545.0 L1177.5 544.6 L1176.5 544.5 L1175.5 544.6 L1174.5 545.0 L1173.5 544.9 L1172.5 544.9 L1171.5 544.7 L1170.5 544.5 L1169.5 544.5 L1168.5 544.1 L1167.5 543.6 L1166.5 543.5 L1165.5 543.6 L1164.5 543.7 L1163.5 543.3 L1162.5 543.9 L1161.5 543.2 L1160.5 543.6 L1159.5 543.4 L1158.5 543.2 L1157.5 543.2 L1156.5 543.5 L1155.5 543.6 L1154.5 542.7 L1153.5 542.8 L1152.5 542.5 L1151.5 542.0 L1150.5 541.9 L1149.5 542.1 L1148.5 541.7 L1147.5 542.3 L1146.5 540.9 L1145.5 541.1 L1144.5 540.1 L1143.5 540.1 L1142.5 539.7 L1141.5 539.1 L1140.5 539.2 L1139.5 538.5 L1138.5 538.1 L1137.5 537.5 L1136.5 536.2 L1135.5 535.3 L1134.5 534.2 L1133.5 533.2 L1132.5 532.0 L1131.5 530.8 L1130.5 529.6 L1129.5 528.2 L1128.5 527.1 L1127.5 525.9 L1126.5 524.8 L1125.5 524.0 L1124.5 522.8 L1123.5 521.4 L1122.5 520.6 L1121.5 519.1 L1120.5 517.2 L1119.5 515.2 L1118.5 512.9 L1117.5 510.3 L1116.5 506.6 L1115.5 503.0 L1114.5 499.7 L1113.5 497.4 L1112.5 495.6 L1111.5 495.9 L1110.5 495.8 L1109.5 496.8 L1108.5 498.5 L1107.5 500.2 L1106.5 502.2 L1105.5 504.8 L1104.5 507.3 L1103.5 509.8 L1102.5 512.3 L1101.5 514.3 L1100.5 516.3 L1099.5 518.1 L1098.5 519.3 L1097.5 521.0 L1096.5 522.7 L1095.5 524.1 L1094.5 525.8 L1093.5 527.5 L1092.5 529.0 L1091.5 530.2 L1090.5 531.5 L1089.5 533.3 L1088.5 534.8 L1087.5 535.6 L1086.5 537.2 L1085.5 538.7 L1084.5 540.2 L1083.5 540.7 L1082.5 540.9 L1081.5 542.0 L1080.5 542.5 L1079.5 543.0 L1078.5 543.6 L1077.5 542.3 L1076.5 542.4 L1075.5 543.1 L1074.5 543.4 L1073.5 542.8 L1072.5 542.7 L1071.5 542.8 L1070.5 542.5 L1069.5 542.7 L1068.5 542.7 L1067.5 543.3 L1066.5 543.1 L1065.5 542.8 L1064.5 542.9 L1063.5 543.1 L1062.5 543.3 L1061.5 543.4 L1060.5 543.4 L1059.5 543.4 L1058.5 543.1 L1057.5 543.3 L1056.5 543.2 L1055.5 543.1 L1054.5 543.9 L1053.5 544.3 L1052.5 543.8 L1051.5 543.8 L1050.5 543.5 L1049.5 543.4 L1048.5 544.0 L1047.5 543.9 L1046.5 543.0 L1045.5 543.7 L1044.5 543.3 L1043.5 543.0 L1042.5 543.3 L1041.5 542.9 L1040.5 543.1 L1039.5 543.1 L1038.5 543.0 L1037.5 543.0 L1036.5 542.5 L1035.5 542.7 L1034.5 542.5 L1033.5 542.9 L1032.5 543.1 L1031.5 543.2 L1030.5 542.7 L1029.5 542.0 L1028.5 542.1 L1027.5 542.1 L1026.5 541.9 L1025.5 541.7 L1024.5 542.2 L1023.5 542.6 L1022.5 542.9 L1021.5 542.2 L1020.5 541.3 L1019.5 541.8 L1018.5 542.9 L1017.5 542.6 L1016.5 541.3 L1015.5 541.3 L1014.5 541.2 L1013.5 540.6 L1012.5 540.4 L1011.5 541.4 L1010.5 541.5 L1009.5 540.2 L1008.5 540.3 L1007.5 540.3 L1006.5 539.7 L1005.5 539.0 L1004.5 539.1 L1003.5 539.7 L1002.5 538.1 L1001.5 537.3 L1000.5 537.0 L999.5 536.4 L998.5 537.0 L997.5 536.0 L996.5 535.4 L995.5 534.8 L994.5 534.7 L993.5 534.4 L992.5 534.0 L991.5 533.6 L990.5 533.3 L989.5 533.4 L988.5 533.5 L987.5 533.0 L986.5 531.9 L985.5 531.7 L984.5 531.2 L983.5 530.3 L982.5 529.1 L981.5 527.1 L980.5 526.2 L979.5 524.0 L978.5 520.8 L977.5 517.9 L976.5 514.3 L975.5 508.4 L974.5 500.7 L973.5 492.6 L972.5 486.1 L971.5 481.8 L970.5 477.8 L969.5 474.6 L968.5 472.9 L967.5 472.8 L966.5 472.2 L965.5 473.8 L964.5 476.8 L963.5 479.7 L962.5 482.1 L961.5 484.8 L960.5 488.6 L959.5 491.7 L958.5 493.4 L957.5 493.2 L956.5 491.0 L955.5 487.8 L954.5 484.8 L953.5 481.8 L952.5 479.2 L951.5 476.6 L950.5 474.4 L949.5 472.2 L948.5 472.5 L947.5 473.2 L946.5 475.1 L945.5 478.2 L944.5 482.0 L943.5 485.9 L942.5 490.0 L941.5 494.0 L940.5 497.0 L939.5 500.1 L938.5 503.8 L937.5 507.5 L936.5 511.2 L935.5 514.8 L934.5 517.9 L933.5 521.0 L932.5 524.2 L931.5 526.8 L930.5 529.3 L929.5 532.1 L928.5 534.5 L927.5 536.6 L926.5 538.7 L925.5 539.0 L924.5 539.3 L923.5 539.7 L922.5 539.6 L921.5 540.1 L920.5 540.5 L919.5 541.4 L918.5 540.8 L917.5 542.1 L916.5 542.1 L915.5 541.7 L914.5 541.7 L913.5 542.0 L912.5 541.8 L911.5 541.9 L910.5 542.1 L909.5 542.9 L908.5 543.2 L907.5 543.0 L906.5 542.0 L905.5 542.3 L904.5 542.8 L903.5 542.2 L902.5 541.8 L901.5 541.8 L900.5 542.1 L899.5 542.6 L898.5 541.9 L897.5 542.5 L896.5 542.4 L895.5 541.7 L894.5 542.3 L893.5 542.5 L892.5 542.0 L891.5 541.9 L890.5 542.1 L889.5 542.3 L888.5 542.0 L887.5 542.4 L886.5 542.7 L885.5 541.7 L884.5 542.4 L883.5 541.9 L882.5 541.9 L881.5 542.5 L880.5 542.0 L879.5 541.2 L878.5 541.1 L877.5 540.7 L876.5 541.0 L875.5 540.6 L874.5 540.3 L873.5 540.1 L872.5 539.7 L871.5 539.7 L870.5 538.7 L869.5 538.2 L868.5 537.9 L867.5 537.5 L866.5 537.9 L865.5 537.4 L864.5 536.1 L863.5 534.9 L862.5 533.9 L861.5 532.4 L860.5 530.7 L859.5 529.5 L858.5 528.2 L857.5 526.1 L856.5 524.8 L855.5 523.5 L854.5 521.9 L853.5 520.8 L852.5 519.9 L851.5 518.9 L850.5 517.9 L849.5 517.1 L848.5 515.5 L847.5 513.5 L846.5 511.3 L845.5 507.9 L844.5 500.9 L843.5 492.4 L842.5 482.6 L841.5 469.7 L840.5 457.5 L839.5 449.6 L838.5 442.4 L837.5 437.1 L836.5 435.4 L835.5 439.7 L834.5 449.0 L833.5 459.3 L832.5 468.4 L831.5 477.9 L830.5 487.3 L829.5 495.7 L828.5 501.8 L827.5 507.6 L826.5 512.6 L825.5 516.5 L824.5 519.8 L823.5 522.3 L822.5 524.2 L821.5 526.4 L820.5 527.9 L819.5 529.9 L818.5 531.6 L817.5 532.8 L816.5 533.5 L815.5 533.8 L814.5 533.7 L813.5 534.2 L812.5 535.0 L811.5 535.2 L810.5 536.0 L809.5 536.7 L808.5 536.4 L807.5 537.3 L806.5 537.5 L805.5 537.4 L804.5 537.8 L803.5 538.7 L802.5 539.2 L801.5 539.5 L800.5 539.5 L799.5 539.5 L798.5 539.3 L797.5 540.1 L796.5 540.3 L795.5 540.0 L794.5 541.1 L793.5 541.0 L792.5 541.0 L791.5 541.0 L790.5 541.2 L789.5 541.4 L788.5 542.1 L787.5 541.7 L786.5 541.3 L785.5 541.5 L784.5 542.4 L783.5 542.1 L782.5 541.6 L781.5 542.3 L780.5 541.9 L779.5 541.4 L778.5 541.2 L777.5 541.1 L776.5 542.0 L775.5 541.2 L774.5 542.6 L773.5 541.9 L772.5 542.0 L771.5 542.7 L770.5 542.0 L769.5 541.0 L768.5 541.1 L767.5 541.0 L766.5 540.7 L765.5 540.9 L764.5 541.2 L763.5 541.7 L762.5 541.9 L761.5 541.1 L760.5 540.9 L759.5 541.7 L758.5 541.4 L757.5 540.6 L756.5 540.8 L755.5 540.4 L754.5 540.5 L753.5 541.7 L752.5 541.6 L751.5 540.8 L750.5 541.3 L749.5 541.1 L748.5 541.9 L747.5 541.0 L746.5 540.8 L745.5 541.0 L744.5 542.3 L743.5 541.6 L742.5 541.0 L741.5 541.6 L740.5 541.4 L739.5 541.5 L738.5 540.7 L737.5 541.2 L736.5 541.0 L735.5 540.7 L734.5 540.8 L733.5 540.7 L732.5 540.7 L731.5 540.6 L730.5 541.0 L729.5 540.7 L728.5 540.7 L727.5 541.2 L726.5 541.3 L725.5 541.2 L724.5 542.1 L723.5 541.7 L722.5 540.4 L721.5 540.5 L720.5 541.1 L719.5 540.6 L718.5 540.0 L717.5 539.6 L716.5 538.9 L715.5 539.1 L714.5 538.8 L713.5 538.1 L712.5 537.7 L711.5 537.7 L710.5 537.6 L709.5 536.6 L708.5 536.3 L707.5 535.7 L706.5 535.3 L705.5 535.3 L704.5 535.1 L703.5 534.3 L702.5 533.7 L701.5 533.6 L700.5 532.4 L699.5 532.4 L698.5 532.0 L697.5 531.4 L696.5 531.1 L695.5 531.0 L694.5 531.7 L693.5 532.6 L692.5 533.8 L691.5 535.3 L690.5 535.1 L689.5 536.0 L688.5 535.8 L687.5 536.3 L686.5 536.3 L685.5 536.4 L684.5 536.3 L683.5 536.8 L682.5 536.6 L681.5 536.0 L680.5 536.4 L679.5 536.2 L678.5 534.6 L677.5 534.4 L676.5 534.4 L675.5 533.0 L674.5 532.7 L673.5 531.7 L672.5 530.3 L671.5 528.7 L670.5 526.6 L669.5 524.9 L668.5 522.9 L667.5 520.4 L666.5 517.8 L665.5 515.1 L664.5 512.3 L663.5 509.5 L662.5 507.0 L661.5 504.4 L660.5 501.9 L659.5 500.1 L658.5 499.4 L657.5 498.6 L656.5 496.6 L655.5 494.2 L654.5 492.2 L653.5 488.8 L652.5 481.3 L651.5 471.8 L650.5 463.1 L649.5 457.8 L648.5 453.9 L647.5 450.7 L646.5 449.6 L645.5 452.7 L644.5 461.8 L643.5 472.4 L642.5 480.8 L641.5 489.9 L640.5 498.5 L639.5 504.0 L638.5 506.0 L637.5 506.5 L636.5 506.1 L635.5 506.3 L634.5 507.1 L633.5 507.8 L632.5 507.5 L631.5 507.1 L630.5 507.4 L629.5 507.7 L628.5 509.1 L627.5 512.2 L626.5 515.9 L625.5 519.0 L624.5 521.5 L623.5 521.8 L622.5 523.0 L621.5 523.4 L620.5 523.0 L619.5 523.4 L618.5 524.3 L617.5 523.9 L616.5 523.0 L615.5 522.5 L614.5 523.2 L613.5 523.4 L612.5 522.7 L611.5 523.4 L610.5 523.7 L609.5 523.5 L608.5 522.8 L607.5 522.9 L606.5 521.9 L605.5 520.3 L604.5 518.2 L603.5 515.9 L602.5 513.8 L601.5 512.5 L600.5 512.2 L599.5 513.8 L598.5 517.5 L597.5 521.9 L596.5 525.9 L595.5 528.4 L594.5 528.9 L593.5 530.0 L592.5 530.5 L591.5 531.3 L590.5 531.7 L589.5 531.8 L588.5 532.4 L587.5 532.2 L586.5 532.3 L585.5 532.5 L584.5 533.1 L583.5 533.7 L582.5 533.4 L581.5 532.8 L580.5 532.1 L579.5 533.2 L578.5 533.4 L577.5 532.5 L576.5 532.2 L575.5 532.2 L574.5 532.0 L573.5 532.4 L572.5 533.0 L571.5 532.7 L570.5 532.7 L569.5 533.4 L568.5 532.8 L567.5 531.6 L566.5 531.2 L565.5 530.8 L564.5 530.6 L563.5 530.2 L562.5 530.1 L561.5 529.8 L560.5 529.0 L559.5 527.7 L558.5 526.7 L557.5 525.9 L556.5 524.9 L555.5 522.7 L554.5 518.8 L553.5 514.0 L552.5 509.4 L551.5 506.1 L550.5 505.3 L549.5 506.9 L548.5 510.3 L547.5 514.5 L546.5 518.8 L545.5 522.6 L544.5 524.2 L543.5 525.9 L542.5 526.8 L541.5 527.7 L540.5 528.4 L539.5 528.3 L538.5 529.2 L537.5 528.7 L536.5 528.9 L535.5 529.1 L534.5 528.5 L533.5 528.9 L532.5 528.6 L531.5 527.5 L530.5 527.5 L529.5 526.9 L528.5 527.5 L527.5 527.9 L526.5 527.0 L525.5 526.9 L524.5 527.3 L523.5 526.3 L522.5 526.3 L521.5 526.4 L520.5 525.9 L519.5 525.6 L518.5 525.7 L517.5 525.7 L516.5 526.0 L515.5 526.2 L514.5 525.9 L513.5 525.7 L512.5 526.4 L511.5 526.9 L510.5 526.7 L509.5 526.0 L508.5 527.0 L507.5 526.5 L506.5 526.1 L505.5 526.2 L504.5 526.2 L503.5 526.8 L502.5 527.2 L501.5 527.2 L500.5 527.4 L499.5 526.6 L498.5 527.0 L497.5 526.9 L496.5 526.8 L495.5 527.5 L494.5 527.2 L493.5 527.2 L492.5 527.1 L491.5 527.0 L490.5 527.3 L489.5 527.3 L488.5 526.8 L487.5 526.8 L486.5 526.9 L485.5 527.3 L484.5 528.3 L483.5 527.7 L482.5 527.1 L481.5 527.1 L480.5 526.6 L479.5 527.3 L478.5 526.7 L477.5 526.0 L476.5 526.1 L475.5 526.3 L474.5 526.5 L473.5 525.8 L472.5 525.8 L471.5 525.8 L470.5 525.3 L469.5 525.1 L468.5 525.3 L467.5 524.5 L466.5 524.1 L465.5 524.0 L464.5 523.7 L463.5 523.1 L462.5 521.5 L461.5 520.6 L460.5 519.3 L459.5 518.1 L458.5 517.3 L457.5 516.2 L456.5 515.0 L455.5 513.9 L454.5 512.0 L453.5 510.8 L452.5 509.2 L451.5 507.7 L450.5 506.4 L449.5 506.3 L448.5 506.4 L447.5 506.1 L446.5 506.3 L445.5 507.1 L444.5 507.6 L443.5 507.8 L442.5 508.1 L441.5 508.8 L440.5 509.9 L439.5 510.1 L438.5 509.0 L437.5 509.3 L436.5 508.6 L435.5 508.1 L434.5 507.0 L433.5 505.7 L432.5 504.6 L431.5 502.0 L430.5 499.2 L429.5 495.5 L428.5 491.9 L427.5 488.6 L426.5 485.5 L425.5 481.1 L424.5 472.1 L423.5 454.4 L422.5 436.7 L421.5 416.4 L420.5 389.6 L419.5 350.2 L418.5 309.0 L417.5 274.9 L416.5 243.6 L415.5 213.0 L414.5 179.6 L413.5 138.0 L412.5 113.8 L411.5 122.8 L410.5 148.7 L409.5 181.5 L408.5 214.9 L407.5 256.1 L406.5 297.9 L405.5 338.5 L404.5 379.6 L403.5 412.7 L402.5 431.2 L401.5 443.5 L400.5 456.1 L399.5 467.8 L398.5 477.8 L397.5 486.8 L396.5 493.2 L395.5 496.5 L394.5 499.3 L393.5 501.5 L392.5 502.3 L391.5 503.2 L390.5 503.7 L389.5 504.2 L388.5 504.4 L387.5 504.7 L386.5 505.9 L385.5 505.9 L384.5 506.7 L383.5 507.0 L382.5 509.0 L381.5 510.4 L380.5 512.2 L379.5 514.5 L378.5 516.0 L377.5 516.2 L376.5 516.8 L375.5 517.5 L374.5 518.4 L373.5 519.1 L372.5 519.8 L371.5 519.2 L370.5 518.8 L369.5 519.2 L368.5 519.3 L367.5 519.2 L366.5 519.3 L365.5 519.8 L364.5 519.9 L363.5 519.8 L362.5 519.8 L361.5 519.8 L360.5 521.4 L359.5 521.9 L358.5 519.8 L357.5 520.9 L356.5 520.9 L355.5 520.3 L354.5 519.8 L353.5 520.2 L352.5 519.8 L351.5 519.6 L350.5 519.9 L349.5 520.2 L348.5 520.3 L347.5 520.9 L346.5 522.0 L345.5 521.4 L344.5 520.1 L343.5 520.3 L342.5 519.7 L341.5 520.4 L340.5 519.7 L339.5 520.2 L338.5 519.7 L337.5 520.0 L336.5 519.7 L335.5 519.9 L334.5 519.6 L333.5 519.2 L332.5 519.6 L331.5 520.1 L330.5 519.7 L329.5 520.1 L328.5 520.8 L327.5 519.7 L326.5 519.8 L325.5 520.2 L324.5 519.0 L323.5 520.2 L322.5 520.2 L321.5 519.5 L320.5 519.1 L319.5 519.6 L318.5 519.5 L317.5 519.0 L316.5 518.9 L315.5 519.8 L314.5 519.6 L313.5 518.9 L312.5 518.8 L311.5 518.8 L310.5 519.2 L309.5 518.8 L308.5 518.8 L307.5 518.9 L306.5 519.2 L305.5 519.1 L304.5 519.1 L303.5 519.1 L302.5 518.5 L301.5 518.2 L300.5 518.2 L299.5 519.0 L298.5 519.6 L297.5 518.8 L296.5 517.8 L295.5 518.9 L294.5 519.4 L293.5 518.7 L292.5 517.6 L291.5 517.7 L290.5 518.7 L289.5 518.1 L288.5 518.7 L287.5 518.3 L286.5 517.8 L285.5 518.2 L284.5 518.8 L283.5 519.2 L282.5 518.6 L281.5 518.5 L280.5 519.0 L279.5 518.0 L278.5 519.2 L277.5 518.5 L276.5 518.7 L275.5 519.8 L274.5 519.1 L273.5 518.7 L272.5 519.9 L271.5 518.8 L270.5 518.1 L269.5 518.8 L268.5 517.8 L267.5 519.8 L266.5 519.5 L265.5 517.9 L264.5 519.4 L263.5 517.3 L262.5 518.7 L261.5 518.5 L260.5 517.3 L259.5 517.2 L258.5 517.1 L257.5 517.3 L256.5 517.7 L255.5 516.7 L254.5 517.3 L253.5 516.9 L252.5 517.1 L251.5 517.4 L250.5 517.1 L249.5 516.7 L248.5 517.9 L247.5 516.5 L246.5 515.5 L245.5 515.3 L244.5 515.8 L243.5 516.8 L242.5 517.1 L241.5 516.6 L240.5 516.4 L239.5 515.6 L238.5 514.9 L237.5 514.5 L236.5 514.4 L235.5 515.2 L234.5 514.8 L233.5 513.8 L232.5 514.3 L231.5 514.2 L230.5 512.9 L229.5 513.1 L228.5 512.2 L227.5 512.3 L226.5 512.8 L225.5 512.7 L224.5 511.9 L223.5 511.3 L222.5 511.7 L221.5 512.3 L220.5 511.4 L219.5 510.9 L218.5 510.4 L217.5 510.4 L216.5 510.9 L215.5 509.9 L214.5 509.2 L213.5 509.0 L212.5 508.5 L211.5 508.0 L210.5 508.5 L209.5 508.5 L208.5 507.7 L207.5 506.5 L206.5 506.9 L205.5 506.3 L204.5 507.0 L203.5 506.4 L202.5 505.6 L201.5 505.7 L200.5 504.8 L199.5 506.7 L198.5 506.3 L197.5 504.1 L196.5 505.2 L195.5 505.5 L194.5 504.0 L193.5 504.5 L192.5 505.0 L191.5 504.8 L190.5 503.5 L189.5 505.1 L188.5 504.4 L187.5 503.9 L186.5 502.9 L185.5 503.7 L184.5 504.8 L183.5 505.1 L182.5 504.7 L181.5 502.7 L180.5 502.9 L179.5 503.8 L178.5 503.4 L177.5 502.2 L176.5 501.2 L175.5 500.9 L174.5 501.0 L173.5 500.8 L172.5 500.6 L171.5 501.2 L170.5 500.3 L169.5 501.5 L168.5 499.9 L167.5 498.9 L166.5 498.7 L165.5 499.7 L164.5 501.2 L163.5 500.8 L162.5 500.6 L161.5 499.5 L160.5 498.0 L159.5 498.1 L158.5 496.6 L157.5 496.8 L156.5 496.0 L155.5 497.5 L154.5 498.8 L153.5 497.2 L152.5 495.2 L151.5 493.9 L150.5 493.8 L149.5 493.5 L148.5 492.6 L147.5 492.2 L146.5 491.5 L145.5 492.1 L144.5 491.7 L143.5 491.0 L142.5 490.6 L141.5 489.6 L140.5 489.7 L139.5 489.4 L138.5 489.1 L137.5 489.9 L136.5 490.3 L135.5 489.9 L134.5 490.1 L133.5 490.2 L132.5 489.0 L131.5 487.1 L130.5 486.9 L129.5 487.0 L128.5 486.8 L127.5 486.2 L126.5 486.0 L125.5 485.6 L124.5 485.1 L123.5 484.9Z" fill="#000"/><path d="M123.5 483.0 L124.5 483.2 L125.5 483.4 L126.5 483.6 L127.5 483.8 L128.5 484.0 L129.5 484.3 L130.5 484.5 L131.5 484.8 L132.5 485.0 L133.5 485.3 L134.5 485.6 L135.5 485.8 L136.5 486.1 L137.5 486.4 L138.5 486.7 L139.5 487.0 L140.5 487.4 L141.5 487.7 L142.5 488.1 L143.5 488.5 L144.5 488.9 L145.5 489.3 L146.5 489.7 L147.5 490.2 L148.5 490.6 L149.5 491.0 L150.5 491.5 L151.5 491.9 L152.5 492.3 L153.5 492.8 L154.5 493.2 L155.5 493.5 L156.5 493.9 L157.5 494.2 L158.5 494.6 L159.5 494.9 L160.5 495.2 L161.5 495.5 L162.5 495.7 L163.5 496.0 L164.5 496.3 L165.5 496.6 L166.5 496.8 L167.5 497.1 L168.5 497.3 L169.5 497.6 L170.5 497.8 L171.5 498.1 L172.5 498.3 L173.5 498.5 L174.5 498.7 L175.5 498.9 L176.5 499.1 L177.5 499.3 L178.5 499.5 L179.5 499.7 L180.5 499.8 L181.5 500.0 L182.5 500.1 L183.5 500.3 L184.5 500.4 L185.5 500.6 L186.5 500.7 L187.5 500.8 L188.5 500.9 L189.5 501.1 L190.5 501.2 L191.5 501.4 L192.5 501.5 L193.5 501.7 L194.5 501.8 L195.5 502.0 L196.5 502.2 L197.5 502.4 L198.5 502.6 L199.5 502.8 L200.5 503.0 L201.5 503.3 L202.5 503.5 L203.5 503.8 L204.5 504.0 L205.5 504.3 L206.5 504.5 L207.5 504.8 L208.5 505.1 L209.5 505.4 L210.5 505.6 L211.5 505.9 L212.5 506.2 L213.5 506.4 L214.5 506.7 L215.5 506.9 L216.5 507.2 L217.5 507.5 L218.5 507.7 L219.5 508.0 L220.5 508.3 L221.5 508.5 L222.5 508.8 L223.5 509.1 L224.5 509.4 L225.5 509.6 L226.5 509.9 L227.5 510.2 L228.5 510.4 L229.5 510.7 L230.5 510.9 L231.5 511.1 L232.5 511.3 L233.5 511.5 L234.5 511.7 L235.5 511.9 L236.5 512.1 L237.5 512.3 L238.5 512.5 L239.5 512.6 L240.5 512.8 L241.5 513.0 L242.5 513.1 L243.5 513.3 L244.5 513.4 L245.5 513.6 L246.5 513.7 L247.5 513.9 L248.5 514.0 L249.5 514.1 L250.5 514.2 L251.5 514.3 L252.5 514.5 L253.5 514.6 L254.5 514.6 L255.5 514.7 L256.5 514.8 L257.5 514.9 L258.5 515.0 L259.5 515.1 L260.5 515.2 L261.5 515.3 L262.5 515.4 L263.5 515.5 L264.5 515.6 L265.5 515.6 L266.5 515.7 L267.5 515.8 L268.5 515.9 L269.5 515.9 L270.5 516.0 L271.5 516.0 L272.5 516.1 L273.5 516.1 L274.5 516.2 L275.5 516.2 L276.5 516.2 L277.5 516.2 L278.5 516.2 L279.5 516.2 L280.5 516.2 L281.5 516.1 L282.5 516.1 L283.5 516.1 L284.5 516.0 L285.5 516.0 L286.5 516.0 L287.5 515.9 L288.5 515.9 L289.5 515.9 L290.5 515.9 L291.5 515.9 L292.5 515.9 L293.5 515.9 L294.5 516.0 L295.5 516.0 L296.5 516.1 L297.5 516.1 L298.5 516.2 L299.5 516.2 L300.5 516.3 L301.5 516.4 L302.5 516.4 L303.5 516.5 L304.5 516.6 L305.5 516.6 L306.5 516.7 L307.5 516.8 L308.5 516.8 L309.5 516.9 L310.5 516.9 L311.5 516.9 L312.5 517.0 L313.5 517.0 L314.5 517.0 L315.5 517.0 L316.5 517.1 L317.5 517.1 L318.5 517.1 L319.5 517.1 L320.5 517.2 L321.5 517.2 L322.5 517.2 L323.5 517.2 L324.5 517.2 L325.5 517.3 L326.5 517.3 L327.5 517.3 L328.5 517.3 L329.5 517.4 L330.5 517.4 L331.5 517.4 L332.5 517.4 L333.5 517.5 L334.5 517.5 L335.5 517.5 L336.5 517.6 L337.5 517.6 L338.5 517.6 L339.5 517.7 L340.5 517.7 L341.5 517.7 L342.5 517.7 L343.5 517.8 L344.5 517.8 L345.5 517.8 L346.5 517.8 L347.5 517.9 L348.5 517.9 L349.5 517.9 L350.5 517.9 L351.5 517.9 L352.5 517.9 L353.5 517.9 L354.5 517.9 L355.5 517.9 L356.5 517.8 L357.5 517.8 L358.5 517.8 L359.5 517.8 L360.5 517.7 L361.5 517.7 L362.5 517.6 L363.5 517.6 L364.5 517.5 L365.5 517.5 L366.5 517.4 L367.5 517.3 L368.5 517.2 L369.5 517.1 L370.5 517.1 L371.5 517.0 L372.5 516.8 L373.5 516.6 L374.5 516.1 L375.5 515.6 L376.5 515.0 L377.5 514.2 L378.5 513.4 L379.5 512.1 L380.5 510.4 L381.5 508.5 L382.5 506.8 L383.5 505.3 L384.5 504.4 L385.5 503.8 L386.5 503.3 L387.5 503.0 L388.5 502.6 L389.5 502.3 L390.5 501.9 L391.5 501.3 L392.5 500.5 L393.5 499.3 L394.5 497.3 L395.5 494.7 L396.5 491.4 L397.5 485.1 L398.5 476.1 L399.5 465.9 L400.5 454.2 L401.5 441.7 L402.5 429.4 L403.5 411.0 L404.5 377.9 L405.5 336.7 L406.5 296.1 L407.5 254.4 L408.5 213.1 L409.5 179.7 L410.5 147.0 L411.5 121.1 L412.5 112.1 L413.5 136.2 L414.5 177.9 L415.5 211.2 L416.5 241.9 L417.5 273.2 L418.5 307.3 L419.5 348.5 L420.5 387.9 L421.5 414.7 L422.5 435.0 L423.5 452.7 L424.5 470.3 L425.5 479.1 L426.5 483.2 L427.5 486.3 L428.5 489.9 L429.5 493.6 L430.5 497.2 L431.5 500.2 L432.5 502.5 L433.5 503.7 L434.5 504.7 L435.5 505.5 L436.5 506.2 L437.5 506.8 L438.5 507.2 L439.5 507.4 L440.5 507.3 L441.5 507.0 L442.5 506.4 L443.5 505.8 L444.5 505.2 L445.5 504.8 L446.5 504.4 L447.5 504.0 L448.5 503.8 L449.5 503.7 L450.5 504.4 L451.5 505.7 L452.5 507.3 L453.5 508.7 L454.5 510.1 L455.5 511.5 L456.5 512.9 L457.5 514.1 L458.5 515.2 L459.5 516.3 L460.5 517.4 L461.5 518.5 L462.5 519.5 L463.5 520.4 L464.5 521.1 L465.5 521.8 L466.5 522.2 L467.5 522.5 L468.5 522.7 L469.5 522.9 L470.5 523.1 L471.5 523.3 L472.5 523.5 L473.5 523.6 L474.5 523.8 L475.5 523.9 L476.5 524.1 L477.5 524.2 L478.5 524.3 L479.5 524.4 L480.5 524.5 L481.5 524.6 L482.5 524.7 L483.5 524.8 L484.5 524.9 L485.5 524.9 L486.5 525.0 L487.5 525.0 L488.5 525.1 L489.5 525.1 L490.5 525.1 L491.5 525.1 L492.5 525.1 L493.5 525.1 L494.5 525.1 L495.5 525.0 L496.5 525.0 L497.5 524.9 L498.5 524.9 L499.5 524.8 L500.5 524.7 L501.5 524.7 L502.5 524.6 L503.5 524.5 L504.5 524.5 L505.5 524.4 L506.5 524.3 L507.5 524.2 L508.5 524.2 L509.5 524.1 L510.5 524.0 L511.5 523.9 L512.5 523.9 L513.5 523.8 L514.5 523.8 L515.5 523.8 L516.5 523.7 L517.5 523.7 L518.5 523.7 L519.5 523.7 L520.5 523.8 L521.5 523.8 L522.5 523.9 L523.5 524.1 L524.5 524.2 L525.5 524.4 L526.5 524.6 L527.5 524.8 L528.5 525.0 L529.5 525.1 L530.5 525.3 L531.5 525.5 L532.5 525.7 L533.5 525.9 L534.5 526.0 L535.5 526.2 L536.5 526.3 L537.5 526.3 L538.5 526.4 L539.5 526.4 L540.5 526.1 L541.5 525.5 L542.5 524.7 L543.5 523.7 L544.5 522.5 L545.5 520.5 L546.5 516.9 L547.5 512.6 L548.5 508.4 L549.5 505.0 L550.5 503.4 L551.5 504.3 L552.5 507.6 L553.5 512.3 L554.5 517.1 L555.5 520.9 L556.5 522.8 L557.5 523.9 L558.5 524.9 L559.5 525.8 L560.5 526.6 L561.5 527.3 L562.5 527.9 L563.5 528.4 L564.5 528.8 L565.5 529.0 L566.5 529.2 L567.5 529.3 L568.5 529.5 L569.5 529.6 L570.5 529.7 L571.5 529.8 L572.5 529.9 L573.5 529.9 L574.5 530.0 L575.5 530.1 L576.5 530.2 L577.5 530.2 L578.5 530.3 L579.5 530.3 L580.5 530.4 L581.5 530.4 L582.5 530.4 L583.5 530.5 L584.5 530.5 L585.5 530.5 L586.5 530.5 L587.5 530.5 L588.5 530.3 L589.5 530.1 L590.5 529.7 L591.5 529.2 L592.5 528.6 L593.5 527.9 L594.5 527.2 L595.5 526.3 L596.5 523.9 L597.5 519.9 L598.5 515.5 L599.5 511.8 L600.5 510.1 L601.5 510.6 L602.5 512.0 L603.5 514.1 L604.5 516.4 L605.5 518.5 L606.5 520.2 L607.5 521.0 L608.5 521.0 L609.5 521.0 L610.5 521.0 L611.5 520.9 L612.5 520.9 L613.5 520.9 L614.5 520.8 L615.5 520.7 L616.5 520.6 L617.5 520.6 L618.5 520.4 L619.5 520.3 L620.5 520.2 L621.5 520.0 L622.5 519.9 L623.5 519.7 L624.5 519.2 L625.5 517.0 L626.5 513.8 L627.5 510.2 L628.5 507.3 L629.5 505.9 L630.5 505.5 L631.5 505.2 L632.5 505.0 L633.5 504.8 L634.5 504.7 L635.5 504.5 L636.5 504.3 L637.5 504.0 L638.5 503.6 L639.5 502.3 L640.5 496.6 L641.5 488.0 L642.5 478.9 L643.5 470.5 L644.5 460.1 L645.5 451.0 L646.5 447.6 L647.5 449.0 L648.5 452.0 L649.5 455.9 L650.5 461.2 L651.5 469.9 L652.5 479.4 L653.5 486.7 L654.5 490.1 L655.5 492.4 L656.5 494.1 L657.5 495.6 L658.5 496.9 L659.5 498.4 L660.5 500.2 L661.5 502.4 L662.5 505.0 L663.5 507.7 L664.5 510.6 L665.5 513.4 L666.5 516.0 L667.5 518.3 L668.5 520.5 L669.5 522.7 L670.5 524.8 L671.5 526.8 L672.5 528.5 L673.5 529.8 L674.5 530.6 L675.5 531.3 L676.5 531.9 L677.5 532.4 L678.5 532.9 L679.5 533.3 L680.5 533.7 L681.5 534.0 L682.5 534.3 L683.5 534.5 L684.5 534.6 L685.5 534.6 L686.5 534.5 L687.5 534.3 L688.5 534.0 L689.5 533.6 L690.5 533.2 L691.5 532.7 L692.5 531.9 L693.5 530.8 L694.5 529.9 L695.5 529.3 L696.5 529.2 L697.5 529.4 L698.5 529.7 L699.5 530.1 L700.5 530.6 L701.5 531.2 L702.5 531.7 L703.5 532.3 L704.5 532.8 L705.5 533.2 L706.5 533.5 L707.5 533.9 L708.5 534.2 L709.5 534.6 L710.5 535.0 L711.5 535.3 L712.5 535.7 L713.5 536.0 L714.5 536.4 L715.5 536.7 L716.5 537.0 L717.5 537.3 L718.5 537.6 L719.5 537.9 L720.5 538.1 L721.5 538.3 L722.5 538.4 L723.5 538.6 L724.5 538.6 L725.5 538.7 L726.5 538.7 L727.5 538.7 L728.5 538.7 L729.5 538.7 L730.5 538.7 L731.5 538.7 L732.5 538.7 L733.5 538.7 L734.5 538.7 L735.5 538.7 L736.5 538.7 L737.5 538.7 L738.5 538.7 L739.5 538.7 L740.5 538.7 L741.5 538.7 L742.5 538.7 L743.5 538.7 L744.5 538.7 L745.5 538.7 L746.5 538.7 L747.5 538.7 L748.5 538.7 L749.5 538.7 L750.5 538.7 L751.5 538.7 L752.5 538.7 L753.5 538.7 L754.5 538.7 L755.5 538.7 L756.5 538.7 L757.5 538.7 L758.5 538.8 L759.5 538.8 L760.5 538.8 L761.5 538.8 L762.5 538.8 L763.5 538.9 L764.5 538.9 L765.5 538.9 L766.5 539.0 L767.5 539.0 L768.5 539.0 L769.5 539.1 L770.5 539.1 L771.5 539.1 L772.5 539.2 L773.5 539.2 L774.5 539.3 L775.5 539.3 L776.5 539.3 L777.5 539.3 L778.5 539.4 L779.5 539.4 L780.5 539.4 L781.5 539.4 L782.5 539.5 L783.5 539.5 L784.5 539.5 L785.5 539.5 L786.5 539.5 L787.5 539.5 L788.5 539.5 L789.5 539.4 L790.5 539.3 L791.5 539.1 L792.5 538.9 L793.5 538.7 L794.5 538.5 L795.5 538.3 L796.5 538.0 L797.5 537.8 L798.5 537.5 L799.5 537.2 L800.5 537.0 L801.5 536.7 L802.5 536.4 L803.5 536.2 L804.5 535.9 L805.5 535.6 L806.5 535.3 L807.5 535.0 L808.5 534.7 L809.5 534.3 L810.5 533.9 L811.5 533.5 L812.5 533.0 L813.5 532.5 L814.5 531.9 L815.5 531.3 L816.5 530.7 L817.5 529.9 L818.5 528.9 L819.5 527.6 L820.5 526.1 L821.5 524.4 L822.5 522.5 L823.5 520.3 L824.5 517.9 L825.5 514.8 L826.5 510.6 L827.5 505.6 L828.5 500.0 L829.5 493.7 L830.5 485.5 L831.5 476.1 L832.5 466.6 L833.5 457.6 L834.5 447.1 L835.5 437.9 L836.5 433.4 L837.5 435.2 L838.5 440.5 L839.5 447.6 L840.5 455.8 L841.5 468.0 L842.5 480.9 L843.5 490.6 L844.5 499.2 L845.5 506.0 L846.5 509.5 L847.5 511.7 L848.5 513.5 L849.5 514.9 L850.5 516.1 L851.5 517.1 L852.5 518.1 L853.5 519.1 L854.5 520.1 L855.5 521.3 L856.5 522.7 L857.5 524.2 L858.5 525.7 L859.5 527.3 L860.5 528.8 L861.5 530.3 L862.5 531.7 L863.5 532.9 L864.5 534.0 L865.5 534.8 L866.5 535.3 L867.5 535.8 L868.5 536.2 L869.5 536.5 L870.5 536.9 L871.5 537.3 L872.5 537.6 L873.5 537.9 L874.5 538.2 L875.5 538.5 L876.5 538.7 L877.5 539.0 L878.5 539.2 L879.5 539.4 L880.5 539.5 L881.5 539.7 L882.5 539.8 L883.5 539.9 L884.5 539.9 L885.5 540.0 L886.5 540.0 L887.5 540.0 L888.5 540.0 L889.5 540.0 L890.5 540.0 L891.5 540.0 L892.5 540.0 L893.5 540.0 L894.5 540.0 L895.5 540.0 L896.5 540.0 L897.5 540.0 L898.5 540.0 L899.5 540.0 L900.5 540.0 L901.5 540.0 L902.5 540.0 L903.5 540.0 L904.5 540.0 L905.5 540.0 L906.5 540.0 L907.5 540.0 L908.5 540.0 L909.5 540.0 L910.5 540.0 L911.5 540.0 L912.5 539.9 L913.5 539.8 L914.5 539.7 L915.5 539.6 L916.5 539.4 L917.5 539.3 L918.5 539.0 L919.5 538.8 L920.5 538.5 L921.5 538.2 L922.5 537.9 L923.5 537.6 L924.5 537.2 L925.5 536.8 L926.5 536.0 L927.5 534.6 L928.5 532.6 L929.5 530.2 L930.5 527.5 L931.5 524.7 L932.5 521.9 L933.5 519.2 L934.5 516.2 L935.5 512.9 L936.5 509.4 L937.5 505.7 L938.5 502.0 L939.5 498.4 L940.5 494.9 L941.5 491.6 L942.5 487.9 L943.5 484.0 L944.5 480.0 L945.5 476.4 L946.5 473.4 L947.5 471.1 L948.5 470.1 L949.5 470.4 L950.5 472.1 L951.5 474.6 L952.5 477.4 L953.5 480.0 L954.5 482.8 L955.5 486.1 L956.5 489.1 L957.5 491.2 L958.5 491.6 L959.5 489.8 L960.5 486.6 L961.5 483.0 L962.5 480.0 L963.5 477.3 L964.5 474.5 L965.5 471.8 L966.5 469.9 L967.5 469.2 L968.5 470.1 L969.5 472.6 L970.5 476.0 L971.5 480.0 L972.5 484.3 L973.5 490.9 L974.5 498.8 L975.5 506.5 L976.5 512.4 L977.5 515.7 L978.5 518.6 L979.5 521.1 L980.5 523.4 L981.5 525.3 L982.5 526.9 L983.5 528.2 L984.5 529.0 L985.5 529.6 L986.5 530.1 L987.5 530.6 L988.5 530.9 L989.5 531.3 L990.5 531.6 L991.5 531.8 L992.5 532.1 L993.5 532.4 L994.5 532.7 L995.5 533.0 L996.5 533.4 L997.5 533.7 L998.5 534.1 L999.5 534.6 L1000.5 535.0 L1001.5 535.4 L1002.5 535.8 L1003.5 536.2 L1004.5 536.6 L1005.5 536.9 L1006.5 537.3 L1007.5 537.6 L1008.5 537.9 L1009.5 538.1 L1010.5 538.3 L1011.5 538.5 L1012.5 538.6 L1013.5 538.8 L1014.5 538.9 L1015.5 539.0 L1016.5 539.1 L1017.5 539.2 L1018.5 539.3 L1019.5 539.4 L1020.5 539.5 L1021.5 539.6 L1022.5 539.7 L1023.5 539.8 L1024.5 539.8 L1025.5 539.9 L1026.5 540.0 L1027.5 540.1 L1028.5 540.1 L1029.5 540.2 L1030.5 540.3 L1031.5 540.3 L1032.5 540.4 L1033.5 540.5 L1034.5 540.5 L1035.5 540.6 L1036.5 540.7 L1037.5 540.7 L1038.5 540.8 L1039.5 540.9 L1040.5 540.9 L1041.5 541.0 L1042.5 541.0 L1043.5 541.1 L1044.5 541.1 L1045.5 541.2 L1046.5 541.2 L1047.5 541.3 L1048.5 541.3 L1049.5 541.3 L1050.5 541.3 L1051.5 541.3 L1052.5 541.3 L1053.5 541.3 L1054.5 541.3 L1055.5 541.3 L1056.5 541.2 L1057.5 541.2 L1058.5 541.2 L1059.5 541.2 L1060.5 541.1 L1061.5 541.1 L1062.5 541.0 L1063.5 541.0 L1064.5 540.9 L1065.5 540.9 L1066.5 540.8 L1067.5 540.7 L1068.5 540.7 L1069.5 540.6 L1070.5 540.5 L1071.5 540.4 L1072.5 540.3 L1073.5 540.2 L1074.5 540.1 L1075.5 540.0 L1076.5 539.8 L1077.5 539.7 L1078.5 539.6 L1079.5 539.4 L1080.5 539.3 L1081.5 539.1 L1082.5 538.9 L1083.5 538.4 L1084.5 537.6 L1085.5 536.5 L1086.5 535.3 L1087.5 533.9 L1088.5 532.4 L1089.5 531.1 L1090.5 529.7 L1091.5 528.4 L1092.5 527.0 L1093.5 525.5 L1094.5 523.9 L1095.5 522.3 L1096.5 520.7 L1097.5 519.1 L1098.5 517.4 L1099.5 515.7 L1100.5 514.0 L1101.5 512.2 L1102.5 510.1 L1103.5 507.8 L1104.5 505.3 L1105.5 502.8 L1106.5 500.4 L1107.5 498.2 L1108.5 496.2 L1109.5 494.7 L1110.5 493.6 L1111.5 493.1 L1112.5 493.6 L1113.5 495.3 L1114.5 497.9 L1115.5 501.1 L1116.5 504.6 L1117.5 508.0 L1118.5 511.0 L1119.5 513.3 L1120.5 515.0 L1121.5 516.6 L1122.5 518.0 L1123.5 519.4 L1124.5 520.7 L1125.5 521.9 L1126.5 523.1 L1127.5 524.2 L1128.5 525.4 L1129.5 526.5 L1130.5 527.7 L1131.5 528.9 L1132.5 530.1 L1133.5 531.3 L1134.5 532.4 L1135.5 533.5 L1136.5 534.5 L1137.5 535.3 L1138.5 536.0 L1139.5 536.5 L1140.5 536.9 L1141.5 537.3 L1142.5 537.7 L1143.5 538.0 L1144.5 538.3 L1145.5 538.6 L1146.5 538.9 L1147.5 539.2 L1148.5 539.4 L1149.5 539.7 L1150.5 539.9 L1151.5 540.1 L1152.5 540.3 L1153.5 540.5 L1154.5 540.6 L1155.5 540.8 L1156.5 540.9 L1157.5 541.1 L1158.5 541.2 L1159.5 541.3 L1160.5 541.3 L1161.5 541.4 L1162.5 541.5 L1163.5 541.6 L1164.5 541.7 L1165.5 541.7 L1166.5 541.8 L1167.5 541.9 L1168.5 542.0 L1169.5 542.0 L1170.5 542.1 L1171.5 542.1 L1172.5 542.2 L1173.5 542.3 L1174.5 542.3 L1175.5 542.4 L1176.5 542.4 L1177.5 542.5 L1178.5 542.5 L1179.5 542.6 L1180.5 542.6 L1181.5 542.6 L1182.5 542.7 L1183.5 542.7 L1184.5 542.7 L1185.5 542.7 L1186.5 542.8 L1187.5 542.8 L1188.5 542.8 L1189.5 542.8 L1190.5 542.8 L1191.5 542.8 L1192.5 542.8 L1193.5 542.8 L1194.5 542.8 L1195.5 542.7 L1196.5 542.7 L1197.5 542.7 L1198.5 542.6 L1199.5 542.6 L1200.5 542.5 L1201.5 542.4 L1202.5 542.4 L1203.5 542.3 L1204.5 542.2 L1205.5 542.1 L1206.5 542.0 L1207.5 541.8 L1208.5 541.7 L1209.5 541.6 L1210.5 541.4 L1211.5 541.3 L1212.5 540.6 L1213.5 539.5 L1214.5 538.0 L1215.5 536.2 L1216.5 534.3 L1217.5 532.6 L1218.5 531.0 L1219.5 529.8 L1220.5 528.5 L1221.5 527.2 L1222.5 525.9 L1223.5 524.7 L1224.5 523.7 L1225.5 523.0 L1226.5 522.6 L1227.5 522.7 L1228.5 523.2 L1229.5 523.9 L1230.5 524.8 L1231.5 525.8 L1232.5 526.6 L1233.5 527.4 L1234.5 528.1 L1235.5 529.0 L1236.5 529.8 L1237.5 530.6 L1238.5 531.3 L1239.5 531.8 L1240.5 532.0 L1241.5 531.9 L1242.5 531.4 L1243.5 530.6 L1244.5 529.5 L1245.5 528.3 L1246.5 527.0 L1247.5 525.7 L1248.5 524.6 L1249.5 523.6 L1250.5 522.9 L1251.5 522.6 L1252.5 522.8 L1253.5 523.4 L1254.5 524.4 L1255.5 525.7 L1256.5 527.2 L1257.5 528.8 L1258.5 530.3 L1259.5 531.8 L1260.5 533.0 L1261.5 534.0 L1262.5 534.9 L1263.5 535.8 L1264.5 536.8 L1265.5 537.7 L1266.5 538.5 L1267.5 539.3 L1268.5 540.0 L1269.5 540.6 L1270.5 541.1 L1271.5 541.4 L1272.5 541.6 L1273.5 541.8 L1274.5 541.9 L1275.5 542.1 L1276.5 542.2 L1277.5 542.4 L1278.5 542.5 L1279.5 542.6 L1280.5 542.7 L1281.5 542.9 L1282.5 543.0 L1283.5 543.1 L1284.5 543.2 L1285.5 543.3 L1286.5 543.3 L1287.5 543.4 L1288.5 543.5 L1289.5 543.6 L1290.5 543.6 L1291.5 543.7 L1292.5 543.8 L1293.5 543.8 L1294.5 543.8 L1295.5 543.9 L1296.5 543.9 L1297.5 543.9 L1298.5 544.0 L1299.5 544.0 L1300.5 544.0 L1301.5 544.0 L1302.5 544.0 L1303.5 544.0 L1304.5 544.0 L1305.5 543.9 L1306.5 543.8 L1307.5 543.7 L1308.5 543.6 L1309.5 543.5 L1310.5 543.4 L1311.5 543.2 L1312.5 543.0 L1313.5 542.8 L1314.5 542.6 L1315.5 542.3 L1316.5 542.1 L1317.5 541.8 L1318.5 541.5 L1319.5 541.1 L1320.5 540.8 L1321.5 540.4 L1322.5 540.0 L1323.5 539.6 L1324.5 539.2 L1325.5 538.8 L1326.5 538.3 L1327.5 537.8 L1328.5 537.2 L1329.5 536.1 L1330.5 534.5 L1331.5 532.6 L1332.5 530.6 L1333.5 528.6 L1334.5 526.9 L1335.5 525.4 L1336.5 523.8 L1337.5 522.1 L1338.5 520.5 L1339.5 519.0 L1340.5 517.7 L1341.5 516.7 L1342.5 516.1 L1343.5 516.0 L1344.5 516.7 L1345.5 517.9 L1346.5 519.6 L1347.5 521.5 L1348.5 523.6 L1349.5 525.6 L1350.5 527.3 L1351.5 528.6 L1352.5 529.5 L1353.5 530.3 L1354.5 531.0 L1355.5 531.6 L1356.5 532.2 L1357.5 532.8 L1358.5 533.3 L1359.5 533.8 L1360.5 534.3 L1361.5 534.7 L1362.5 535.2 L1363.5 535.7 L1364.5 536.2 L1365.5 536.7 L1366.5 537.3 L1367.5 537.9 L1368.5 538.5 L1369.5 539.3 L1370.5 540.0 L1371.5 540.8 L1372.5 541.5 L1373.5 542.2 L1374.5 542.8 L1375.5 543.4 L1376.5 543.7 L1377.5 544.0 L1378.5 544.1 L1379.5 544.2 L1380.5 544.3 L1381.5 544.4 L1382.5 544.5 L1383.5 544.6 L1384.5 544.7 L1385.5 544.8 L1386.5 544.8 L1387.5 544.9 L1388.5 545.0 L1389.5 545.1 L1390.5 545.1 L1391.5 545.2 L1392.5 545.3 L1393.5 545.3 L1394.5 545.4 L1395.5 545.4 L1396.5 545.5 L1397.5 545.6 L1398.5 545.6 L1399.5 545.6 L1400.5 545.7 L1401.5 545.7 L1402.5 545.8 L1403.5 545.8 L1404.5 545.8 L1405.5 545.9 L1406.5 545.9 L1407.5 545.9 L1408.5 546.0 L1409.5 546.0 L1410.5 546.0 L1411.5 546.0 L1412.5 546.0 L1413.5 546.1 L1414.5 546.1 L1415.5 546.1 L1416.5 546.1 L1417.5 546.1 L1418.5 546.1 L1419.5 546.1 L1420.5 546.1 L1421.5 546.1 L1422.5 546.1 L1423.5 546.1 L1424.5 546.1 L1425.5 546.1 L1426.5 546.0 L1427.5 546.0 L1428.5 546.0 L1429.5 546.0 L1430.5 546.0 L1431.5 545.9 L1432.5 545.9 L1433.5 545.8 L1434.5 545.8 L1435.5 545.8 L1436.5 545.7 L1437.5 545.7 L1438.5 545.6 L1439.5 545.5 L1440.5 545.5 L1441.5 545.4 L1442.5 545.3 L1443.5 545.3 L1444.5 545.2 L1445.5 545.1 L1446.5 545.0 L1447.5 544.9 L1448.5 544.8 L1449.5 544.7 L1450.5 544.6 L1451.5 544.5 L1452.5 544.4 L1453.5 544.3 L1454.5 544.2 L1455.5 544.1 L1456.5 543.9 L1457.5 543.8 L1458.5 543.7 L1459.5 543.5 L1460.5 543.4 L1461.5 543.3 L1462.5 543.1 L1463.5 542.9 L1464.5 542.7 L1465.5 542.4 L1466.5 541.8 L1467.5 541.2 L1468.5 540.4 L1469.5 539.6 L1470.5 538.7 L1471.5 537.7 L1472.5 536.8 L1473.5 535.8 L1474.5 534.9 L1475.5 534.1 L1476.5 533.3 L1477.5 532.6 L1478.5 531.8 L1479.5 531.0 L1480.5 530.2 L1481.5 529.4 L1482.5 528.7 L1483.5 528.2 L1484.5 527.9 L1485.5 527.8 L1486.5 528.0 L1487.5 528.5 L1488.5 529.1 L1489.5 529.9 L1490.5 530.9 L1491.5 531.9 L1492.5 533.0 L1493.5 534.0 L1494.5 535.0 L1495.5 535.9 L1496.5 536.7 L1497.5 537.5 L1498.5 538.3 L1499.5 539.1 L1500.5 540.0 L1501.5 540.8 L1502.5 541.5 L1503.5 542.2 L1504.5 542.9 L1505.5 543.4 L1506.5 543.9 L1507.5 544.2 L1508.5 544.5 L1509.5 544.8 L1510.5 545.1 L1511.5 545.4 L1512.5 545.6 L1513.5 545.9 L1514.5 546.1 L1515.5 546.4 L1516.5 546.6 L1517.5 546.8 L1518.5 547.0 L1519.5 547.2 L1520.5 547.3 L1521.5 547.5 L1522.5 547.6 L1523.5 547.8 L1524.5 547.9 L1525.5 548.0 L1526.5 548.1 L1527.5 548.2 L1528.5 548.3 L1529.5 548.4 L1530.5 548.5 L1531.5 548.5 L1532.5 548.6 L1533.5 548.7 L1534.5 548.8 L1535.5 548.8 L1536.5 548.9 L1537.5 549.0 L1538.5 549.0 L1539.5 549.1 L1540.5 549.2 L1541.5 549.2 L1542.5 549.3 L1543.5 549.3 L1544.5 549.4 L1545.5 549.4 L1546.5 549.5 L1547.5 549.5 L1548.5 549.6 L1549.5 549.6 L1550.5 549.7 L1551.5 549.7 L1552.5 549.7 L1553.5 549.8 L1554.5 549.8 L1555.5 549.9 L1556.5 549.9 L1557.5 549.9 L1558.5 550.0 L1559.5 550.0 L1560.5 550.0 L1561.5 550.1 L1562.5 550.1 L1563.5 550.1 L1564.5 550.2 L1565.5 550.2 L1566.5 550.2 L1567.5 550.3 L1568.5 550.3 L1569.5 550.3 L1570.5 550.4 L1571.5 550.4 L1572.5 550.4 L1573.5 550.5 L1574.5 550.5 L1575.5 550.5 L1576.5 550.6 L1577.5 550.6 L1578.5 550.6 L1579.5 550.6 L1580.5 550.7 L1581.5 550.7 L1582.5 550.7 L1583.5 550.8 L1584.5 550.8 L1585.5 550.8 L1586.5 550.8 L1587.5 550.9 L1588.5 550.9 L1589.5 550.9 L1590.5 551.0 L1591.5 551.0 L1592.5 551.0 L1593.5 551.0 L1594.5 551.1 L1595.5 551.1 L1596.5 551.1 L1597.5 551.1 L1598.5 551.1 L1599.5 551.2 L1600.5 551.2 L1601.5 551.2 L1602.5 551.2 L1603.5 551.3 L1604.5 551.3 L1605.5 551.3 L1606.5 551.3 L1607.5 551.3 L1608.5 551.3 L1609.5 551.4 L1610.5 551.4 L1611.5 551.4 L1612.5 551.4 L1613.5 551.4 L1614.5 551.4 L1615.5 551.4 L1616.5 551.5 L1617.5 551.5 L1618.5 551.5 L1619.5 551.5" stroke="#000" stroke-width="2.5" fill="none" stroke-linejoin="round"/><path d="M123.5 482.8 L124.7 483.8 L125.9 483.5 L127.1 482.2 L128.3 485.3 L129.5 482.4 L130.7 485.4 L131.9 487.0 L133.1 482.2 L134.3 485.7 L135.5 486.2 L136.7 486.4 L137.9 485.4 L139.1 486.4 L140.3 485.3 L141.5 487.8 L142.7 488.7 L143.9 487.6 L145.1 487.8 L146.3 488.9 L147.5 490.0 L148.7 490.7 L149.9 491.0 L151.1 491.7 L152.3 490.4 L153.5 489.1 L154.7 493.9 L155.9 495.5 L157.1 492.1 L158.3 493.5 L159.5 495.1 L160.7 496.4 L161.9 496.3 L163.1 497.5 L164.3 496.0 L165.5 497.0 L166.7 497.3 L167.9 496.5 L169.1 499.0 L170.3 498.5 L171.5 499.3 L172.7 497.6 L173.9 499.9 L175.1 497.2 L176.3 499.5 L177.5 495.4 L178.7 497.9 L179.9 500.7 L181.1 499.1 L182.3 500.2 L183.5 497.8 L184.7 502.6 L185.9 501.3 L187.1 500.6 L188.3 501.4 L189.5 501.4 L190.7 503.2 L191.9 501.6 L193.1 499.3 L194.3 501.3 L195.5 503.7 L196.7 502.9 L197.9 501.7 L199.1 503.4 L200.3 503.0 L201.5 504.0 L202.7 501.2 L203.9 502.5 L205.1 505.0 L206.3 504.0 L207.5 505.2 L208.7 507.7 L209.9 504.9 L211.1 506.0 L212.3 505.2 L213.5 505.4 L214.7 506.5 L215.9 504.9 L217.1 504.3 L218.3 509.4 L219.5 507.7 L220.7 509.7 L221.9 508.7 L223.1 509.0 L224.3 510.1 L225.5 510.5 L226.7 508.1 L227.9 511.8 L229.1 509.1 L230.3 511.0 L231.5 514.6 L232.7 511.4 L233.9 513.9 L235.1 511.2 L236.3 512.8 L237.5 512.2 L238.7 513.0 L239.9 511.3 L241.1 511.4 L242.3 513.4 L243.5 510.9 L244.7 512.1 L245.9 514.4 L247.1 512.8 L248.3 512.5 L249.5 512.3 L250.7 514.3 L251.9 513.7 L253.1 514.6 L254.3 514.2 L255.5 517.4 L256.7 514.1 L257.9 511.9 L259.1 515.1 L260.3 515.0 L261.5 515.4 L262.7 512.9 L263.9 517.1 L265.1 515.4 L266.3 515.5 L267.5 513.3 L268.7 516.4 L269.9 515.7 L271.1 517.9 L272.3 515.3 L273.5 514.1 L274.7 516.2 L275.9 514.6 L277.1 516.7 L278.3 514.4 L279.5 515.8 L280.7 515.7 L281.9 515.9 L283.1 515.1 L284.3 514.6 L285.5 515.8 L286.7 514.9 L287.9 516.0 L289.1 515.3 L290.3 512.3 L291.5 515.7 L292.7 517.9 L293.9 516.3 L295.1 516.8 L296.3 516.6 L297.5 515.3 L298.7 514.0 L299.9 517.3 L301.1 517.8 L302.3 517.1 L303.5 517.0 L304.7 517.0 L305.9 516.5 L307.1 517.0 L308.3 516.7 L309.5 517.2 L310.7 515.3 L311.9 515.8 L313.1 517.7 L314.3 516.3 L315.5 513.2 L316.7 517.1 L317.9 513.5 L319.1 519.9 L320.3 518.1 L321.5 518.1 L322.7 516.0 L323.9 515.4 L325.1 516.8 L326.3 517.2 L327.5 516.0 L328.7 517.4 L329.9 518.3 L331.1 518.2 L332.3 515.7 L333.5 514.0 L334.7 517.4 L335.9 516.4 L337.1 518.1 L338.3 520.0 L339.5 520.0 L340.7 518.0 L341.9 519.3 L343.1 520.1 L344.3 517.7 L345.5 518.1 L346.7 519.0 L347.9 517.7 L349.1 517.0 L350.3 516.6 L351.5 517.8 L352.7 516.8 L353.9 519.0 L355.1 517.2 L356.3 519.9 L357.5 519.5 L358.7 515.8 L359.9 519.2 L361.1 517.0 L362.3 519.6 L363.5 518.2 L364.7 517.3 L365.9 518.3 L367.1 516.4 L368.3 517.6 L369.5 517.6 L370.7 516.7 L371.9 517.3 L373.1 515.2 L374.3 516.8 L375.5 514.1 L376.7 515.4 L377.9 514.4 L379.1 513.3 L380.3 510.3 L381.5 510.9 L382.7 506.2 L383.9 504.9 L385.1 503.0 L386.3 505.1 L387.5 502.3 L388.7 503.8 L389.9 500.9 L391.1 501.8 L392.3 500.2 L393.5 500.0 L394.7 496.6 L395.9 493.0 L397.1 488.3 L398.3 477.6 L399.5 465.7 L400.7 451.9 L401.9 436.4 L403.1 420.1 L404.3 385.4 L405.5 336.6 L406.7 288.2 L407.9 237.3 L409.1 192.3 L410.3 153.3 L411.5 121.2 L412.7 114.1 L413.9 152.5 L415.1 198.7 L416.3 235.7 L417.5 273.2 L418.7 315.0 L419.9 365.3 L421.1 405.2 L422.3 431.5 L423.5 452.6 L424.7 473.1 L425.9 480.8 L427.1 486.1 L428.3 488.0 L429.5 493.8 L430.7 498.1 L431.9 501.2 L433.1 505.4 L434.3 505.7 L435.5 506.3 L436.7 505.3 L437.9 507.6 L439.1 506.8 L440.3 507.4 L441.5 507.2 L442.7 505.7 L443.9 506.2 L445.1 507.0 L446.3 505.8 L447.5 504.3 L448.7 500.9 L449.9 505.1 L451.1 506.1 L452.3 506.8 L453.5 508.2 L454.7 510.9 L455.9 511.3 L457.1 514.4 L458.3 513.9 L459.5 515.4 L460.7 517.6 L461.9 517.4 L463.1 520.0 L464.3 521.6 L465.5 520.2 L466.7 523.5 L467.9 521.8 L469.1 523.6 L470.3 523.3 L471.5 522.6 L472.7 522.8 L473.9 521.3 L475.1 522.9 L476.3 522.9 L477.5 526.5 L478.7 525.8 L479.9 522.5 L481.1 525.7 L482.3 525.0 L483.5 524.2 L484.7 525.5 L485.9 526.1 L487.1 524.2 L488.3 524.6 L489.5 525.3 L490.7 523.6 L491.9 525.4 L493.1 525.0 L494.3 524.0 L495.5 523.8 L496.7 525.4 L497.9 526.2 L499.1 525.3 L500.3 523.5 L501.5 525.8 L502.7 524.8 L503.9 525.3 L505.1 526.1 L506.3 523.0 L507.5 524.0 L508.7 523.3 L509.9 522.8 L511.1 526.9 L512.3 525.3 L513.5 521.3 L514.7 524.4 L515.9 522.9 L517.1 525.4 L518.3 523.8 L519.5 523.4 L520.7 524.0 L521.9 524.4 L523.1 524.0 L524.3 523.9 L525.5 524.2 L526.7 525.3 L527.9 523.3 L529.1 525.1 L530.3 525.1 L531.5 524.9 L532.7 526.8 L533.9 524.2 L535.1 525.6 L536.3 525.0 L537.5 527.1 L538.7 525.7 L539.9 526.4 L541.1 526.2 L542.3 523.2 L543.5 524.1 L544.7 521.7 L545.9 519.1 L547.1 514.3 L548.3 509.6 L549.5 505.5 L550.7 505.7 L551.9 505.5 L553.1 510.1 L554.3 515.9 L555.5 521.3 L556.7 524.4 L557.9 524.6 L559.1 524.8 L560.3 526.7 L561.5 527.6 L562.7 528.0 L563.9 527.6 L565.1 525.6 L566.3 528.4 L567.5 530.8 L568.7 529.8 L569.9 526.5 L571.1 529.7 L572.3 527.2 L573.5 532.8 L574.7 530.3 L575.9 528.4 L577.1 531.4 L578.3 529.1 L579.5 531.2 L580.7 530.4 L581.9 528.7 L583.1 531.4 L584.3 528.5 L585.5 532.5 L586.7 530.6 L587.9 529.0 L589.1 527.8 L590.3 531.8 L591.5 530.9 L592.7 527.1 L593.9 529.4 L595.1 526.8 L596.3 524.4 L597.5 519.9 L598.7 514.5 L599.9 512.0 L601.1 510.4 L602.3 510.1 L603.5 515.6 L604.7 517.4 L605.9 518.4 L607.1 520.4 L608.3 519.7 L609.5 521.1 L610.7 521.5 L611.9 521.3 L613.1 520.0 L614.3 519.7 L615.5 521.9 L616.7 520.5 L617.9 523.7 L619.1 519.2 L620.3 521.3 L621.5 520.1 L622.7 518.8 L623.9 521.1 L625.1 518.2 L626.3 514.0 L627.5 510.0 L628.7 507.7 L629.9 504.4 L631.1 507.1 L632.3 505.9 L633.5 504.4 L634.7 506.6 L635.9 506.8 L637.1 504.9 L638.3 503.9 L639.5 503.2 L640.7 495.5 L641.9 484.1 L643.1 474.0 L644.3 462.1 L645.5 450.8 L646.7 445.8 L647.9 450.6 L649.1 454.3 L650.3 459.8 L651.5 470.3 L652.7 480.9 L653.9 488.4 L655.1 491.7 L656.3 493.4 L657.5 495.5 L658.7 497.9 L659.9 499.1 L661.1 502.4 L662.3 504.0 L663.5 507.9 L664.7 510.3 L665.9 514.4 L667.1 516.9 L668.3 521.0 L669.5 523.2 L670.7 525.6 L671.9 529.0 L673.1 530.7 L674.3 531.3 L675.5 530.5 L676.7 530.3 L677.9 532.6 L679.1 532.7 L680.3 532.8 L681.5 533.7 L682.7 532.1 L683.9 536.7 L685.1 532.9 L686.3 533.6 L687.5 535.0 L688.7 531.8 L689.9 534.6 L691.1 534.1 L692.3 531.7 L693.5 529.8 L694.7 529.2 L695.9 526.6 L697.1 531.2 L698.3 529.7 L699.5 529.2 L700.7 529.7 L701.9 532.1 L703.1 533.9 L704.3 531.1 L705.5 532.4 L706.7 531.3 L707.9 534.9 L709.1 534.6 L710.3 537.8 L711.5 535.2 L712.7 535.2 L713.9 535.3 L715.1 537.7 L716.3 534.8 L717.5 538.3 L718.7 538.0 L719.9 537.3 L721.1 537.0 L722.3 539.9 L723.5 541.2 L724.7 538.0 L725.9 539.5 L727.1 541.3 L728.3 537.8 L729.5 538.3 L730.7 536.8 L731.9 538.5 L733.1 538.6 L734.3 538.1 L735.5 537.6 L736.7 536.3 L737.9 536.7 L739.1 537.2 L740.3 539.7 L741.5 537.9 L742.7 537.4 L743.9 539.7 L745.1 539.6 L746.3 537.6 L747.5 537.7 L748.7 539.7 L749.9 539.3 L751.1 537.4 L752.3 539.1 L753.5 538.7 L754.7 540.4 L755.9 537.4 L757.1 540.1 L758.3 539.4 L759.5 537.3 L760.7 540.4 L761.9 540.2 L763.1 536.9 L764.3 541.9 L765.5 537.2 L766.7 537.6 L767.9 538.5 L769.1 540.2 L770.3 540.0 L771.5 539.0 L772.7 541.2 L773.9 539.8 L775.1 541.4 L776.3 543.6 L777.5 539.6 L778.7 535.5 L779.9 538.7 L781.1 537.8 L782.3 539.6 L783.5 539.6 L784.7 537.6 L785.9 537.7 L787.1 539.1 L788.3 539.2 L789.5 535.6 L790.7 540.6 L791.9 539.1 L793.1 538.8 L794.3 539.0 L795.5 536.9 L796.7 537.9 L797.9 539.1 L799.1 538.8 L800.3 537.6 L801.5 536.3 L802.7 535.3 L803.9 537.9 L805.1 536.4 L806.3 534.8 L807.5 532.1 L808.7 533.4 L809.9 531.6 L811.1 535.2 L812.3 533.3 L813.5 531.6 L814.7 531.5 L815.9 534.1 L817.1 531.6 L818.3 527.7 L819.5 527.5 L820.7 524.8 L821.9 522.3 L823.1 521.4 L824.3 520.1 L825.5 515.7 L826.7 509.7 L827.9 503.3 L829.1 496.5 L830.3 487.6 L831.5 475.7 L832.7 464.3 L833.9 454.0 L835.1 441.3 L836.3 434.9 L837.5 435.4 L838.7 442.4 L839.9 450.4 L841.1 462.9 L842.3 478.8 L843.5 490.9 L844.7 500.6 L845.9 508.3 L847.1 510.4 L848.3 511.9 L849.5 515.4 L850.7 517.7 L851.9 518.4 L853.1 517.3 L854.3 520.8 L855.5 522.0 L856.7 522.5 L857.9 522.6 L859.1 527.6 L860.3 529.3 L861.5 530.8 L862.7 530.3 L863.9 531.8 L865.1 535.7 L866.3 536.3 L867.5 536.4 L868.7 535.9 L869.9 537.2 L871.1 536.4 L872.3 537.1 L873.5 536.7 L874.7 538.6 L875.9 538.0 L877.1 540.2 L878.3 540.2 L879.5 538.2 L880.7 542.3 L881.9 538.0 L883.1 540.5 L884.3 541.6 L885.5 542.0 L886.7 536.5 L887.9 541.6 L889.1 541.9 L890.3 542.3 L891.5 536.5 L892.7 538.9 L893.9 539.8 L895.1 539.3 L896.3 542.1 L897.5 538.9 L898.7 542.0 L899.9 540.9 L901.1 537.7 L902.3 538.4 L903.5 539.3 L904.7 540.2 L905.9 541.6 L907.1 539.7 L908.3 541.5 L909.5 537.5 L910.7 535.2 L911.9 539.4 L913.1 540.6 L914.3 539.2 L915.5 538.1 L916.7 540.0 L917.9 542.0 L919.1 538.8 L920.3 537.6 L921.5 537.1 L922.7 540.5 L923.9 537.4 L925.1 537.7 L926.3 537.5 L927.5 535.5 L928.7 531.4 L929.9 529.8 L931.1 526.4 L932.3 522.8 L933.5 519.8 L934.7 515.2 L935.9 511.5 L937.1 506.9 L938.3 503.2 L939.5 498.0 L940.7 494.5 L941.9 489.6 L943.1 485.5 L944.3 480.6 L945.5 476.3 L946.7 472.9 L947.9 470.4 L949.1 469.8 L950.3 470.0 L951.5 475.4 L952.7 477.5 L953.9 480.8 L955.1 484.2 L956.3 489.2 L957.5 490.3 L958.7 491.9 L959.9 489.4 L961.1 485.4 L962.3 481.3 L963.5 477.7 L964.7 473.1 L965.9 472.0 L967.1 470.9 L968.3 470.6 L969.5 473.1 L970.7 476.8 L971.9 481.4 L973.1 488.4 L974.3 497.6 L975.5 506.1 L976.7 513.6 L977.9 517.0 L979.1 520.8 L980.3 523.2 L981.5 526.3 L982.7 528.2 L983.9 529.5 L985.1 527.7 L986.3 531.1 L987.5 530.6 L988.7 529.5 L989.9 532.4 L991.1 529.8 L992.3 533.3 L993.5 534.8 L994.7 532.1 L995.9 534.4 L997.1 534.2 L998.3 535.0 L999.5 532.8 L1000.7 535.9 L1001.9 535.7 L1003.1 537.0 L1004.3 536.5 L1005.5 538.4 L1006.7 537.7 L1007.9 538.7 L1009.1 540.0 L1010.3 538.6 L1011.5 540.0 L1012.7 539.0 L1013.9 539.6 L1015.1 538.2 L1016.3 540.3 L1017.5 541.1 L1018.7 539.3 L1019.9 540.7 L1021.1 540.3 L1022.3 538.0 L1023.5 540.3 L1024.7 541.9 L1025.9 539.2 L1027.1 537.4 L1028.3 540.5 L1029.5 539.3 L1030.7 543.2 L1031.9 540.3 L1033.1 540.5 L1034.3 539.6 L1035.5 541.0 L1036.7 539.9 L1037.9 539.4 L1039.1 540.8 L1040.3 539.7 L1041.5 543.1 L1042.7 539.3 L1043.9 541.1 L1045.1 540.2 L1046.3 539.1 L1047.5 543.9 L1048.7 538.1 L1049.9 543.6 L1051.1 539.1 L1052.3 541.5 L1053.5 544.9 L1054.7 538.0 L1055.9 539.2 L1057.1 543.3 L1058.3 541.5 L1059.5 540.4 L1060.7 541.1 L1061.9 539.6 L1063.1 541.3 L1064.3 543.3 L1065.5 540.4 L1066.7 541.1 L1067.9 542.6 L1069.1 543.7 L1070.3 539.7 L1071.5 540.9 L1072.7 539.5 L1073.9 539.2 L1075.1 539.5 L1076.3 539.0 L1077.5 537.2 L1078.7 536.7 L1079.9 538.4 L1081.1 539.4 L1082.3 540.7 L1083.5 537.9 L1084.7 537.3 L1085.9 536.7 L1087.1 535.2 L1088.3 532.7 L1089.5 531.0 L1090.7 531.3 L1091.9 527.6 L1093.1 525.7 L1094.3 522.8 L1095.5 522.8 L1096.7 520.2 L1097.9 520.1 L1099.1 516.1 L1100.3 515.0 L1101.5 513.0 L1102.7 510.9 L1103.9 505.9 L1105.1 505.0 L1106.3 500.9 L1107.5 498.1 L1108.7 495.6 L1109.9 493.8 L1111.1 492.8 L1112.3 490.8 L1113.5 495.7 L1114.7 498.6 L1115.9 502.0 L1117.1 506.7 L1118.3 512.0 L1119.5 513.6 L1120.7 515.0 L1121.9 518.7 L1123.1 518.2 L1124.3 520.3 L1125.5 521.4 L1126.7 523.1 L1127.9 525.4 L1129.1 526.7 L1130.3 526.8 L1131.5 528.8 L1132.7 530.5 L1133.9 531.4 L1135.1 533.1 L1136.3 533.5 L1137.5 534.5 L1138.7 536.2 L1139.9 535.4 L1141.1 537.7 L1142.3 537.4 L1143.5 536.8 L1144.7 537.6 L1145.9 538.1 L1147.1 538.9 L1148.3 539.6 L1149.5 539.4 L1150.7 538.8 L1151.9 542.3 L1153.1 541.7 L1154.3 540.8 L1155.5 542.2 L1156.7 541.5 L1157.9 540.8 L1159.1 541.4 L1160.3 545.3 L1161.5 543.0 L1162.7 543.1 L1163.9 541.1 L1165.1 542.7 L1166.3 545.2 L1167.5 542.6 L1168.7 543.6 L1169.9 544.0 L1171.1 543.1 L1172.3 544.6 L1173.5 542.7 L1174.7 543.1 L1175.9 541.5 L1177.1 546.5 L1178.3 543.0 L1179.5 542.8 L1180.7 544.8 L1181.9 541.9 L1183.1 542.7 L1184.3 541.6 L1185.5 542.8 L1186.7 542.2 L1187.9 543.7 L1189.1 542.6 L1190.3 541.9 L1191.5 542.4 L1192.7 542.7 L1193.9 542.0 L1195.1 544.2 L1196.3 543.8 L1197.5 542.9 L1198.7 540.9 L1199.9 543.4 L1201.1 540.6 L1202.3 542.7 L1203.5 542.4 L1204.7 541.3 L1205.9 540.9 L1207.1 540.9 L1208.3 544.8 L1209.5 541.2 L1210.7 541.1 L1211.9 542.3 L1213.1 540.4 L1214.3 539.2 L1215.5 535.2 L1216.7 533.1 L1217.9 534.9 L1219.1 530.3 L1220.3 528.5 L1221.5 527.3 L1222.7 526.6 L1223.9 523.0 L1225.1 523.6 L1226.3 522.7 L1227.5 523.7 L1228.7 523.5 L1229.9 523.7 L1231.1 524.5 L1232.3 523.8 L1233.5 528.5 L1234.7 526.7 L1235.9 528.9 L1237.1 532.2 L1238.3 530.7 L1239.5 532.6 L1240.7 531.7 L1241.9 532.6 L1243.1 531.0 L1244.3 529.2 L1245.5 529.6 L1246.7 526.5 L1247.9 523.9 L1249.1 523.6 L1250.3 523.7 L1251.5 521.0 L1252.7 523.9 L1253.9 524.6 L1255.1 527.2 L1256.3 526.4 L1257.5 529.4 L1258.7 529.2 L1259.9 531.9 L1261.1 533.7 L1262.3 535.2 L1263.5 535.8 L1264.7 536.9 L1265.9 537.4 L1267.1 538.6 L1268.3 540.3 L1269.5 541.3 L1270.7 542.0 L1271.9 542.9 L1273.1 543.4 L1274.3 539.4 L1275.5 541.4 L1276.7 542.0 L1277.9 541.5 L1279.1 544.1 L1280.3 543.8 L1281.5 542.7 L1282.7 543.2 L1283.9 545.0 L1285.1 542.7 L1286.3 542.9 L1287.5 544.8 L1288.7 544.3 L1289.9 545.7 L1291.1 544.3 L1292.3 544.9 L1293.5 543.0 L1294.7 542.5 L1295.9 543.9 L1297.1 540.0 L1298.3 544.6 L1299.5 545.5 L1300.7 544.2 L1301.9 543.7 L1303.1 545.7 L1304.3 543.9 L1305.5 545.4 L1306.7 547.1 L1307.9 544.8 L1309.1 544.9 L1310.3 544.1 L1311.5 543.6 L1312.7 543.4 L1313.9 542.8 L1315.1 543.9 L1316.3 540.0 L1317.5 541.5 L1318.7 542.3 L1319.9 539.9 L1321.1 540.5 L1322.3 539.3 L1323.5 540.2 L1324.7 540.2 L1325.9 540.4 L1327.1 538.7 L1328.3 536.6 L1329.5 536.4 L1330.7 534.6 L1331.9 532.9 L1333.1 527.7 L1334.3 527.6 L1335.5 523.9 L1336.7 524.1 L1337.9 521.9 L1339.1 520.0 L1340.3 518.8 L1341.5 517.2 L1342.7 515.2 L1343.9 516.7 L1345.1 518.5 L1346.3 519.1 L1347.5 521.6 L1348.7 523.1 L1349.9 527.3 L1351.1 527.7 L1352.3 528.6 L1353.5 529.8 L1354.7 530.1 L1355.9 531.6 L1357.1 534.1 L1358.3 534.2 L1359.5 535.6 L1360.7 536.2 L1361.9 533.9 L1363.1 536.1 L1364.3 538.0 L1365.5 539.5 L1366.7 535.7 L1367.9 536.5 L1369.1 539.5 L1370.3 539.5 L1371.5 539.7 L1372.7 542.1 L1373.9 541.6 L1375.1 540.4 L1376.3 543.7 L1377.5 544.2 L1378.7 545.1 L1379.9 545.6 L1381.1 544.7 L1382.3 544.2 L1383.5 543.6 L1384.7 542.3 L1385.9 544.2 L1387.1 546.4 L1388.3 546.0 L1389.5 548.1 L1390.7 545.0 L1391.9 542.6 L1393.1 546.6 L1394.3 547.0 L1395.5 543.7 L1396.7 543.1 L1397.9 545.8 L1399.1 546.7 L1400.3 544.0 L1401.5 545.3 L1402.7 544.6 L1403.9 544.1 L1405.1 543.9 L1406.3 546.1 L1407.5 545.4 L1408.7 545.0 L1409.9 542.1 L1411.1 548.7 L1412.3 544.6 L1413.5 545.9 L1414.7 544.4 L1415.9 546.7 L1417.1 543.8 L1418.3 546.3 L1419.5 545.8 L1420.7 547.5 L1421.9 544.5 L1423.1 545.1 L1424.3 545.7 L1425.5 549.3 L1426.7 543.8 L1427.9 546.5 L1429.1 545.0 L1430.3 546.4 L1431.5 546.9 L1432.7 546.1 L1433.9 546.2 L1435.1 546.2 L1436.3 544.9 L1437.5 545.4 L1438.7 543.1 L1439.9 545.0 L1441.1 544.3 L1442.3 545.0 L1443.5 546.4 L1444.7 545.7 L1445.9 545.8 L1447.1 546.6 L1448.3 541.4 L1449.5 545.4 L1450.7 544.6 L1451.9 544.4 L1453.1 542.5 L1454.3 545.0 L1455.5 545.7 L1456.7 545.4 L1457.9 543.6 L1459.1 544.5 L1460.3 544.8 L1461.5 545.9 L1462.7 544.8 L1463.9 543.1 L1465.1 542.7 L1466.3 542.2 L1467.5 541.4 L1468.7 539.7 L1469.9 540.0 L1471.1 537.4 L1472.3 536.1 L1473.5 536.2 L1474.7 534.1 L1475.9 533.5 L1477.1 530.6 L1478.3 532.9 L1479.5 531.0 L1480.7 529.9 L1481.9 529.6 L1483.1 528.7 L1484.3 527.0 L1485.5 530.8 L1486.7 527.5 L1487.9 529.8 L1489.1 531.6 L1490.3 530.1 L1491.5 532.0 L1492.7 532.4 L1493.9 535.5 L1495.1 535.2 L1496.3 535.4 L1497.5 538.9 L1498.7 539.5 L1499.9 538.5 L1501.1 541.7 L1502.3 541.6 L1503.5 545.3 L1504.7 545.0 L1505.9 542.9 L1507.1 543.7 L1508.3 543.3 L1509.5 545.0 L1510.7 545.2 L1511.9 546.5 L1513.1 545.9 L1514.3 544.1 L1515.5 545.3 L1516.7 548.6 L1517.9 548.5 L1519.1 546.9 L1520.3 547.1 L1521.5 547.2 L1522.7 547.7 L1523.9 545.4 L1525.1 549.3 L1526.3 547.1 L1527.5 548.4 L1528.7 544.6 L1529.9 548.8 L1531.1 550.5 L1532.3 545.3 L1533.5 550.9 L1534.7 549.5 L1535.9 547.8 L1537.1 546.6 L1538.3 550.7 L1539.5 549.5 L1540.7 550.0 L1541.9 548.8 L1543.1 548.1 L1544.3 550.7 L1545.5 548.0 L1546.7 550.8 L1547.9 547.0 L1549.1 548.2 L1550.3 547.5 L1551.5 551.7 L1552.7 547.1 L1553.9 548.1 L1555.1 550.8 L1556.3 550.2 L1557.5 553.2 L1558.7 552.7 L1559.9 551.0 L1561.1 551.1 L1562.3 547.4 L1563.5 548.8 L1564.7 549.7 L1565.9 550.0 L1567.1 548.2 L1568.3 548.9 L1569.5 549.1 L1570.7 552.0 L1571.9 551.1 L1573.1 549.9 L1574.3 550.1 L1575.5 551.0 L1576.7 549.5 L1577.9 550.2 L1579.1 548.0 L1580.3 551.7 L1581.5 552.2 L1582.7 551.3 L1583.9 551.5 L1585.1 551.4 L1586.3 553.9 L1587.5 551.2 L1588.7 548.9 L1589.9 549.4 L1591.1 552.0 L1592.3 552.6 L1593.5 552.2 L1594.7 552.3 L1595.9 551.4 L1597.1 548.9 L1598.3 550.1 L1599.5 548.4 L1600.7 550.6 L1601.9 549.2 L1603.1 551.4 L1604.3 551.0 L1605.5 548.3 L1606.7 552.4 L1607.9 552.5 L1609.1 549.2 L1610.3 551.6 L1611.5 552.5 L1612.7 551.0 L1613.9 552.7 L1615.1 551.7 L1616.3 553.1 L1617.5 551.7 L1618.7 551.2 L1619.9 552.3" stroke="#000" stroke-width="1.4" fill="none" stroke-linejoin="round" opacity="0.45"/><circle cx="410.8" cy="56.3" r="8.8" fill="#0000ff"/><circle cx="620.9" cy="281.7" r="8.8" fill="#0000ff"/><circle cx="641.2" cy="257.7" r="8.8" fill="#0000ff"/><circle cx="660.6" cy="281.7" r="8.8" fill="#0000ff"/><circle cx="834.9" cy="269.7" r="8.8" fill="#0000ff"/><circle cx="944.3" cy="290.6" r="8.8" fill="#0000ff"/><circle cx="969.9" cy="293.2" r="8.8" fill="#0000ff"/><circle cx="1114.3" cy="315.3" r="8.8" fill="#0000ff"/><circle cx="1226.0" cy="344.1" r="8.8" fill="#0000ff"/><circle cx="1252.9" cy="347.1" r="8.8" fill="#0000ff"/><circle cx="1326.4" cy="359.5" r="8.8" fill="#0000ff"/><circle cx="1346.2" cy="336.6" r="8.8" fill="#0000ff"/><circle cx="1366.8" cy="359.5" r="8.8" fill="#0000ff"/><circle cx="1447.6" cy="365.8" r="8.8" fill="#0000ff"/><circle cx="1487.9" cy="355.0" r="8.8" fill="#0000ff"/><rect x="353.0" y="322.0" width="19.6" height="19.6" fill="#ff0000"/><rect x="589.0" y="327.6" width="19.6" height="19.6" fill="#ff0000"/><rect x="622.0" y="293.1" width="19.6" height="19.6" fill="#ff0000"/><rect x="659.5" y="305.4" width="19.6" height="19.6" fill="#ff0000"/><rect x="838.8" y="282.3" width="19.6" height="19.6" fill="#ff0000"/><rect x="876.1" y="350.2" width="19.6" height="19.6" fill="#ff0000"/><rect x="990.4" y="345.5" width="19.6" height="19.6" fill="#ff0000"/><rect x="1166.2" y="351.8" width="19.6" height="19.6" fill="#ff0000"/><path d="M287.3 475.8L297.3 485.8L287.3 495.8L277.3 485.8Z" fill="none" stroke="#00ff00" stroke-width="2.6"/><path d="M378.4 465.3L391.7 478.6L378.4 491.9L365.1 478.6Z" fill="none" stroke="#00ff00" stroke-width="2.6"/><path d="M449.7 442.7L463.0 456.0L449.7 469.3L436.4 456.0Z" fill="none" stroke="#00ff00" stroke-width="2.6"/><path d="M551.7 430.9L565.0 444.2L551.7 457.5L538.4 444.2Z" fill="none" stroke="#00ff00" stroke-width="2.6"/><path d="M603.4 435.4L616.7 448.7L603.4 462.0L590.1 448.7Z" fill="none" stroke="#00ff00" stroke-width="2.6"/><path d="M658.0 415.9L671.3 429.2L658.0 442.5L644.7 429.2Z" fill="none" stroke="#00ff00" stroke-width="2.6"/><path d="M976.0 422.2L989.3 435.5L976.0 448.8L962.7 435.5Z" fill="none" stroke="#00ff00" stroke-width="2.6"/><path d="M1199.3 498.4L1212.6 511.7L1199.3 525.0L1186.0 511.7Z" fill="none" stroke="#00ff00" stroke-width="2.6"/><path d="M549.6 468.7L571.6 468.7L560.6 489.7Z" fill="#ff00ff"/><path d="M602.4 472.7L624.4 472.7L613.4 493.7Z" fill="#ff00ff"/><path d="M683.7 482.3L705.7 482.3L694.7 503.3Z" fill="#ff00ff"/><path d="M733.3 503.3L755.3 503.3L744.3 524.3Z" fill="#ff00ff"/><path d="M770.9 500.5L792.9 500.5L781.9 521.5Z" fill="#ff00ff"/><path d="M999.7 497.2L1021.7 497.2L1010.7 518.2Z" fill="#ff00ff"/><path d="M1143.5 504.0L1165.5 504.0L1154.5 525.0Z" fill="#ff00ff"/><circle cx="157.9" cy="579.6" r="10.3" fill="#0000ff"/><rect x="140.5" y="689.5" width="20" height="20" fill="#ff0000"/><path d="M152.3 801L165 813.2L152.3 825.4L139.6 813.2Z" fill="none" stroke="#00ff00" stroke-width="2.6"/><path d="M144 918H170L157 944Z" fill="#ff00ff"/><rect x="123.6" y="38.2" width="1497.7" height="979" fill="none" stroke="#000" stroke-width="3"/><path d="M120 35.55H1624" stroke="#b2b2b2" stroke-width="2.3"/><path d="M120.6 35V1019" stroke="#d8d8d8" stroke-width="3"/><path d="M1624.2 35V1019" stroke="#c4c4c4" stroke-width="2.8"/><path d="M125 1014.5H1619.5" stroke="#a4a4a4" stroke-width="2.4"/><path d="M217.3 1017V1004.5M310.9 1017V995.5M404.4 1017V1004.5M498.0 1017V995.5M591.6 1017V1004.5M685.2 1017V995.5M778.8 1017V1004.5M872.3 1017V995.5M965.9 1017V1004.5M1059.5 1017V995.5M1153.1 1017V1004.5M1246.7 1017V995.5M1340.2 1017V1004.5M1433.8 1017V995.5M1527.4 1017V1004.5" stroke="#000" stroke-width="3"/><text x="124.7" y="1071.5" font-family="Liberation Serif, Times New Roman, serif" font-size="52" text-anchor="middle" fill="#000" stroke="#fff" stroke-width="0.9">10</text><text x="311.9" y="1071.5" font-family="Liberation Serif, Times New Roman, serif" font-size="52" text-anchor="middle" fill="#000" stroke="#fff" stroke-width="0.9">20</text><text x="499.0" y="1071.5" font-family="Liberation Serif, Times New Roman, serif" font-size="52" text-anchor="middle" fill="#000" stroke="#fff" stroke-width="0.9">30</text><text x="686.2" y="1071.5" font-family="Liberation Serif, Times New Roman, serif" font-size="52" text-anchor="middle" fill="#000" stroke="#fff" stroke-width="0.9">40</text><text x="873.3" y="1071.5" font-family="Liberation Serif, Times New Roman, serif" font-size="52" text-anchor="middle" fill="#000" stroke="#fff" stroke-width="0.9">50</text><text x="1060.5" y="1071.5" font-family="Liberation Serif, Times New Roman, serif" font-size="52" text-anchor="middle" fill="#000" stroke="#fff" stroke-width="0.9">60</text><text x="1247.7" y="1071.5" font-family="Liberation Serif, Times New Roman, serif" font-size="52" text-anchor="middle" fill="#000" stroke="#fff" stroke-width="0.9">70</text><text x="1434.8" y="1071.5" font-family="Liberation Serif, Times New Roman, serif" font-size="52" text-anchor="middle" fill="#000" stroke="#fff" stroke-width="0.9">80</text><text x="1622.0" y="1071.5" font-family="Liberation Serif, Times New Roman, serif" font-size="52" text-anchor="middle" fill="#000" stroke="#fff" stroke-width="0.9">90</text><text x="708" y="1145.5" font-family="Liberation Serif, Times New Roman, serif" font-size="61.5" fill="#000" stroke="#fff" stroke-width="0.9">2<tspan font-style="italic" dx="7.5">θ</tspan><tspan dx="10.5">(degree)</tspan></text><text transform="translate(87.5 750) rotate(-90)" font-family="Liberation Serif, Times New Roman, serif" font-size="62" fill="#000" stroke="#fff" stroke-width="0.7">Intensity (a.u.)</text><text x="135" y="295" font-family="Liberation Serif, Times New Roman, serif" font-size="47.5" fill="#ff8400" >Mn-Co/TiO<tspan dy="17" font-size="30">2</tspan></text><text x="136.8" y="450.5" font-family="Liberation Serif, Times New Roman, serif" font-size="48" fill="#000" >Mn-Fe/TiO<tspan dy="16" font-size="30">2</tspan></text><text x="184.5" y="595" font-family="Liberation Serif, Times New Roman, serif" font-size="48.5" fill="#0000ff" >TiO<tspan dy="15" font-size="30">2</tspan></text><text x="175.5" y="711" font-family="Liberation Serif, Times New Roman, serif" font-size="47" fill="#ff0000" >MnO<tspan dy="16" font-size="30">2</tspan></text><text x="181" y="826.4" font-family="Liberation Serif, Times New Roman, serif" font-size="47" fill="#00ff00" >Mn<tspan dy="17.5" font-size="30">2</tspan><tspan dy="-17.5">O</tspan><tspan dy="17.5" font-size="30">3</tspan></text><text x="188.5" y="944" font-family="Liberation Serif, Times New Roman, serif" font-size="47" fill="#ff00ff" >Mn<tspan dy="17.5" font-size="30">3</tspan><tspan dy="-17.5">O</tspan><tspan dy="17.5" font-size="30">4</tspan></text></svg></body></html>
